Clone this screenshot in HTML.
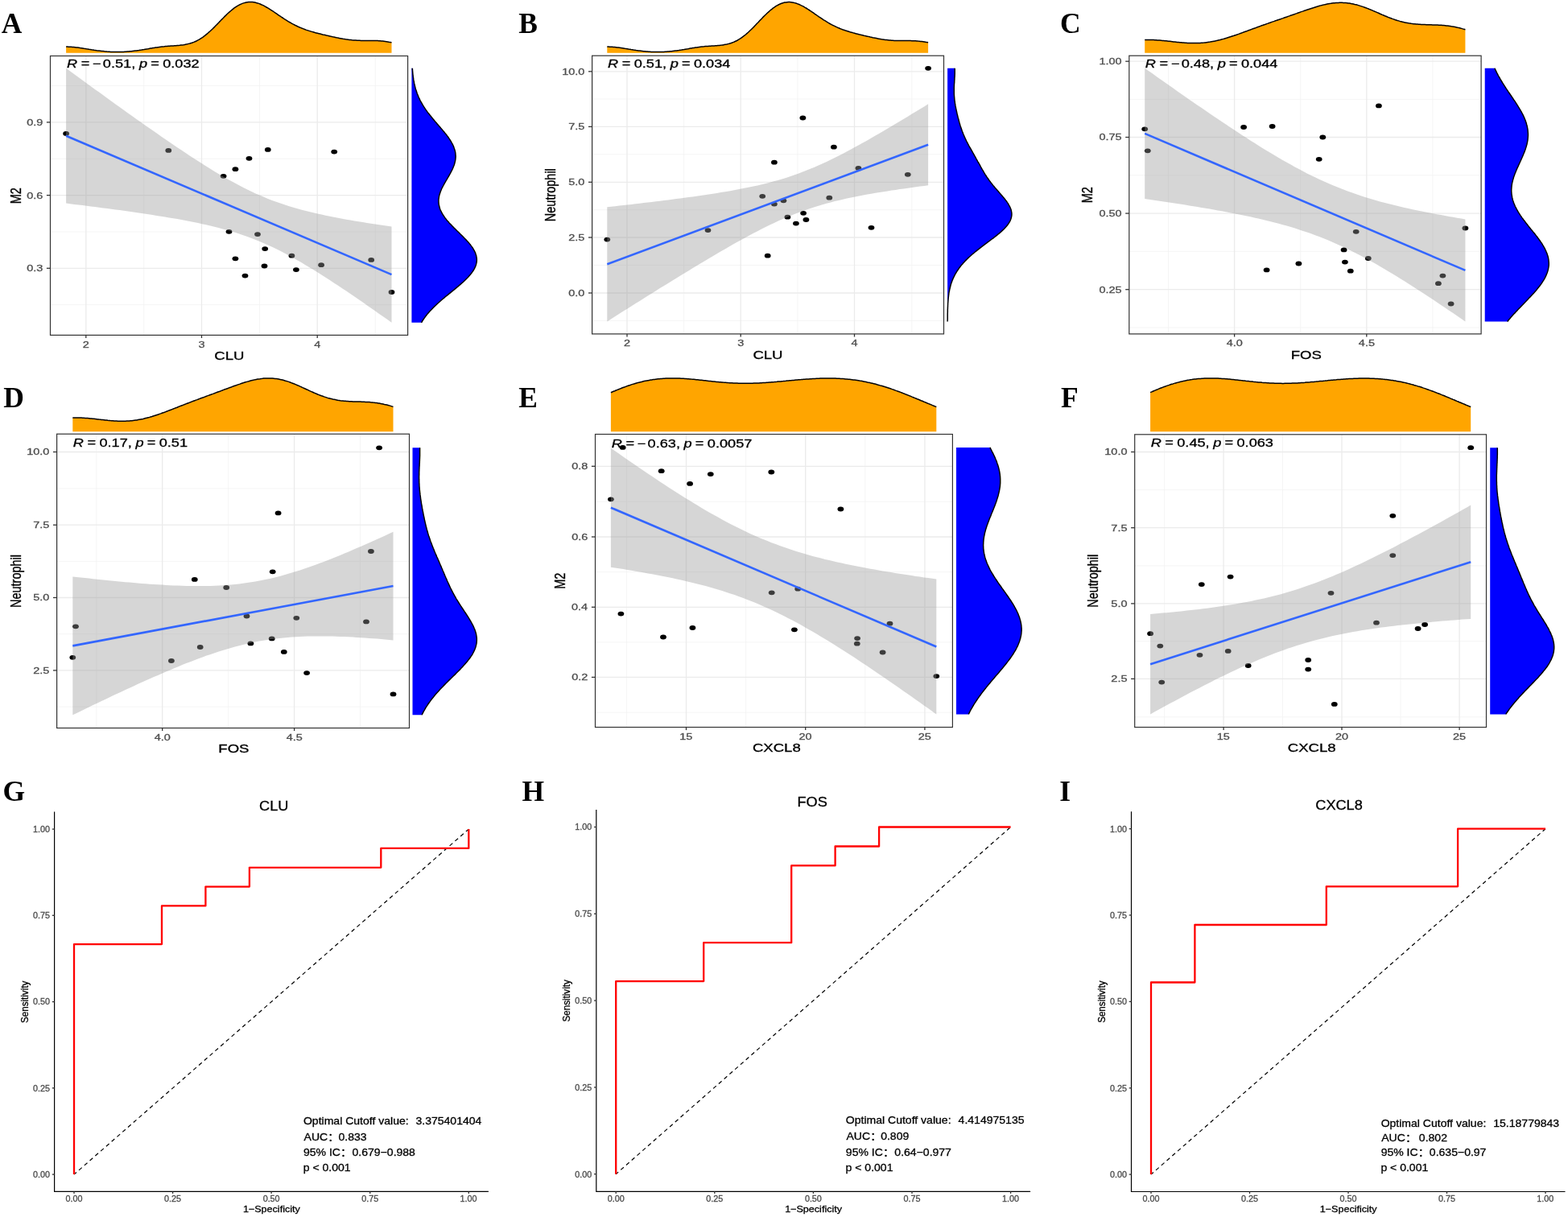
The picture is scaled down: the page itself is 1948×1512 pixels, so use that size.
<!DOCTYPE html>
<html><head><meta charset="utf-8"><title>Figure</title>
<style>
html,body{margin:0;padding:0;background:#fff;width:1948px;height:1512px;overflow:hidden}
svg{display:block}
.gM{stroke:#EBEBEB;stroke-width:1.3}
.gm{stroke:#F2F2F2;stroke-width:0.8}
</style></head><body>
<svg width="1948" height="1512" viewBox="0 0 1948 1512" font-family="'Liberation Sans', Arial, Helvetica, 'Noto Sans CJK SC', sans-serif"><g><line x1="178.7" y1="69.5" x2="178.7" y2="416.4" class="gm"/><line x1="322.5" y1="69.5" x2="322.5" y2="416.4" class="gm"/><line x1="466.3" y1="69.5" x2="466.3" y2="416.4" class="gm"/><line x1="62.5" y1="106.5" x2="506.6" y2="106.5" class="gm"/><line x1="62.5" y1="197.3" x2="506.6" y2="197.3" class="gm"/><line x1="62.5" y1="288.0" x2="506.6" y2="288.0" class="gm"/><line x1="62.5" y1="378.6" x2="506.6" y2="378.6" class="gm"/><line x1="106.8" y1="69.5" x2="106.8" y2="416.4" class="gM"/><line x1="250.5" y1="69.5" x2="250.5" y2="416.4" class="gM"/><line x1="394.2" y1="69.5" x2="394.2" y2="416.4" class="gM"/><line x1="62.5" y1="151.9" x2="506.6" y2="151.9" class="gM"/><line x1="62.5" y1="242.6" x2="506.6" y2="242.6" class="gM"/><line x1="62.5" y1="333.3" x2="506.6" y2="333.3" class="gM"/></g>
<g fill="#000"><ellipse cx="82.1" cy="165.9" rx="3.9" ry="2.9"/><ellipse cx="209.3" cy="186.9" rx="3.9" ry="2.9"/><ellipse cx="332.8" cy="185.9" rx="3.9" ry="2.9"/><ellipse cx="415.2" cy="188.6" rx="3.9" ry="2.9"/><ellipse cx="309.5" cy="196.8" rx="3.9" ry="2.9"/><ellipse cx="292.4" cy="210.2" rx="3.9" ry="2.9"/><ellipse cx="277.6" cy="218.8" rx="3.9" ry="2.9"/><ellipse cx="284.5" cy="287.8" rx="3.9" ry="2.9"/><ellipse cx="320.0" cy="291.1" rx="3.9" ry="2.9"/><ellipse cx="329.2" cy="309.1" rx="3.9" ry="2.9"/><ellipse cx="362.4" cy="317.7" rx="3.9" ry="2.9"/><ellipse cx="461.2" cy="322.9" rx="3.9" ry="2.9"/><ellipse cx="292.4" cy="321.3" rx="3.9" ry="2.9"/><ellipse cx="328.5" cy="330.5" rx="3.9" ry="2.9"/><ellipse cx="399.1" cy="329.2" rx="3.9" ry="2.9"/><ellipse cx="367.9" cy="335.1" rx="3.9" ry="2.9"/><ellipse cx="304.5" cy="342.6" rx="3.9" ry="2.9"/><ellipse cx="486.5" cy="363.0" rx="3.9" ry="2.9"/></g>
<polygon points="82.1,84.8 87.2,88.6 92.3,92.3 97.5,96.0 102.6,99.8 107.7,103.5 112.8,107.2 117.9,110.9 123.1,114.6 128.2,118.3 133.3,122.0 138.4,125.7 143.5,129.4 148.6,133.1 153.8,136.7 158.9,140.4 164.0,144.0 169.1,147.7 174.2,151.3 179.4,154.9 184.5,158.5 189.6,162.1 194.7,165.6 199.8,169.2 205.0,172.7 210.1,176.2 215.2,179.7 220.3,183.2 225.4,186.6 230.6,190.0 235.7,193.4 240.8,196.7 245.9,200.1 251.0,203.3 256.1,206.5 261.3,209.7 266.4,212.9 271.5,215.9 276.6,218.9 281.7,221.9 286.9,224.8 292.0,227.6 297.1,230.3 302.2,233.0 307.3,235.5 312.5,238.0 317.6,240.4 322.7,242.6 327.8,244.8 332.9,246.9 338.0,248.9 343.2,250.8 348.3,252.6 353.4,254.3 358.5,256.0 363.6,257.5 368.8,259.0 373.9,260.4 379.0,261.8 384.1,263.1 389.2,264.3 394.4,265.5 399.5,266.6 404.6,267.7 409.7,268.8 414.8,269.8 420.0,270.8 425.1,271.7 430.2,272.7 435.3,273.6 440.4,274.4 445.5,275.3 450.7,276.1 455.8,277.0 460.9,277.8 466.0,278.5 471.1,279.3 476.3,280.1 481.4,280.8 486.5,281.5 486.5,400.8 481.4,397.1 476.3,393.5 471.1,389.9 466.0,386.3 460.9,382.7 455.8,379.2 450.7,375.6 445.5,372.1 440.4,368.6 435.3,365.1 430.2,361.6 425.1,358.2 420.0,354.8 414.8,351.4 409.7,348.0 404.6,344.7 399.5,341.5 394.4,338.2 389.2,335.1 384.1,331.9 379.0,328.9 373.9,325.8 368.8,322.9 363.6,320.0 358.5,317.2 353.4,314.5 348.3,311.8 343.2,309.3 338.0,306.8 332.9,304.4 327.8,302.2 322.7,300.0 317.6,297.9 312.5,295.9 307.3,294.0 302.2,292.2 297.1,290.5 292.0,288.8 286.9,287.3 281.7,285.8 276.6,284.4 271.5,283.0 266.4,281.7 261.3,280.5 256.1,279.3 251.0,278.2 245.9,277.1 240.8,276.0 235.7,275.0 230.6,274.0 225.4,273.1 220.3,272.1 215.2,271.2 210.1,270.4 205.0,269.5 199.8,268.7 194.7,267.9 189.6,267.1 184.5,266.3 179.4,265.5 174.2,264.7 169.1,264.0 164.0,263.3 158.9,262.6 153.8,261.8 148.6,261.1 143.5,260.4 138.4,259.8 133.3,259.1 128.2,258.4 123.1,257.7 117.9,257.1 112.8,256.4 107.7,255.8 102.6,255.1 97.5,254.5 92.3,253.9 87.2,253.2 82.1,252.6" fill="#999" fill-opacity="0.4"/>
<line x1="82.1" y1="168.7" x2="486.5" y2="341.1" stroke="#3366FF" stroke-width="2.6"/>
<rect x="62.5" y="69.5" width="444.1" height="346.9" fill="none" stroke="#333" stroke-width="1.2"/>
<g stroke="#333" stroke-width="1.3"><line x1="106.8" y1="416.4" x2="106.8" y2="420.0"/><line x1="250.5" y1="416.4" x2="250.5" y2="420.0"/><line x1="394.2" y1="416.4" x2="394.2" y2="420.0"/><line x1="57.9" y1="151.9" x2="62.5" y2="151.9"/><line x1="57.9" y1="242.6" x2="62.5" y2="242.6"/><line x1="57.9" y1="333.3" x2="62.5" y2="333.3"/></g>
<text transform="translate(102.79,431.80) scale(1.280,1)" font-size="11.3" fill="#4D4D4D" stroke="#4D4D4D" stroke-width="0.3">2</text>
<text transform="translate(246.52,431.80) scale(1.280,1)" font-size="11.3" fill="#4D4D4D" stroke="#4D4D4D" stroke-width="0.3">3</text>
<text transform="translate(390.22,431.80) scale(1.280,1)" font-size="11.3" fill="#4D4D4D" stroke="#4D4D4D" stroke-width="0.3">4</text>
<text transform="translate(33.25,155.80) scale(1.280,1)" font-size="11.3" fill="#4D4D4D" stroke="#4D4D4D" stroke-width="0.3">0.9</text>
<text transform="translate(33.21,246.50) scale(1.280,1)" font-size="11.3" fill="#4D4D4D" stroke="#4D4D4D" stroke-width="0.3">0.6</text>
<text transform="translate(33.21,337.20) scale(1.280,1)" font-size="11.3" fill="#4D4D4D" stroke="#4D4D4D" stroke-width="0.3">0.3</text>
<text transform="translate(266.30,447.10) scale(1.280,1)" font-size="14.5" stroke="#000" stroke-width="0.3">CLU</text>
<text transform="translate(25.60,253.24) scale(1.280,1) rotate(-90)" font-size="14.5" stroke="#000" stroke-width="0.3">M2</text>
<text transform="translate(83.05,84.10) scale(1.280,1)" font-size="14.2" font-style="italic" stroke="#000" stroke-width="0.3">R</text>
<text transform="translate(100.73,84.10) scale(1.280,1)" font-size="14.2" stroke="#000" stroke-width="0.3">=</text>
<text transform="translate(114.85,84.10) scale(1.280,1)" font-size="14.2" stroke="#000" stroke-width="0.3">−</text>
<text transform="translate(127.85,84.10) scale(1.280,1)" font-size="14.2" stroke="#000" stroke-width="0.3">0.51,</text>
<text transform="translate(172.91,84.10) scale(1.280,1)" font-size="14.2" font-style="italic" stroke="#000" stroke-width="0.3">p</text>
<text transform="translate(187.14,84.10) scale(1.280,1)" font-size="14.2" stroke="#000" stroke-width="0.3">=</text>
<text transform="translate(202.14,84.10) scale(1.280,1)" font-size="14.2" stroke="#000" stroke-width="0.3">0.032</text>
<path d="M82.1,58.1 L83.7,58.1 L85.3,58.2 L86.9,58.2 L88.4,58.3 L90.0,58.4 L91.6,58.5 L93.2,58.7 L94.8,58.9 L96.4,59.0 L98.0,59.2 L99.5,59.5 L101.1,59.7 L102.7,59.9 L104.3,60.2 L105.9,60.4 L107.5,60.7 L109.1,60.9 L110.6,61.2 L112.2,61.4 L113.8,61.7 L115.4,61.9 L117.0,62.2 L118.6,62.4 L120.2,62.7 L121.7,62.9 L123.3,63.1 L124.9,63.3 L126.5,63.5 L128.1,63.6 L129.7,63.8 L131.3,63.9 L132.8,64.1 L134.4,64.2 L136.0,64.3 L137.6,64.4 L139.2,64.4 L140.8,64.5 L142.4,64.5 L143.9,64.6 L145.5,64.6 L147.1,64.6 L148.7,64.5 L150.3,64.5 L151.9,64.4 L153.5,64.4 L155.1,64.3 L156.6,64.2 L158.2,64.1 L159.8,64.0 L161.4,63.8 L163.0,63.7 L164.6,63.5 L166.2,63.3 L167.7,63.1 L169.3,62.9 L170.9,62.7 L172.5,62.5 L174.1,62.2 L175.7,62.0 L177.3,61.7 L178.8,61.5 L180.4,61.2 L182.0,60.9 L183.6,60.7 L185.2,60.4 L186.8,60.1 L188.4,59.9 L189.9,59.6 L191.5,59.4 L193.1,59.1 L194.7,58.9 L196.3,58.7 L197.9,58.5 L199.5,58.3 L201.0,58.1 L202.6,57.9 L204.2,57.8 L205.8,57.6 L207.4,57.5 L209.0,57.3 L210.6,57.2 L212.1,57.1 L213.7,57.0 L215.3,56.9 L216.9,56.8 L218.5,56.7 L220.1,56.5 L221.7,56.4 L223.2,56.3 L224.8,56.1 L226.4,55.9 L228.0,55.7 L229.6,55.4 L231.2,55.1 L232.8,54.8 L234.3,54.4 L235.9,54.0 L237.5,53.5 L239.1,53.0 L240.7,52.4 L242.3,51.7 L243.9,51.0 L245.4,50.2 L247.0,49.3 L248.6,48.4 L250.2,47.3 L251.8,46.3 L253.4,45.1 L255.0,43.9 L256.5,42.6 L258.1,41.3 L259.7,39.9 L261.3,38.5 L262.9,37.0 L264.5,35.5 L266.1,33.9 L267.6,32.3 L269.2,30.7 L270.8,29.1 L272.4,27.4 L274.0,25.8 L275.6,24.1 L277.2,22.5 L278.7,20.9 L280.3,19.4 L281.9,17.8 L283.5,16.3 L285.1,14.9 L286.7,13.5 L288.3,12.2 L289.9,10.9 L291.4,9.7 L293.0,8.6 L294.6,7.6 L296.2,6.7 L297.8,5.8 L299.4,5.1 L301.0,4.4 L302.5,3.9 L304.1,3.4 L305.7,3.0 L307.3,2.8 L308.9,2.6 L310.5,2.5 L312.1,2.5 L313.6,2.6 L315.2,2.8 L316.8,3.1 L318.4,3.5 L320.0,3.9 L321.6,4.4 L323.2,5.0 L324.7,5.7 L326.3,6.4 L327.9,7.2 L329.5,8.1 L331.1,9.0 L332.7,9.9 L334.3,10.9 L335.8,11.9 L337.4,12.9 L339.0,13.9 L340.6,15.0 L342.2,16.1 L343.8,17.2 L345.4,18.3 L346.9,19.3 L348.5,20.4 L350.1,21.5 L351.7,22.5 L353.3,23.6 L354.9,24.6 L356.5,25.6 L358.0,26.6 L359.6,27.5 L361.2,28.4 L362.8,29.3 L364.4,30.2 L366.0,31.0 L367.6,31.8 L369.1,32.5 L370.7,33.3 L372.3,34.0 L373.9,34.6 L375.5,35.3 L377.1,35.9 L378.7,36.5 L380.2,37.1 L381.8,37.6 L383.4,38.1 L385.0,38.6 L386.6,39.1 L388.2,39.6 L389.8,40.0 L391.3,40.5 L392.9,40.9 L394.5,41.3 L396.1,41.7 L397.7,42.1 L399.3,42.5 L400.9,42.9 L402.4,43.2 L404.0,43.6 L405.6,44.0 L407.2,44.3 L408.8,44.7 L410.4,45.1 L412.0,45.4 L413.5,45.8 L415.1,46.1 L416.7,46.4 L418.3,46.8 L419.9,47.1 L421.5,47.4 L423.1,47.7 L424.7,48.0 L426.2,48.3 L427.8,48.5 L429.4,48.8 L431.0,49.0 L432.6,49.2 L434.2,49.4 L435.8,49.6 L437.3,49.8 L438.9,49.9 L440.5,50.0 L442.1,50.1 L443.7,50.2 L445.3,50.3 L446.9,50.3 L448.4,50.4 L450.0,50.4 L451.6,50.4 L453.2,50.4 L454.8,50.4 L456.4,50.4 L458.0,50.4 L459.5,50.4 L461.1,50.5 L462.7,50.5 L464.3,50.5 L465.9,50.5 L467.5,50.6 L469.1,50.6 L470.6,50.7 L472.2,50.8 L473.8,51.0 L475.4,51.1 L477.0,51.3 L478.6,51.5 L480.2,51.7 L481.7,51.9 L483.3,52.2 L484.9,52.4 L486.5,52.7 L486.5,65.7 L82.1,65.7 Z" fill="#FFA500"/>
<path d="M82.1,58.1 L83.7,58.1 L85.3,58.2 L86.9,58.2 L88.4,58.3 L90.0,58.4 L91.6,58.5 L93.2,58.7 L94.8,58.9 L96.4,59.0 L98.0,59.2 L99.5,59.5 L101.1,59.7 L102.7,59.9 L104.3,60.2 L105.9,60.4 L107.5,60.7 L109.1,60.9 L110.6,61.2 L112.2,61.4 L113.8,61.7 L115.4,61.9 L117.0,62.2 L118.6,62.4 L120.2,62.7 L121.7,62.9 L123.3,63.1 L124.9,63.3 L126.5,63.5 L128.1,63.6 L129.7,63.8 L131.3,63.9 L132.8,64.1 L134.4,64.2 L136.0,64.3 L137.6,64.4 L139.2,64.4 L140.8,64.5 L142.4,64.5 L143.9,64.6 L145.5,64.6 L147.1,64.6 L148.7,64.5 L150.3,64.5 L151.9,64.4 L153.5,64.4 L155.1,64.3 L156.6,64.2 L158.2,64.1 L159.8,64.0 L161.4,63.8 L163.0,63.7 L164.6,63.5 L166.2,63.3 L167.7,63.1 L169.3,62.9 L170.9,62.7 L172.5,62.5 L174.1,62.2 L175.7,62.0 L177.3,61.7 L178.8,61.5 L180.4,61.2 L182.0,60.9 L183.6,60.7 L185.2,60.4 L186.8,60.1 L188.4,59.9 L189.9,59.6 L191.5,59.4 L193.1,59.1 L194.7,58.9 L196.3,58.7 L197.9,58.5 L199.5,58.3 L201.0,58.1 L202.6,57.9 L204.2,57.8 L205.8,57.6 L207.4,57.5 L209.0,57.3 L210.6,57.2 L212.1,57.1 L213.7,57.0 L215.3,56.9 L216.9,56.8 L218.5,56.7 L220.1,56.5 L221.7,56.4 L223.2,56.3 L224.8,56.1 L226.4,55.9 L228.0,55.7 L229.6,55.4 L231.2,55.1 L232.8,54.8 L234.3,54.4 L235.9,54.0 L237.5,53.5 L239.1,53.0 L240.7,52.4 L242.3,51.7 L243.9,51.0 L245.4,50.2 L247.0,49.3 L248.6,48.4 L250.2,47.3 L251.8,46.3 L253.4,45.1 L255.0,43.9 L256.5,42.6 L258.1,41.3 L259.7,39.9 L261.3,38.5 L262.9,37.0 L264.5,35.5 L266.1,33.9 L267.6,32.3 L269.2,30.7 L270.8,29.1 L272.4,27.4 L274.0,25.8 L275.6,24.1 L277.2,22.5 L278.7,20.9 L280.3,19.4 L281.9,17.8 L283.5,16.3 L285.1,14.9 L286.7,13.5 L288.3,12.2 L289.9,10.9 L291.4,9.7 L293.0,8.6 L294.6,7.6 L296.2,6.7 L297.8,5.8 L299.4,5.1 L301.0,4.4 L302.5,3.9 L304.1,3.4 L305.7,3.0 L307.3,2.8 L308.9,2.6 L310.5,2.5 L312.1,2.5 L313.6,2.6 L315.2,2.8 L316.8,3.1 L318.4,3.5 L320.0,3.9 L321.6,4.4 L323.2,5.0 L324.7,5.7 L326.3,6.4 L327.9,7.2 L329.5,8.1 L331.1,9.0 L332.7,9.9 L334.3,10.9 L335.8,11.9 L337.4,12.9 L339.0,13.9 L340.6,15.0 L342.2,16.1 L343.8,17.2 L345.4,18.3 L346.9,19.3 L348.5,20.4 L350.1,21.5 L351.7,22.5 L353.3,23.6 L354.9,24.6 L356.5,25.6 L358.0,26.6 L359.6,27.5 L361.2,28.4 L362.8,29.3 L364.4,30.2 L366.0,31.0 L367.6,31.8 L369.1,32.5 L370.7,33.3 L372.3,34.0 L373.9,34.6 L375.5,35.3 L377.1,35.9 L378.7,36.5 L380.2,37.1 L381.8,37.6 L383.4,38.1 L385.0,38.6 L386.6,39.1 L388.2,39.6 L389.8,40.0 L391.3,40.5 L392.9,40.9 L394.5,41.3 L396.1,41.7 L397.7,42.1 L399.3,42.5 L400.9,42.9 L402.4,43.2 L404.0,43.6 L405.6,44.0 L407.2,44.3 L408.8,44.7 L410.4,45.1 L412.0,45.4 L413.5,45.8 L415.1,46.1 L416.7,46.4 L418.3,46.8 L419.9,47.1 L421.5,47.4 L423.1,47.7 L424.7,48.0 L426.2,48.3 L427.8,48.5 L429.4,48.8 L431.0,49.0 L432.6,49.2 L434.2,49.4 L435.8,49.6 L437.3,49.8 L438.9,49.9 L440.5,50.0 L442.1,50.1 L443.7,50.2 L445.3,50.3 L446.9,50.3 L448.4,50.4 L450.0,50.4 L451.6,50.4 L453.2,50.4 L454.8,50.4 L456.4,50.4 L458.0,50.4 L459.5,50.4 L461.1,50.5 L462.7,50.5 L464.3,50.5 L465.9,50.5 L467.5,50.6 L469.1,50.6 L470.6,50.7 L472.2,50.8 L473.8,51.0 L475.4,51.1 L477.0,51.3 L478.6,51.5 L480.2,51.7 L481.7,51.9 L483.3,52.2 L484.9,52.4 L486.5,52.7" fill="none" stroke="#000" stroke-width="1.5" stroke-linejoin="round"/>
<path d="M512.3,84.8 L512.4,86.1 L512.5,87.3 L512.6,88.6 L512.7,89.8 L512.8,91.0 L512.9,92.3 L513.1,93.5 L513.2,94.8 L513.4,96.0 L513.6,97.2 L513.7,98.5 L513.9,99.7 L514.2,100.9 L514.4,102.2 L514.6,103.4 L514.9,104.7 L515.2,105.9 L515.5,107.1 L515.8,108.4 L516.1,109.6 L516.5,110.9 L516.9,112.1 L517.3,113.3 L517.7,114.6 L518.1,115.8 L518.6,117.1 L519.1,118.3 L519.6,119.5 L520.1,120.8 L520.7,122.0 L521.3,123.2 L521.9,124.5 L522.5,125.7 L523.2,127.0 L523.9,128.2 L524.6,129.4 L525.3,130.7 L526.1,131.9 L526.9,133.2 L527.7,134.4 L528.5,135.6 L529.4,136.9 L530.3,138.1 L531.2,139.4 L532.1,140.6 L533.1,141.8 L534.1,143.1 L535.1,144.3 L536.1,145.5 L537.1,146.8 L538.1,148.0 L539.2,149.3 L540.2,150.5 L541.3,151.7 L542.4,153.0 L543.4,154.2 L544.5,155.5 L545.6,156.7 L546.7,157.9 L547.7,159.2 L548.8,160.4 L549.8,161.7 L550.9,162.9 L551.9,164.1 L552.9,165.4 L553.9,166.6 L554.8,167.8 L555.8,169.1 L556.7,170.3 L557.6,171.6 L558.4,172.8 L559.2,174.0 L560.0,175.3 L560.7,176.5 L561.4,177.8 L562.1,179.0 L562.7,180.2 L563.3,181.5 L563.8,182.7 L564.2,184.0 L564.6,185.2 L565.0,186.4 L565.3,187.7 L565.6,188.9 L565.8,190.1 L565.9,191.4 L566.0,192.6 L566.1,193.9 L566.1,195.1 L566.0,196.3 L565.9,197.6 L565.7,198.8 L565.5,200.1 L565.2,201.3 L564.9,202.5 L564.6,203.8 L564.2,205.0 L563.7,206.3 L563.2,207.5 L562.7,208.7 L562.2,210.0 L561.6,211.2 L561.0,212.4 L560.3,213.7 L559.7,214.9 L559.0,216.2 L558.3,217.4 L557.6,218.6 L556.9,219.9 L556.1,221.1 L555.4,222.4 L554.7,223.6 L553.9,224.8 L553.2,226.1 L552.5,227.3 L551.8,228.6 L551.1,229.8 L550.5,231.0 L549.8,232.3 L549.2,233.5 L548.6,234.7 L548.1,236.0 L547.6,237.2 L547.1,238.5 L546.7,239.7 L546.3,240.9 L545.9,242.2 L545.6,243.4 L545.4,244.7 L545.2,245.9 L545.0,247.1 L544.9,248.4 L544.9,249.6 L544.9,250.9 L545.0,252.1 L545.1,253.3 L545.3,254.6 L545.6,255.8 L545.9,257.0 L546.2,258.3 L546.6,259.5 L547.1,260.8 L547.7,262.0 L548.3,263.2 L548.9,264.5 L549.6,265.7 L550.4,267.0 L551.2,268.2 L552.0,269.4 L552.9,270.7 L553.9,271.9 L554.9,273.2 L555.9,274.4 L557.0,275.6 L558.1,276.9 L559.2,278.1 L560.4,279.3 L561.6,280.6 L562.8,281.8 L564.0,283.1 L565.3,284.3 L566.5,285.5 L567.8,286.8 L569.1,288.0 L570.4,289.3 L571.6,290.5 L572.9,291.7 L574.2,293.0 L575.4,294.2 L576.6,295.5 L577.8,296.7 L579.0,297.9 L580.2,299.2 L581.3,300.4 L582.4,301.6 L583.4,302.9 L584.4,304.1 L585.3,305.4 L586.2,306.6 L587.1,307.8 L587.9,309.1 L588.6,310.3 L589.3,311.6 L589.9,312.8 L590.5,314.0 L590.9,315.3 L591.3,316.5 L591.7,317.8 L591.9,319.0 L592.1,320.2 L592.3,321.5 L592.3,322.7 L592.3,323.9 L592.2,325.2 L592.0,326.4 L591.7,327.7 L591.4,328.9 L591.0,330.1 L590.5,331.4 L589.9,332.6 L589.3,333.9 L588.6,335.1 L587.9,336.3 L587.0,337.6 L586.1,338.8 L585.2,340.1 L584.2,341.3 L583.1,342.5 L582.0,343.8 L580.9,345.0 L579.6,346.2 L578.4,347.5 L577.1,348.7 L575.8,350.0 L574.4,351.2 L573.0,352.4 L571.6,353.7 L570.1,354.9 L568.7,356.2 L567.2,357.4 L565.7,358.6 L564.2,359.9 L562.6,361.1 L561.1,362.4 L559.6,363.6 L558.1,364.8 L556.6,366.1 L555.0,367.3 L553.5,368.5 L552.1,369.8 L550.6,371.0 L549.1,372.3 L547.7,373.5 L546.3,374.7 L544.9,376.0 L543.5,377.2 L542.2,378.5 L540.9,379.7 L539.6,380.9 L538.3,382.2 L537.1,383.4 L535.9,384.7 L534.7,385.9 L533.6,387.1 L532.5,388.4 L531.5,389.6 L530.4,390.8 L529.5,392.1 L528.5,393.3 L527.6,394.6 L526.7,395.8 L525.9,397.0 L525.0,398.3 L524.3,399.5 L523.5,400.8 L511.4,400.8 L511.4,84.8 Z" fill="#0000FF"/>
<path d="M512.3,84.8 L512.4,86.1 L512.5,87.3 L512.6,88.6 L512.7,89.8 L512.8,91.0 L512.9,92.3 L513.1,93.5 L513.2,94.8 L513.4,96.0 L513.6,97.2 L513.7,98.5 L513.9,99.7 L514.2,100.9 L514.4,102.2 L514.6,103.4 L514.9,104.7 L515.2,105.9 L515.5,107.1 L515.8,108.4 L516.1,109.6 L516.5,110.9 L516.9,112.1 L517.3,113.3 L517.7,114.6 L518.1,115.8 L518.6,117.1 L519.1,118.3 L519.6,119.5 L520.1,120.8 L520.7,122.0 L521.3,123.2 L521.9,124.5 L522.5,125.7 L523.2,127.0 L523.9,128.2 L524.6,129.4 L525.3,130.7 L526.1,131.9 L526.9,133.2 L527.7,134.4 L528.5,135.6 L529.4,136.9 L530.3,138.1 L531.2,139.4 L532.1,140.6 L533.1,141.8 L534.1,143.1 L535.1,144.3 L536.1,145.5 L537.1,146.8 L538.1,148.0 L539.2,149.3 L540.2,150.5 L541.3,151.7 L542.4,153.0 L543.4,154.2 L544.5,155.5 L545.6,156.7 L546.7,157.9 L547.7,159.2 L548.8,160.4 L549.8,161.7 L550.9,162.9 L551.9,164.1 L552.9,165.4 L553.9,166.6 L554.8,167.8 L555.8,169.1 L556.7,170.3 L557.6,171.6 L558.4,172.8 L559.2,174.0 L560.0,175.3 L560.7,176.5 L561.4,177.8 L562.1,179.0 L562.7,180.2 L563.3,181.5 L563.8,182.7 L564.2,184.0 L564.6,185.2 L565.0,186.4 L565.3,187.7 L565.6,188.9 L565.8,190.1 L565.9,191.4 L566.0,192.6 L566.1,193.9 L566.1,195.1 L566.0,196.3 L565.9,197.6 L565.7,198.8 L565.5,200.1 L565.2,201.3 L564.9,202.5 L564.6,203.8 L564.2,205.0 L563.7,206.3 L563.2,207.5 L562.7,208.7 L562.2,210.0 L561.6,211.2 L561.0,212.4 L560.3,213.7 L559.7,214.9 L559.0,216.2 L558.3,217.4 L557.6,218.6 L556.9,219.9 L556.1,221.1 L555.4,222.4 L554.7,223.6 L553.9,224.8 L553.2,226.1 L552.5,227.3 L551.8,228.6 L551.1,229.8 L550.5,231.0 L549.8,232.3 L549.2,233.5 L548.6,234.7 L548.1,236.0 L547.6,237.2 L547.1,238.5 L546.7,239.7 L546.3,240.9 L545.9,242.2 L545.6,243.4 L545.4,244.7 L545.2,245.9 L545.0,247.1 L544.9,248.4 L544.9,249.6 L544.9,250.9 L545.0,252.1 L545.1,253.3 L545.3,254.6 L545.6,255.8 L545.9,257.0 L546.2,258.3 L546.6,259.5 L547.1,260.8 L547.7,262.0 L548.3,263.2 L548.9,264.5 L549.6,265.7 L550.4,267.0 L551.2,268.2 L552.0,269.4 L552.9,270.7 L553.9,271.9 L554.9,273.2 L555.9,274.4 L557.0,275.6 L558.1,276.9 L559.2,278.1 L560.4,279.3 L561.6,280.6 L562.8,281.8 L564.0,283.1 L565.3,284.3 L566.5,285.5 L567.8,286.8 L569.1,288.0 L570.4,289.3 L571.6,290.5 L572.9,291.7 L574.2,293.0 L575.4,294.2 L576.6,295.5 L577.8,296.7 L579.0,297.9 L580.2,299.2 L581.3,300.4 L582.4,301.6 L583.4,302.9 L584.4,304.1 L585.3,305.4 L586.2,306.6 L587.1,307.8 L587.9,309.1 L588.6,310.3 L589.3,311.6 L589.9,312.8 L590.5,314.0 L590.9,315.3 L591.3,316.5 L591.7,317.8 L591.9,319.0 L592.1,320.2 L592.3,321.5 L592.3,322.7 L592.3,323.9 L592.2,325.2 L592.0,326.4 L591.7,327.7 L591.4,328.9 L591.0,330.1 L590.5,331.4 L589.9,332.6 L589.3,333.9 L588.6,335.1 L587.9,336.3 L587.0,337.6 L586.1,338.8 L585.2,340.1 L584.2,341.3 L583.1,342.5 L582.0,343.8 L580.9,345.0 L579.6,346.2 L578.4,347.5 L577.1,348.7 L575.8,350.0 L574.4,351.2 L573.0,352.4 L571.6,353.7 L570.1,354.9 L568.7,356.2 L567.2,357.4 L565.7,358.6 L564.2,359.9 L562.6,361.1 L561.1,362.4 L559.6,363.6 L558.1,364.8 L556.6,366.1 L555.0,367.3 L553.5,368.5 L552.1,369.8 L550.6,371.0 L549.1,372.3 L547.7,373.5 L546.3,374.7 L544.9,376.0 L543.5,377.2 L542.2,378.5 L540.9,379.7 L539.6,380.9 L538.3,382.2 L537.1,383.4 L535.9,384.7 L534.7,385.9 L533.6,387.1 L532.5,388.4 L531.5,389.6 L530.4,390.8 L529.5,392.1 L528.5,393.3 L527.6,394.6 L526.7,395.8 L525.9,397.0 L525.0,398.3 L524.3,399.5 L523.5,400.8" fill="none" stroke="#000" stroke-width="1.5" stroke-linejoin="round"/>
<text transform="translate(1.65,40.80)" font-size="35.5" font-weight="bold" font-family="'Liberation Serif', 'Times New Roman', serif">A</text>
<g><line x1="849.6" y1="69.2" x2="849.6" y2="414.9" class="gm"/><line x1="990.9" y1="69.2" x2="990.9" y2="414.9" class="gm"/><line x1="1132.8" y1="69.2" x2="1132.8" y2="414.9" class="gm"/><line x1="735.6" y1="123.0" x2="1172.5" y2="123.0" class="gm"/><line x1="735.6" y1="191.8" x2="1172.5" y2="191.8" class="gm"/><line x1="735.6" y1="260.7" x2="1172.5" y2="260.7" class="gm"/><line x1="735.6" y1="329.5" x2="1172.5" y2="329.5" class="gm"/><line x1="735.6" y1="398.4" x2="1172.5" y2="398.4" class="gm"/><line x1="779.0" y1="69.2" x2="779.0" y2="414.9" class="gM"/><line x1="920.2" y1="69.2" x2="920.2" y2="414.9" class="gM"/><line x1="1061.5" y1="69.2" x2="1061.5" y2="414.9" class="gM"/><line x1="735.6" y1="88.8" x2="1172.5" y2="88.8" class="gM"/><line x1="735.6" y1="157.4" x2="1172.5" y2="157.4" class="gM"/><line x1="735.6" y1="226.3" x2="1172.5" y2="226.3" class="gM"/><line x1="735.6" y1="295.0" x2="1172.5" y2="295.0" class="gM"/><line x1="735.6" y1="364.0" x2="1172.5" y2="364.0" class="gM"/></g>
<g fill="#000"><ellipse cx="754.3" cy="297.6" rx="3.9" ry="2.9"/><ellipse cx="879.5" cy="286.1" rx="3.9" ry="2.9"/><ellipse cx="953.7" cy="317.7" rx="3.9" ry="2.9"/><ellipse cx="947.2" cy="243.8" rx="3.9" ry="2.9"/><ellipse cx="961.9" cy="201.7" rx="3.9" ry="2.9"/><ellipse cx="961.9" cy="253.6" rx="3.9" ry="2.9"/><ellipse cx="973.4" cy="249.3" rx="3.9" ry="2.9"/><ellipse cx="978.4" cy="269.7" rx="3.9" ry="2.9"/><ellipse cx="988.9" cy="277.6" rx="3.9" ry="2.9"/><ellipse cx="997.4" cy="146.5" rx="3.9" ry="2.9"/><ellipse cx="998.1" cy="264.8" rx="3.9" ry="2.9"/><ellipse cx="1001.4" cy="273.0" rx="3.9" ry="2.9"/><ellipse cx="1030.3" cy="245.7" rx="3.9" ry="2.9"/><ellipse cx="1035.9" cy="182.7" rx="3.9" ry="2.9"/><ellipse cx="1066.4" cy="208.9" rx="3.9" ry="2.9"/><ellipse cx="1082.5" cy="282.8" rx="3.9" ry="2.9"/><ellipse cx="1127.8" cy="216.8" rx="3.9" ry="2.9"/><ellipse cx="1153.1" cy="84.8" rx="3.9" ry="2.9"/></g>
<polygon points="754.3,257.3 759.3,256.7 764.4,256.2 769.4,255.6 774.5,255.0 779.5,254.5 784.6,253.9 789.6,253.3 794.7,252.7 799.7,252.1 804.8,251.5 809.8,250.9 814.9,250.3 819.9,249.7 825.0,249.0 830.0,248.4 835.1,247.8 840.1,247.1 845.2,246.5 850.2,245.8 855.3,245.1 860.3,244.4 865.4,243.7 870.4,243.0 875.5,242.2 880.5,241.5 885.6,240.7 890.6,239.9 895.6,239.1 900.7,238.3 905.7,237.4 910.8,236.5 915.8,235.6 920.9,234.6 925.9,233.6 931.0,232.6 936.0,231.5 941.1,230.4 946.1,229.2 951.2,228.0 956.2,226.7 961.3,225.3 966.3,223.9 971.4,222.4 976.4,220.9 981.5,219.2 986.5,217.5 991.6,215.7 996.6,213.8 1001.7,211.8 1006.7,209.8 1011.8,207.7 1016.8,205.5 1021.8,203.2 1026.9,200.9 1031.9,198.5 1037.0,196.0 1042.0,193.5 1047.1,190.9 1052.1,188.2 1057.2,185.5 1062.2,182.8 1067.3,180.1 1072.3,177.2 1077.4,174.4 1082.4,171.5 1087.5,168.6 1092.5,165.7 1097.6,162.8 1102.6,159.8 1107.7,156.8 1112.7,153.8 1117.8,150.8 1122.8,147.8 1127.9,144.7 1132.9,141.6 1138.0,138.6 1143.0,135.5 1148.1,132.4 1153.1,129.3 1153.1,230.3 1148.1,231.0 1143.0,231.6 1138.0,232.3 1132.9,233.0 1127.9,233.7 1122.8,234.4 1117.8,235.1 1112.7,235.9 1107.7,236.6 1102.6,237.4 1097.6,238.2 1092.5,239.0 1087.5,239.8 1082.4,240.7 1077.4,241.6 1072.3,242.5 1067.3,243.5 1062.2,244.5 1057.2,245.5 1052.1,246.6 1047.1,247.7 1042.0,248.9 1037.0,250.1 1031.9,251.4 1026.9,252.8 1021.8,254.2 1016.8,255.7 1011.8,257.2 1006.7,258.9 1001.7,260.6 996.6,262.4 991.6,264.3 986.5,266.2 981.5,268.3 976.4,270.4 971.4,272.6 966.3,274.8 961.3,277.2 956.2,279.6 951.2,282.1 946.1,284.6 941.1,287.2 936.0,289.8 931.0,292.5 925.9,295.2 920.9,298.0 915.8,300.8 910.8,303.6 905.7,306.5 900.7,309.4 895.6,312.3 890.6,315.3 885.6,318.2 880.5,321.2 875.5,324.2 870.4,327.2 865.4,330.3 860.3,333.3 855.3,336.4 850.2,339.5 845.2,342.6 840.1,345.7 835.1,348.8 830.0,351.9 825.0,355.0 819.9,358.1 814.9,361.3 809.8,364.4 804.8,367.6 799.7,370.7 794.7,373.9 789.6,377.1 784.6,380.3 779.5,383.4 774.5,386.6 769.4,389.8 764.4,393.0 759.3,396.2 754.3,399.4" fill="#999" fill-opacity="0.4"/>
<line x1="754.3" y1="328.3" x2="1153.1" y2="179.8" stroke="#3366FF" stroke-width="2.6"/>
<rect x="735.6" y="69.2" width="436.9" height="345.7" fill="none" stroke="#333" stroke-width="1.2"/>
<g stroke="#333" stroke-width="1.3"><line x1="779.0" y1="414.9" x2="779.0" y2="418.5"/><line x1="920.2" y1="414.9" x2="920.2" y2="418.5"/><line x1="1061.5" y1="414.9" x2="1061.5" y2="418.5"/><line x1="731.0" y1="88.8" x2="735.6" y2="88.8"/><line x1="731.0" y1="157.4" x2="735.6" y2="157.4"/><line x1="731.0" y1="226.3" x2="735.6" y2="226.3"/><line x1="731.0" y1="295.0" x2="735.6" y2="295.0"/><line x1="731.0" y1="364.0" x2="735.6" y2="364.0"/></g>
<text transform="translate(774.99,430.30) scale(1.280,1)" font-size="11.3" fill="#4D4D4D" stroke="#4D4D4D" stroke-width="0.3">2</text>
<text transform="translate(916.22,430.30) scale(1.280,1)" font-size="11.3" fill="#4D4D4D" stroke="#4D4D4D" stroke-width="0.3">3</text>
<text transform="translate(1057.52,430.30) scale(1.280,1)" font-size="11.3" fill="#4D4D4D" stroke="#4D4D4D" stroke-width="0.3">4</text>
<text transform="translate(698.21,92.70) scale(1.280,1)" font-size="11.3" fill="#4D4D4D" stroke="#4D4D4D" stroke-width="0.3">10.0</text>
<text transform="translate(706.27,161.30) scale(1.280,1)" font-size="11.3" fill="#4D4D4D" stroke="#4D4D4D" stroke-width="0.3">7.5</text>
<text transform="translate(706.24,230.20) scale(1.280,1)" font-size="11.3" fill="#4D4D4D" stroke="#4D4D4D" stroke-width="0.3">5.0</text>
<text transform="translate(706.27,298.90) scale(1.280,1)" font-size="11.3" fill="#4D4D4D" stroke="#4D4D4D" stroke-width="0.3">2.5</text>
<text transform="translate(706.24,367.90) scale(1.280,1)" font-size="11.3" fill="#4D4D4D" stroke="#4D4D4D" stroke-width="0.3">0.0</text>
<text transform="translate(935.40,445.60) scale(1.280,1)" font-size="14.5" stroke="#000" stroke-width="0.3">CLU</text>
<text transform="translate(689.70,275.20) scale(1.280,1) rotate(-90)" font-size="14.5" stroke="#000" stroke-width="0.3">Neutrophil</text>
<text transform="translate(755.05,83.80) scale(1.280,1)" font-size="14.2" font-style="italic" stroke="#000" stroke-width="0.3">R</text>
<text transform="translate(772.73,83.80) scale(1.280,1)" font-size="14.2" stroke="#000" stroke-width="0.3">=</text>
<text transform="translate(787.63,83.80) scale(1.280,1)" font-size="14.2" stroke="#000" stroke-width="0.3">0.51,</text>
<text transform="translate(832.69,83.80) scale(1.280,1)" font-size="14.2" font-style="italic" stroke="#000" stroke-width="0.3">p</text>
<text transform="translate(846.92,83.80) scale(1.280,1)" font-size="14.2" stroke="#000" stroke-width="0.3">=</text>
<text transform="translate(861.92,83.80) scale(1.280,1)" font-size="14.2" stroke="#000" stroke-width="0.3">0.034</text>
<path d="M754.3,58.1 L755.9,58.1 L757.4,58.2 L759.0,58.2 L760.6,58.3 L762.1,58.4 L763.7,58.5 L765.2,58.7 L766.8,58.9 L768.4,59.1 L769.9,59.3 L771.5,59.5 L773.1,59.7 L774.6,59.9 L776.2,60.2 L777.8,60.4 L779.3,60.7 L780.9,61.0 L782.5,61.2 L784.0,61.5 L785.6,61.7 L787.1,62.0 L788.7,62.2 L790.3,62.5 L791.8,62.7 L793.4,62.9 L795.0,63.1 L796.5,63.3 L798.1,63.5 L799.7,63.7 L801.2,63.8 L802.8,64.0 L804.3,64.1 L805.9,64.2 L807.5,64.3 L809.0,64.4 L810.6,64.5 L812.2,64.5 L813.7,64.6 L815.3,64.6 L816.9,64.6 L818.4,64.6 L820.0,64.6 L821.5,64.5 L823.1,64.5 L824.7,64.4 L826.2,64.3 L827.8,64.2 L829.4,64.1 L830.9,64.0 L832.5,63.8 L834.1,63.7 L835.6,63.5 L837.2,63.3 L838.8,63.1 L840.3,62.9 L841.9,62.7 L843.4,62.5 L845.0,62.2 L846.6,62.0 L848.1,61.7 L849.7,61.5 L851.3,61.2 L852.8,60.9 L854.4,60.7 L856.0,60.4 L857.5,60.1 L859.1,59.9 L860.6,59.6 L862.2,59.4 L863.8,59.1 L865.3,58.9 L866.9,58.7 L868.5,58.5 L870.0,58.3 L871.6,58.1 L873.2,57.9 L874.7,57.8 L876.3,57.6 L877.8,57.5 L879.4,57.4 L881.0,57.3 L882.5,57.2 L884.1,57.1 L885.7,57.0 L887.2,56.9 L888.8,56.8 L890.4,56.7 L891.9,56.5 L893.5,56.4 L895.1,56.2 L896.6,56.1 L898.2,55.9 L899.7,55.6 L901.3,55.3 L902.9,55.0 L904.4,54.6 L906.0,54.2 L907.6,53.8 L909.1,53.2 L910.7,52.6 L912.3,52.0 L913.8,51.2 L915.4,50.5 L916.9,49.6 L918.5,48.7 L920.1,47.7 L921.6,46.6 L923.2,45.4 L924.8,44.2 L926.3,43.0 L927.9,41.6 L929.5,40.2 L931.0,38.8 L932.6,37.3 L934.2,35.7 L935.7,34.2 L937.3,32.6 L938.8,31.0 L940.4,29.3 L942.0,27.7 L943.5,26.0 L945.1,24.4 L946.7,22.7 L948.2,21.1 L949.8,19.5 L951.4,18.0 L952.9,16.5 L954.5,15.1 L956.0,13.7 L957.6,12.3 L959.2,11.1 L960.7,9.9 L962.3,8.8 L963.9,7.7 L965.4,6.8 L967.0,6.0 L968.6,5.2 L970.1,4.5 L971.7,4.0 L973.2,3.5 L974.8,3.1 L976.4,2.9 L977.9,2.7 L979.5,2.6 L981.1,2.6 L982.6,2.7 L984.2,2.9 L985.8,3.2 L987.3,3.6 L988.9,4.0 L990.5,4.6 L992.0,5.2 L993.6,5.8 L995.1,6.6 L996.7,7.4 L998.3,8.2 L999.8,9.1 L1001.4,10.0 L1003.0,11.0 L1004.5,12.0 L1006.1,13.0 L1007.7,14.1 L1009.2,15.1 L1010.8,16.2 L1012.3,17.3 L1013.9,18.4 L1015.5,19.5 L1017.0,20.6 L1018.6,21.6 L1020.2,22.7 L1021.7,23.7 L1023.3,24.8 L1024.9,25.7 L1026.4,26.7 L1028.0,27.7 L1029.6,28.6 L1031.1,29.5 L1032.7,30.3 L1034.2,31.2 L1035.8,31.9 L1037.4,32.7 L1038.9,33.4 L1040.5,34.2 L1042.1,34.8 L1043.6,35.5 L1045.2,36.1 L1046.8,36.7 L1048.3,37.2 L1049.9,37.8 L1051.4,38.3 L1053.0,38.8 L1054.6,39.3 L1056.1,39.8 L1057.7,40.2 L1059.3,40.6 L1060.8,41.1 L1062.4,41.5 L1064.0,41.9 L1065.5,42.3 L1067.1,42.7 L1068.6,43.1 L1070.2,43.4 L1071.8,43.8 L1073.3,44.2 L1074.9,44.5 L1076.5,44.9 L1078.0,45.3 L1079.6,45.6 L1081.2,46.0 L1082.7,46.3 L1084.3,46.7 L1085.9,47.0 L1087.4,47.3 L1089.0,47.6 L1090.5,47.9 L1092.1,48.2 L1093.7,48.5 L1095.2,48.8 L1096.8,49.0 L1098.4,49.2 L1099.9,49.4 L1101.5,49.6 L1103.1,49.8 L1104.6,50.0 L1106.2,50.1 L1107.7,50.2 L1109.3,50.3 L1110.9,50.4 L1112.4,50.5 L1114.0,50.5 L1115.6,50.5 L1117.1,50.6 L1118.7,50.6 L1120.3,50.6 L1121.8,50.6 L1123.4,50.6 L1124.9,50.6 L1126.5,50.6 L1128.1,50.6 L1129.6,50.6 L1131.2,50.6 L1132.8,50.7 L1134.3,50.7 L1135.9,50.8 L1137.5,50.8 L1139.0,50.9 L1140.6,51.1 L1142.2,51.2 L1143.7,51.4 L1145.3,51.6 L1146.8,51.8 L1148.4,52.0 L1150.0,52.3 L1151.5,52.5 L1153.1,52.8 L1153.1,65.7 L754.3,65.7 Z" fill="#FFA500"/>
<path d="M754.3,58.1 L755.9,58.1 L757.4,58.2 L759.0,58.2 L760.6,58.3 L762.1,58.4 L763.7,58.5 L765.2,58.7 L766.8,58.9 L768.4,59.1 L769.9,59.3 L771.5,59.5 L773.1,59.7 L774.6,59.9 L776.2,60.2 L777.8,60.4 L779.3,60.7 L780.9,61.0 L782.5,61.2 L784.0,61.5 L785.6,61.7 L787.1,62.0 L788.7,62.2 L790.3,62.5 L791.8,62.7 L793.4,62.9 L795.0,63.1 L796.5,63.3 L798.1,63.5 L799.7,63.7 L801.2,63.8 L802.8,64.0 L804.3,64.1 L805.9,64.2 L807.5,64.3 L809.0,64.4 L810.6,64.5 L812.2,64.5 L813.7,64.6 L815.3,64.6 L816.9,64.6 L818.4,64.6 L820.0,64.6 L821.5,64.5 L823.1,64.5 L824.7,64.4 L826.2,64.3 L827.8,64.2 L829.4,64.1 L830.9,64.0 L832.5,63.8 L834.1,63.7 L835.6,63.5 L837.2,63.3 L838.8,63.1 L840.3,62.9 L841.9,62.7 L843.4,62.5 L845.0,62.2 L846.6,62.0 L848.1,61.7 L849.7,61.5 L851.3,61.2 L852.8,60.9 L854.4,60.7 L856.0,60.4 L857.5,60.1 L859.1,59.9 L860.6,59.6 L862.2,59.4 L863.8,59.1 L865.3,58.9 L866.9,58.7 L868.5,58.5 L870.0,58.3 L871.6,58.1 L873.2,57.9 L874.7,57.8 L876.3,57.6 L877.8,57.5 L879.4,57.4 L881.0,57.3 L882.5,57.2 L884.1,57.1 L885.7,57.0 L887.2,56.9 L888.8,56.8 L890.4,56.7 L891.9,56.5 L893.5,56.4 L895.1,56.2 L896.6,56.1 L898.2,55.9 L899.7,55.6 L901.3,55.3 L902.9,55.0 L904.4,54.6 L906.0,54.2 L907.6,53.8 L909.1,53.2 L910.7,52.6 L912.3,52.0 L913.8,51.2 L915.4,50.5 L916.9,49.6 L918.5,48.7 L920.1,47.7 L921.6,46.6 L923.2,45.4 L924.8,44.2 L926.3,43.0 L927.9,41.6 L929.5,40.2 L931.0,38.8 L932.6,37.3 L934.2,35.7 L935.7,34.2 L937.3,32.6 L938.8,31.0 L940.4,29.3 L942.0,27.7 L943.5,26.0 L945.1,24.4 L946.7,22.7 L948.2,21.1 L949.8,19.5 L951.4,18.0 L952.9,16.5 L954.5,15.1 L956.0,13.7 L957.6,12.3 L959.2,11.1 L960.7,9.9 L962.3,8.8 L963.9,7.7 L965.4,6.8 L967.0,6.0 L968.6,5.2 L970.1,4.5 L971.7,4.0 L973.2,3.5 L974.8,3.1 L976.4,2.9 L977.9,2.7 L979.5,2.6 L981.1,2.6 L982.6,2.7 L984.2,2.9 L985.8,3.2 L987.3,3.6 L988.9,4.0 L990.5,4.6 L992.0,5.2 L993.6,5.8 L995.1,6.6 L996.7,7.4 L998.3,8.2 L999.8,9.1 L1001.4,10.0 L1003.0,11.0 L1004.5,12.0 L1006.1,13.0 L1007.7,14.1 L1009.2,15.1 L1010.8,16.2 L1012.3,17.3 L1013.9,18.4 L1015.5,19.5 L1017.0,20.6 L1018.6,21.6 L1020.2,22.7 L1021.7,23.7 L1023.3,24.8 L1024.9,25.7 L1026.4,26.7 L1028.0,27.7 L1029.6,28.6 L1031.1,29.5 L1032.7,30.3 L1034.2,31.2 L1035.8,31.9 L1037.4,32.7 L1038.9,33.4 L1040.5,34.2 L1042.1,34.8 L1043.6,35.5 L1045.2,36.1 L1046.8,36.7 L1048.3,37.2 L1049.9,37.8 L1051.4,38.3 L1053.0,38.8 L1054.6,39.3 L1056.1,39.8 L1057.7,40.2 L1059.3,40.6 L1060.8,41.1 L1062.4,41.5 L1064.0,41.9 L1065.5,42.3 L1067.1,42.7 L1068.6,43.1 L1070.2,43.4 L1071.8,43.8 L1073.3,44.2 L1074.9,44.5 L1076.5,44.9 L1078.0,45.3 L1079.6,45.6 L1081.2,46.0 L1082.7,46.3 L1084.3,46.7 L1085.9,47.0 L1087.4,47.3 L1089.0,47.6 L1090.5,47.9 L1092.1,48.2 L1093.7,48.5 L1095.2,48.8 L1096.8,49.0 L1098.4,49.2 L1099.9,49.4 L1101.5,49.6 L1103.1,49.8 L1104.6,50.0 L1106.2,50.1 L1107.7,50.2 L1109.3,50.3 L1110.9,50.4 L1112.4,50.5 L1114.0,50.5 L1115.6,50.5 L1117.1,50.6 L1118.7,50.6 L1120.3,50.6 L1121.8,50.6 L1123.4,50.6 L1124.9,50.6 L1126.5,50.6 L1128.1,50.6 L1129.6,50.6 L1131.2,50.6 L1132.8,50.7 L1134.3,50.7 L1135.9,50.8 L1137.5,50.8 L1139.0,50.9 L1140.6,51.1 L1142.2,51.2 L1143.7,51.4 L1145.3,51.6 L1146.8,51.8 L1148.4,52.0 L1150.0,52.3 L1151.5,52.5 L1153.1,52.8" fill="none" stroke="#000" stroke-width="1.5" stroke-linejoin="round"/>
<path d="M1186.1,84.8 L1186.2,86.0 L1186.2,87.3 L1186.2,88.5 L1186.2,89.7 L1186.2,91.0 L1186.2,92.2 L1186.1,93.4 L1186.1,94.7 L1186.0,95.9 L1185.9,97.1 L1185.9,98.4 L1185.8,99.6 L1185.7,100.8 L1185.7,102.1 L1185.6,103.3 L1185.5,104.5 L1185.4,105.8 L1185.4,107.0 L1185.3,108.2 L1185.3,109.5 L1185.3,110.7 L1185.3,111.9 L1185.3,113.2 L1185.3,114.4 L1185.3,115.6 L1185.3,116.9 L1185.4,118.1 L1185.5,119.3 L1185.6,120.6 L1185.7,121.8 L1185.8,123.0 L1185.9,124.3 L1186.1,125.5 L1186.2,126.7 L1186.4,128.0 L1186.6,129.2 L1186.8,130.4 L1187.0,131.7 L1187.3,132.9 L1187.5,134.2 L1187.8,135.4 L1188.0,136.6 L1188.3,137.9 L1188.6,139.1 L1188.8,140.3 L1189.1,141.6 L1189.4,142.8 L1189.7,144.0 L1190.0,145.3 L1190.3,146.5 L1190.7,147.7 L1191.0,149.0 L1191.3,150.2 L1191.7,151.4 L1192.0,152.7 L1192.4,153.9 L1192.7,155.1 L1193.1,156.4 L1193.5,157.6 L1193.9,158.8 L1194.3,160.1 L1194.8,161.3 L1195.2,162.5 L1195.7,163.8 L1196.2,165.0 L1196.6,166.2 L1197.2,167.5 L1197.7,168.7 L1198.2,169.9 L1198.8,171.2 L1199.3,172.4 L1199.9,173.6 L1200.5,174.9 L1201.1,176.1 L1201.8,177.3 L1202.4,178.6 L1203.1,179.8 L1203.7,181.0 L1204.4,182.3 L1205.1,183.5 L1205.8,184.7 L1206.5,186.0 L1207.2,187.2 L1207.9,188.4 L1208.6,189.7 L1209.3,190.9 L1210.0,192.1 L1210.7,193.4 L1211.4,194.6 L1212.1,195.8 L1212.7,197.1 L1213.4,198.3 L1214.1,199.5 L1214.8,200.8 L1215.5,202.0 L1216.2,203.2 L1216.9,204.5 L1217.6,205.7 L1218.2,206.9 L1218.9,208.2 L1219.6,209.4 L1220.3,210.6 L1221.1,211.9 L1221.8,213.1 L1222.5,214.3 L1223.3,215.6 L1224.0,216.8 L1224.8,218.0 L1225.6,219.3 L1226.4,220.5 L1227.3,221.7 L1228.2,223.0 L1229.0,224.2 L1230.0,225.4 L1230.9,226.7 L1231.9,227.9 L1232.8,229.1 L1233.8,230.4 L1234.8,231.6 L1235.9,232.9 L1236.9,234.1 L1238.0,235.3 L1239.1,236.6 L1240.2,237.8 L1241.2,239.0 L1242.3,240.3 L1243.4,241.5 L1244.5,242.7 L1245.5,244.0 L1246.6,245.2 L1247.6,246.4 L1248.6,247.7 L1249.5,248.9 L1250.5,250.1 L1251.3,251.4 L1252.2,252.6 L1252.9,253.8 L1253.6,255.1 L1254.3,256.3 L1254.9,257.5 L1255.4,258.8 L1255.9,260.0 L1256.2,261.2 L1256.5,262.5 L1256.7,263.7 L1256.9,264.9 L1256.9,266.2 L1256.9,267.4 L1256.7,268.6 L1256.5,269.9 L1256.2,271.1 L1255.8,272.3 L1255.3,273.6 L1254.7,274.8 L1254.0,276.0 L1253.2,277.3 L1252.4,278.5 L1251.5,279.7 L1250.5,281.0 L1249.4,282.2 L1248.3,283.4 L1247.1,284.7 L1245.8,285.9 L1244.5,287.1 L1243.1,288.4 L1241.7,289.6 L1240.2,290.8 L1238.7,292.1 L1237.1,293.3 L1235.6,294.5 L1234.0,295.8 L1232.3,297.0 L1230.7,298.2 L1229.1,299.5 L1227.4,300.7 L1225.8,301.9 L1224.1,303.2 L1222.5,304.4 L1220.8,305.6 L1219.2,306.9 L1217.6,308.1 L1216.0,309.3 L1214.4,310.6 L1212.9,311.8 L1211.4,313.0 L1209.9,314.3 L1208.4,315.5 L1207.0,316.7 L1205.6,318.0 L1204.2,319.2 L1202.9,320.4 L1201.6,321.7 L1200.4,322.9 L1199.2,324.1 L1198.0,325.4 L1196.9,326.6 L1195.8,327.9 L1194.7,329.1 L1193.7,330.3 L1192.8,331.6 L1191.8,332.8 L1190.9,334.0 L1190.1,335.3 L1189.2,336.5 L1188.5,337.7 L1187.7,339.0 L1187.0,340.2 L1186.3,341.4 L1185.7,342.7 L1185.1,343.9 L1184.5,345.1 L1183.9,346.4 L1183.4,347.6 L1182.9,348.8 L1182.5,350.1 L1182.0,351.3 L1181.6,352.5 L1181.2,353.8 L1180.9,355.0 L1180.6,356.2 L1180.3,357.5 L1180.0,358.7 L1179.7,359.9 L1179.5,361.2 L1179.2,362.4 L1179.0,363.6 L1178.8,364.9 L1178.7,366.1 L1178.5,367.3 L1178.4,368.6 L1178.2,369.8 L1178.1,371.0 L1178.0,372.3 L1177.9,373.5 L1177.8,374.7 L1177.7,376.0 L1177.6,377.2 L1177.6,378.4 L1177.5,379.7 L1177.5,380.9 L1177.4,382.1 L1177.4,383.4 L1177.3,384.6 L1177.3,385.8 L1177.3,387.1 L1177.3,388.3 L1177.2,389.5 L1177.2,390.8 L1177.2,392.0 L1177.2,393.2 L1177.2,394.5 L1177.2,395.7 L1177.2,396.9 L1177.1,398.2 L1177.1,399.4 L1177.1,399.4 L1177.1,84.8 Z" fill="#0000FF"/>
<path d="M1186.1,84.8 L1186.2,86.0 L1186.2,87.3 L1186.2,88.5 L1186.2,89.7 L1186.2,91.0 L1186.2,92.2 L1186.1,93.4 L1186.1,94.7 L1186.0,95.9 L1185.9,97.1 L1185.9,98.4 L1185.8,99.6 L1185.7,100.8 L1185.7,102.1 L1185.6,103.3 L1185.5,104.5 L1185.4,105.8 L1185.4,107.0 L1185.3,108.2 L1185.3,109.5 L1185.3,110.7 L1185.3,111.9 L1185.3,113.2 L1185.3,114.4 L1185.3,115.6 L1185.3,116.9 L1185.4,118.1 L1185.5,119.3 L1185.6,120.6 L1185.7,121.8 L1185.8,123.0 L1185.9,124.3 L1186.1,125.5 L1186.2,126.7 L1186.4,128.0 L1186.6,129.2 L1186.8,130.4 L1187.0,131.7 L1187.3,132.9 L1187.5,134.2 L1187.8,135.4 L1188.0,136.6 L1188.3,137.9 L1188.6,139.1 L1188.8,140.3 L1189.1,141.6 L1189.4,142.8 L1189.7,144.0 L1190.0,145.3 L1190.3,146.5 L1190.7,147.7 L1191.0,149.0 L1191.3,150.2 L1191.7,151.4 L1192.0,152.7 L1192.4,153.9 L1192.7,155.1 L1193.1,156.4 L1193.5,157.6 L1193.9,158.8 L1194.3,160.1 L1194.8,161.3 L1195.2,162.5 L1195.7,163.8 L1196.2,165.0 L1196.6,166.2 L1197.2,167.5 L1197.7,168.7 L1198.2,169.9 L1198.8,171.2 L1199.3,172.4 L1199.9,173.6 L1200.5,174.9 L1201.1,176.1 L1201.8,177.3 L1202.4,178.6 L1203.1,179.8 L1203.7,181.0 L1204.4,182.3 L1205.1,183.5 L1205.8,184.7 L1206.5,186.0 L1207.2,187.2 L1207.9,188.4 L1208.6,189.7 L1209.3,190.9 L1210.0,192.1 L1210.7,193.4 L1211.4,194.6 L1212.1,195.8 L1212.7,197.1 L1213.4,198.3 L1214.1,199.5 L1214.8,200.8 L1215.5,202.0 L1216.2,203.2 L1216.9,204.5 L1217.6,205.7 L1218.2,206.9 L1218.9,208.2 L1219.6,209.4 L1220.3,210.6 L1221.1,211.9 L1221.8,213.1 L1222.5,214.3 L1223.3,215.6 L1224.0,216.8 L1224.8,218.0 L1225.6,219.3 L1226.4,220.5 L1227.3,221.7 L1228.2,223.0 L1229.0,224.2 L1230.0,225.4 L1230.9,226.7 L1231.9,227.9 L1232.8,229.1 L1233.8,230.4 L1234.8,231.6 L1235.9,232.9 L1236.9,234.1 L1238.0,235.3 L1239.1,236.6 L1240.2,237.8 L1241.2,239.0 L1242.3,240.3 L1243.4,241.5 L1244.5,242.7 L1245.5,244.0 L1246.6,245.2 L1247.6,246.4 L1248.6,247.7 L1249.5,248.9 L1250.5,250.1 L1251.3,251.4 L1252.2,252.6 L1252.9,253.8 L1253.6,255.1 L1254.3,256.3 L1254.9,257.5 L1255.4,258.8 L1255.9,260.0 L1256.2,261.2 L1256.5,262.5 L1256.7,263.7 L1256.9,264.9 L1256.9,266.2 L1256.9,267.4 L1256.7,268.6 L1256.5,269.9 L1256.2,271.1 L1255.8,272.3 L1255.3,273.6 L1254.7,274.8 L1254.0,276.0 L1253.2,277.3 L1252.4,278.5 L1251.5,279.7 L1250.5,281.0 L1249.4,282.2 L1248.3,283.4 L1247.1,284.7 L1245.8,285.9 L1244.5,287.1 L1243.1,288.4 L1241.7,289.6 L1240.2,290.8 L1238.7,292.1 L1237.1,293.3 L1235.6,294.5 L1234.0,295.8 L1232.3,297.0 L1230.7,298.2 L1229.1,299.5 L1227.4,300.7 L1225.8,301.9 L1224.1,303.2 L1222.5,304.4 L1220.8,305.6 L1219.2,306.9 L1217.6,308.1 L1216.0,309.3 L1214.4,310.6 L1212.9,311.8 L1211.4,313.0 L1209.9,314.3 L1208.4,315.5 L1207.0,316.7 L1205.6,318.0 L1204.2,319.2 L1202.9,320.4 L1201.6,321.7 L1200.4,322.9 L1199.2,324.1 L1198.0,325.4 L1196.9,326.6 L1195.8,327.9 L1194.7,329.1 L1193.7,330.3 L1192.8,331.6 L1191.8,332.8 L1190.9,334.0 L1190.1,335.3 L1189.2,336.5 L1188.5,337.7 L1187.7,339.0 L1187.0,340.2 L1186.3,341.4 L1185.7,342.7 L1185.1,343.9 L1184.5,345.1 L1183.9,346.4 L1183.4,347.6 L1182.9,348.8 L1182.5,350.1 L1182.0,351.3 L1181.6,352.5 L1181.2,353.8 L1180.9,355.0 L1180.6,356.2 L1180.3,357.5 L1180.0,358.7 L1179.7,359.9 L1179.5,361.2 L1179.2,362.4 L1179.0,363.6 L1178.8,364.9 L1178.7,366.1 L1178.5,367.3 L1178.4,368.6 L1178.2,369.8 L1178.1,371.0 L1178.0,372.3 L1177.9,373.5 L1177.8,374.7 L1177.7,376.0 L1177.6,377.2 L1177.6,378.4 L1177.5,379.7 L1177.5,380.9 L1177.4,382.1 L1177.4,383.4 L1177.3,384.6 L1177.3,385.8 L1177.3,387.1 L1177.3,388.3 L1177.2,389.5 L1177.2,390.8 L1177.2,392.0 L1177.2,393.2 L1177.2,394.5 L1177.2,395.7 L1177.2,396.9 L1177.1,398.2 L1177.1,399.4" fill="none" stroke="#000" stroke-width="1.5" stroke-linejoin="round"/>
<text transform="translate(644.28,41.00)" font-size="35.5" font-weight="bold" font-family="'Liberation Serif', 'Times New Roman', serif">B</text>
<g><line x1="1451.5" y1="69.2" x2="1451.5" y2="414.9" class="gm"/><line x1="1615.7" y1="69.2" x2="1615.7" y2="414.9" class="gm"/><line x1="1779.9" y1="69.2" x2="1779.9" y2="414.9" class="gm"/><line x1="1402.8" y1="123.4" x2="1840.1" y2="123.4" class="gm"/><line x1="1402.8" y1="217.8" x2="1840.1" y2="217.8" class="gm"/><line x1="1402.8" y1="312.4" x2="1840.1" y2="312.4" class="gm"/><line x1="1402.8" y1="407.0" x2="1840.1" y2="407.0" class="gm"/><line x1="1533.6" y1="69.2" x2="1533.6" y2="414.9" class="gM"/><line x1="1697.8" y1="69.2" x2="1697.8" y2="414.9" class="gM"/><line x1="1402.8" y1="76.2" x2="1840.1" y2="76.2" class="gM"/><line x1="1402.8" y1="170.5" x2="1840.1" y2="170.5" class="gM"/><line x1="1402.8" y1="265.1" x2="1840.1" y2="265.1" class="gM"/><line x1="1402.8" y1="359.7" x2="1840.1" y2="359.7" class="gM"/></g>
<g fill="#000"><ellipse cx="1422.2" cy="160.3" rx="3.9" ry="2.9"/><ellipse cx="1425.8" cy="187.3" rx="3.9" ry="2.9"/><ellipse cx="1545.1" cy="158.0" rx="3.9" ry="2.9"/><ellipse cx="1580.6" cy="157.0" rx="3.9" ry="2.9"/><ellipse cx="1643.3" cy="170.5" rx="3.9" ry="2.9"/><ellipse cx="1638.7" cy="197.8" rx="3.9" ry="2.9"/><ellipse cx="1712.9" cy="131.4" rx="3.9" ry="2.9"/><ellipse cx="1684.7" cy="287.8" rx="3.9" ry="2.9"/><ellipse cx="1669.6" cy="310.4" rx="3.9" ry="2.9"/><ellipse cx="1670.9" cy="325.6" rx="3.9" ry="2.9"/><ellipse cx="1677.8" cy="336.7" rx="3.9" ry="2.9"/><ellipse cx="1699.8" cy="321.0" rx="3.9" ry="2.9"/><ellipse cx="1613.4" cy="327.5" rx="3.9" ry="2.9"/><ellipse cx="1573.6" cy="335.4" rx="3.9" ry="2.9"/><ellipse cx="1792.4" cy="342.6" rx="3.9" ry="2.9"/><ellipse cx="1786.9" cy="352.2" rx="3.9" ry="2.9"/><ellipse cx="1802.6" cy="377.5" rx="3.9" ry="2.9"/><ellipse cx="1820.4" cy="283.5" rx="3.9" ry="2.9"/></g>
<polygon points="1422.2,84.7 1427.2,88.3 1432.3,91.8 1437.3,95.4 1442.4,99.0 1447.4,102.5 1452.4,106.1 1457.5,109.6 1462.5,113.2 1467.6,116.7 1472.6,120.2 1477.6,123.7 1482.7,127.2 1487.7,130.7 1492.8,134.1 1497.8,137.6 1502.8,141.0 1507.9,144.4 1512.9,147.8 1518.0,151.2 1523.0,154.6 1528.1,158.0 1533.1,161.3 1538.1,164.6 1543.2,167.9 1548.2,171.1 1553.3,174.4 1558.3,177.6 1563.3,180.7 1568.4,183.9 1573.4,187.0 1578.5,190.0 1583.5,193.0 1588.5,196.0 1593.6,198.9 1598.6,201.8 1603.7,204.6 1608.7,207.4 1613.7,210.1 1618.8,212.8 1623.8,215.4 1628.9,217.9 1633.9,220.3 1638.9,222.7 1644.0,225.1 1649.0,227.3 1654.1,229.5 1659.1,231.6 1664.1,233.6 1669.2,235.6 1674.2,237.5 1679.3,239.3 1684.3,241.1 1689.3,242.8 1694.4,244.4 1699.4,246.0 1704.5,247.5 1709.5,249.0 1714.5,250.4 1719.6,251.7 1724.6,253.1 1729.7,254.3 1734.7,255.6 1739.8,256.8 1744.8,257.9 1749.8,259.1 1754.9,260.2 1759.9,261.2 1765.0,262.3 1770.0,263.3 1775.0,264.3 1780.1,265.2 1785.1,266.2 1790.2,267.1 1795.2,268.0 1800.2,268.9 1805.3,269.8 1810.3,270.7 1815.4,271.5 1820.4,272.4 1820.4,399.5 1815.4,396.0 1810.3,392.5 1805.3,389.1 1800.2,385.7 1795.2,382.3 1790.2,378.9 1785.1,375.5 1780.1,372.1 1775.0,368.8 1770.0,365.5 1765.0,362.2 1759.9,358.9 1754.9,355.7 1749.8,352.5 1744.8,349.3 1739.8,346.2 1734.7,343.1 1729.7,340.0 1724.6,337.0 1719.6,334.0 1714.5,331.0 1709.5,328.1 1704.5,325.3 1699.4,322.5 1694.4,319.8 1689.3,317.1 1684.3,314.5 1679.3,312.0 1674.2,309.5 1669.2,307.1 1664.1,304.7 1659.1,302.5 1654.1,300.3 1649.0,298.1 1644.0,296.1 1638.9,294.1 1633.9,292.2 1628.9,290.3 1623.8,288.6 1618.8,286.9 1613.7,285.2 1608.7,283.6 1603.7,282.1 1598.6,280.6 1593.6,279.2 1588.5,277.8 1583.5,276.5 1578.5,275.2 1573.4,273.9 1568.4,272.7 1563.3,271.5 1558.3,270.4 1553.3,269.3 1548.2,268.2 1543.2,267.2 1538.1,266.2 1533.1,265.2 1528.1,264.2 1523.0,263.2 1518.0,262.3 1512.9,261.4 1507.9,260.5 1502.8,259.6 1497.8,258.7 1492.8,257.9 1487.7,257.0 1482.7,256.2 1477.6,255.4 1472.6,254.6 1467.6,253.8 1462.5,253.0 1457.5,252.2 1452.4,251.5 1447.4,250.7 1442.4,250.0 1437.3,249.2 1432.3,248.5 1427.2,247.8 1422.2,247.1" fill="#999" fill-opacity="0.4"/>
<line x1="1422.2" y1="165.9" x2="1820.4" y2="335.9" stroke="#3366FF" stroke-width="2.6"/>
<rect x="1402.8" y="69.2" width="437.3" height="345.7" fill="none" stroke="#333" stroke-width="1.2"/>
<g stroke="#333" stroke-width="1.3"><line x1="1533.6" y1="414.9" x2="1533.6" y2="418.5"/><line x1="1697.8" y1="414.9" x2="1697.8" y2="418.5"/><line x1="1398.2" y1="76.2" x2="1402.8" y2="76.2"/><line x1="1398.2" y1="170.5" x2="1402.8" y2="170.5"/><line x1="1398.2" y1="265.1" x2="1402.8" y2="265.1"/><line x1="1398.2" y1="359.7" x2="1402.8" y2="359.7"/></g>
<text transform="translate(1523.66,430.30) scale(1.280,1)" font-size="11.3" fill="#4D4D4D" stroke="#4D4D4D" stroke-width="0.3">4.0</text>
<text transform="translate(1687.87,430.30) scale(1.280,1)" font-size="11.3" fill="#4D4D4D" stroke="#4D4D4D" stroke-width="0.3">4.5</text>
<text transform="translate(1365.41,80.10) scale(1.280,1)" font-size="11.3" fill="#4D4D4D" stroke="#4D4D4D" stroke-width="0.3">1.00</text>
<text transform="translate(1365.45,174.40) scale(1.280,1)" font-size="11.3" fill="#4D4D4D" stroke="#4D4D4D" stroke-width="0.3">0.75</text>
<text transform="translate(1365.41,269.00) scale(1.280,1)" font-size="11.3" fill="#4D4D4D" stroke="#4D4D4D" stroke-width="0.3">0.50</text>
<text transform="translate(1365.45,363.60) scale(1.280,1)" font-size="11.3" fill="#4D4D4D" stroke="#4D4D4D" stroke-width="0.3">0.25</text>
<text transform="translate(1603.70,445.60) scale(1.280,1)" font-size="14.5" stroke="#000" stroke-width="0.3">FOS</text>
<text transform="translate(1357.40,252.34) scale(1.280,1) rotate(-90)" font-size="14.5" stroke="#000" stroke-width="0.3">M2</text>
<text transform="translate(1422.85,84.30) scale(1.280,1)" font-size="14.2" font-style="italic" stroke="#000" stroke-width="0.3">R</text>
<text transform="translate(1440.53,84.30) scale(1.280,1)" font-size="14.2" stroke="#000" stroke-width="0.3">=</text>
<text transform="translate(1454.65,84.30) scale(1.280,1)" font-size="14.2" stroke="#000" stroke-width="0.3">−</text>
<text transform="translate(1467.65,84.30) scale(1.280,1)" font-size="14.2" stroke="#000" stroke-width="0.3">0.48,</text>
<text transform="translate(1512.71,84.30) scale(1.280,1)" font-size="14.2" font-style="italic" stroke="#000" stroke-width="0.3">p</text>
<text transform="translate(1526.94,84.30) scale(1.280,1)" font-size="14.2" stroke="#000" stroke-width="0.3">=</text>
<text transform="translate(1541.94,84.30) scale(1.280,1)" font-size="14.2" stroke="#000" stroke-width="0.3">0.044</text>
<path d="M1422.2,49.6 L1423.8,49.5 L1425.3,49.5 L1426.9,49.5 L1428.4,49.5 L1430.0,49.5 L1431.6,49.6 L1433.1,49.6 L1434.7,49.7 L1436.3,49.8 L1437.8,49.9 L1439.4,50.0 L1440.9,50.1 L1442.5,50.2 L1444.1,50.4 L1445.6,50.5 L1447.2,50.7 L1448.7,50.8 L1450.3,51.0 L1451.9,51.2 L1453.4,51.3 L1455.0,51.5 L1456.6,51.7 L1458.1,51.9 L1459.7,52.0 L1461.2,52.2 L1462.8,52.4 L1464.4,52.5 L1465.9,52.7 L1467.5,52.8 L1469.0,53.0 L1470.6,53.1 L1472.2,53.2 L1473.7,53.3 L1475.3,53.4 L1476.9,53.5 L1478.4,53.5 L1480.0,53.6 L1481.5,53.6 L1483.1,53.6 L1484.7,53.6 L1486.2,53.6 L1487.8,53.6 L1489.3,53.5 L1490.9,53.4 L1492.5,53.3 L1494.0,53.2 L1495.6,53.1 L1497.2,52.9 L1498.7,52.7 L1500.3,52.5 L1501.8,52.3 L1503.4,52.1 L1505.0,51.8 L1506.5,51.5 L1508.1,51.2 L1509.6,50.9 L1511.2,50.6 L1512.8,50.2 L1514.3,49.8 L1515.9,49.5 L1517.5,49.0 L1519.0,48.6 L1520.6,48.2 L1522.1,47.7 L1523.7,47.3 L1525.3,46.8 L1526.8,46.3 L1528.4,45.8 L1529.9,45.3 L1531.5,44.8 L1533.1,44.3 L1534.6,43.7 L1536.2,43.2 L1537.8,42.6 L1539.3,42.1 L1540.9,41.5 L1542.4,41.0 L1544.0,40.4 L1545.6,39.8 L1547.1,39.2 L1548.7,38.7 L1550.2,38.1 L1551.8,37.5 L1553.4,37.0 L1554.9,36.4 L1556.5,35.8 L1558.1,35.2 L1559.6,34.7 L1561.2,34.1 L1562.7,33.5 L1564.3,33.0 L1565.9,32.4 L1567.4,31.8 L1569.0,31.3 L1570.5,30.7 L1572.1,30.2 L1573.7,29.6 L1575.2,29.1 L1576.8,28.5 L1578.4,28.0 L1579.9,27.4 L1581.5,26.9 L1583.0,26.4 L1584.6,25.8 L1586.2,25.3 L1587.7,24.7 L1589.3,24.2 L1590.8,23.7 L1592.4,23.1 L1594.0,22.6 L1595.5,22.0 L1597.1,21.5 L1598.7,21.0 L1600.2,20.4 L1601.8,19.9 L1603.3,19.3 L1604.9,18.8 L1606.5,18.2 L1608.0,17.7 L1609.6,17.1 L1611.1,16.6 L1612.7,16.0 L1614.3,15.5 L1615.8,14.9 L1617.4,14.4 L1619.0,13.9 L1620.5,13.3 L1622.1,12.8 L1623.6,12.2 L1625.2,11.7 L1626.8,11.2 L1628.3,10.7 L1629.9,10.2 L1631.5,9.7 L1633.0,9.2 L1634.6,8.7 L1636.1,8.2 L1637.7,7.8 L1639.3,7.3 L1640.8,6.9 L1642.4,6.5 L1643.9,6.1 L1645.5,5.8 L1647.1,5.4 L1648.6,5.1 L1650.2,4.8 L1651.8,4.5 L1653.3,4.3 L1654.9,4.0 L1656.4,3.8 L1658.0,3.7 L1659.6,3.5 L1661.1,3.4 L1662.7,3.4 L1664.2,3.3 L1665.8,3.3 L1667.4,3.3 L1668.9,3.4 L1670.5,3.5 L1672.1,3.6 L1673.6,3.7 L1675.2,3.9 L1676.7,4.1 L1678.3,4.4 L1679.9,4.7 L1681.4,5.0 L1683.0,5.4 L1684.5,5.7 L1686.1,6.1 L1687.7,6.6 L1689.2,7.1 L1690.8,7.6 L1692.4,8.1 L1693.9,8.6 L1695.5,9.2 L1697.0,9.8 L1698.6,10.4 L1700.2,11.0 L1701.7,11.6 L1703.3,12.3 L1704.8,12.9 L1706.4,13.6 L1708.0,14.3 L1709.5,14.9 L1711.1,15.6 L1712.7,16.3 L1714.2,17.0 L1715.8,17.7 L1717.3,18.4 L1718.9,19.0 L1720.5,19.7 L1722.0,20.3 L1723.6,21.0 L1725.1,21.6 L1726.7,22.2 L1728.3,22.8 L1729.8,23.4 L1731.4,23.9 L1733.0,24.5 L1734.5,25.0 L1736.1,25.5 L1737.6,25.9 L1739.2,26.4 L1740.8,26.8 L1742.3,27.2 L1743.9,27.6 L1745.4,27.9 L1747.0,28.2 L1748.6,28.5 L1750.1,28.8 L1751.7,29.0 L1753.3,29.3 L1754.8,29.5 L1756.4,29.7 L1757.9,29.8 L1759.5,30.0 L1761.1,30.1 L1762.6,30.2 L1764.2,30.3 L1765.7,30.4 L1767.3,30.5 L1768.9,30.5 L1770.4,30.6 L1772.0,30.7 L1773.6,30.7 L1775.1,30.7 L1776.7,30.8 L1778.2,30.8 L1779.8,30.9 L1781.4,30.9 L1782.9,31.0 L1784.5,31.0 L1786.0,31.1 L1787.6,31.2 L1789.2,31.2 L1790.7,31.3 L1792.3,31.5 L1793.9,31.6 L1795.4,31.7 L1797.0,31.9 L1798.5,32.1 L1800.1,32.3 L1801.7,32.5 L1803.2,32.8 L1804.8,33.0 L1806.3,33.3 L1807.9,33.6 L1809.5,33.9 L1811.0,34.3 L1812.6,34.6 L1814.2,35.0 L1815.7,35.4 L1817.3,35.9 L1818.8,36.3 L1820.4,36.8 L1820.4,65.7 L1422.2,65.7 Z" fill="#FFA500"/>
<path d="M1422.2,49.6 L1423.8,49.5 L1425.3,49.5 L1426.9,49.5 L1428.4,49.5 L1430.0,49.5 L1431.6,49.6 L1433.1,49.6 L1434.7,49.7 L1436.3,49.8 L1437.8,49.9 L1439.4,50.0 L1440.9,50.1 L1442.5,50.2 L1444.1,50.4 L1445.6,50.5 L1447.2,50.7 L1448.7,50.8 L1450.3,51.0 L1451.9,51.2 L1453.4,51.3 L1455.0,51.5 L1456.6,51.7 L1458.1,51.9 L1459.7,52.0 L1461.2,52.2 L1462.8,52.4 L1464.4,52.5 L1465.9,52.7 L1467.5,52.8 L1469.0,53.0 L1470.6,53.1 L1472.2,53.2 L1473.7,53.3 L1475.3,53.4 L1476.9,53.5 L1478.4,53.5 L1480.0,53.6 L1481.5,53.6 L1483.1,53.6 L1484.7,53.6 L1486.2,53.6 L1487.8,53.6 L1489.3,53.5 L1490.9,53.4 L1492.5,53.3 L1494.0,53.2 L1495.6,53.1 L1497.2,52.9 L1498.7,52.7 L1500.3,52.5 L1501.8,52.3 L1503.4,52.1 L1505.0,51.8 L1506.5,51.5 L1508.1,51.2 L1509.6,50.9 L1511.2,50.6 L1512.8,50.2 L1514.3,49.8 L1515.9,49.5 L1517.5,49.0 L1519.0,48.6 L1520.6,48.2 L1522.1,47.7 L1523.7,47.3 L1525.3,46.8 L1526.8,46.3 L1528.4,45.8 L1529.9,45.3 L1531.5,44.8 L1533.1,44.3 L1534.6,43.7 L1536.2,43.2 L1537.8,42.6 L1539.3,42.1 L1540.9,41.5 L1542.4,41.0 L1544.0,40.4 L1545.6,39.8 L1547.1,39.2 L1548.7,38.7 L1550.2,38.1 L1551.8,37.5 L1553.4,37.0 L1554.9,36.4 L1556.5,35.8 L1558.1,35.2 L1559.6,34.7 L1561.2,34.1 L1562.7,33.5 L1564.3,33.0 L1565.9,32.4 L1567.4,31.8 L1569.0,31.3 L1570.5,30.7 L1572.1,30.2 L1573.7,29.6 L1575.2,29.1 L1576.8,28.5 L1578.4,28.0 L1579.9,27.4 L1581.5,26.9 L1583.0,26.4 L1584.6,25.8 L1586.2,25.3 L1587.7,24.7 L1589.3,24.2 L1590.8,23.7 L1592.4,23.1 L1594.0,22.6 L1595.5,22.0 L1597.1,21.5 L1598.7,21.0 L1600.2,20.4 L1601.8,19.9 L1603.3,19.3 L1604.9,18.8 L1606.5,18.2 L1608.0,17.7 L1609.6,17.1 L1611.1,16.6 L1612.7,16.0 L1614.3,15.5 L1615.8,14.9 L1617.4,14.4 L1619.0,13.9 L1620.5,13.3 L1622.1,12.8 L1623.6,12.2 L1625.2,11.7 L1626.8,11.2 L1628.3,10.7 L1629.9,10.2 L1631.5,9.7 L1633.0,9.2 L1634.6,8.7 L1636.1,8.2 L1637.7,7.8 L1639.3,7.3 L1640.8,6.9 L1642.4,6.5 L1643.9,6.1 L1645.5,5.8 L1647.1,5.4 L1648.6,5.1 L1650.2,4.8 L1651.8,4.5 L1653.3,4.3 L1654.9,4.0 L1656.4,3.8 L1658.0,3.7 L1659.6,3.5 L1661.1,3.4 L1662.7,3.4 L1664.2,3.3 L1665.8,3.3 L1667.4,3.3 L1668.9,3.4 L1670.5,3.5 L1672.1,3.6 L1673.6,3.7 L1675.2,3.9 L1676.7,4.1 L1678.3,4.4 L1679.9,4.7 L1681.4,5.0 L1683.0,5.4 L1684.5,5.7 L1686.1,6.1 L1687.7,6.6 L1689.2,7.1 L1690.8,7.6 L1692.4,8.1 L1693.9,8.6 L1695.5,9.2 L1697.0,9.8 L1698.6,10.4 L1700.2,11.0 L1701.7,11.6 L1703.3,12.3 L1704.8,12.9 L1706.4,13.6 L1708.0,14.3 L1709.5,14.9 L1711.1,15.6 L1712.7,16.3 L1714.2,17.0 L1715.8,17.7 L1717.3,18.4 L1718.9,19.0 L1720.5,19.7 L1722.0,20.3 L1723.6,21.0 L1725.1,21.6 L1726.7,22.2 L1728.3,22.8 L1729.8,23.4 L1731.4,23.9 L1733.0,24.5 L1734.5,25.0 L1736.1,25.5 L1737.6,25.9 L1739.2,26.4 L1740.8,26.8 L1742.3,27.2 L1743.9,27.6 L1745.4,27.9 L1747.0,28.2 L1748.6,28.5 L1750.1,28.8 L1751.7,29.0 L1753.3,29.3 L1754.8,29.5 L1756.4,29.7 L1757.9,29.8 L1759.5,30.0 L1761.1,30.1 L1762.6,30.2 L1764.2,30.3 L1765.7,30.4 L1767.3,30.5 L1768.9,30.5 L1770.4,30.6 L1772.0,30.7 L1773.6,30.7 L1775.1,30.7 L1776.7,30.8 L1778.2,30.8 L1779.8,30.9 L1781.4,30.9 L1782.9,31.0 L1784.5,31.0 L1786.0,31.1 L1787.6,31.2 L1789.2,31.2 L1790.7,31.3 L1792.3,31.5 L1793.9,31.6 L1795.4,31.7 L1797.0,31.9 L1798.5,32.1 L1800.1,32.3 L1801.7,32.5 L1803.2,32.8 L1804.8,33.0 L1806.3,33.3 L1807.9,33.6 L1809.5,33.9 L1811.0,34.3 L1812.6,34.6 L1814.2,35.0 L1815.7,35.4 L1817.3,35.9 L1818.8,36.3 L1820.4,36.8" fill="none" stroke="#000" stroke-width="1.5" stroke-linejoin="round"/>
<path d="M1856.9,84.7 L1857.4,85.9 L1858.0,87.2 L1858.6,88.4 L1859.2,89.6 L1859.8,90.9 L1860.5,92.1 L1861.1,93.3 L1861.8,94.6 L1862.5,95.8 L1863.2,97.0 L1863.9,98.3 L1864.6,99.5 L1865.3,100.7 L1866.1,102.0 L1866.8,103.2 L1867.6,104.4 L1868.4,105.7 L1869.2,106.9 L1870.0,108.1 L1870.8,109.4 L1871.6,110.6 L1872.4,111.8 L1873.3,113.1 L1874.1,114.3 L1874.9,115.5 L1875.8,116.8 L1876.6,118.0 L1877.5,119.3 L1878.3,120.5 L1879.2,121.7 L1880.0,123.0 L1880.8,124.2 L1881.7,125.4 L1882.5,126.7 L1883.3,127.9 L1884.1,129.1 L1884.9,130.4 L1885.7,131.6 L1886.4,132.8 L1887.2,134.1 L1887.9,135.3 L1888.7,136.5 L1889.4,137.8 L1890.1,139.0 L1890.7,140.2 L1891.4,141.5 L1892.0,142.7 L1892.6,143.9 L1893.2,145.2 L1893.7,146.4 L1894.2,147.6 L1894.7,148.9 L1895.2,150.1 L1895.6,151.3 L1896.0,152.6 L1896.4,153.8 L1896.7,155.0 L1897.1,156.3 L1897.3,157.5 L1897.6,158.8 L1897.8,160.0 L1898.0,161.2 L1898.1,162.5 L1898.2,163.7 L1898.3,164.9 L1898.4,166.2 L1898.4,167.4 L1898.4,168.6 L1898.3,169.9 L1898.2,171.1 L1898.1,172.3 L1898.0,173.6 L1897.8,174.8 L1897.6,176.0 L1897.3,177.3 L1897.1,178.5 L1896.8,179.7 L1896.4,181.0 L1896.1,182.2 L1895.7,183.4 L1895.3,184.7 L1894.9,185.9 L1894.5,187.1 L1894.0,188.4 L1893.5,189.6 L1893.0,190.8 L1892.5,192.1 L1892.0,193.3 L1891.5,194.5 L1890.9,195.8 L1890.4,197.0 L1889.8,198.3 L1889.3,199.5 L1888.7,200.7 L1888.1,202.0 L1887.6,203.2 L1887.0,204.4 L1886.4,205.7 L1885.9,206.9 L1885.3,208.1 L1884.7,209.4 L1884.2,210.6 L1883.7,211.8 L1883.2,213.1 L1882.7,214.3 L1882.2,215.5 L1881.7,216.8 L1881.3,218.0 L1880.8,219.2 L1880.4,220.5 L1880.1,221.7 L1879.7,222.9 L1879.4,224.2 L1879.1,225.4 L1878.8,226.6 L1878.5,227.9 L1878.3,229.1 L1878.1,230.3 L1878.0,231.6 L1877.9,232.8 L1877.8,234.1 L1877.7,235.3 L1877.7,236.5 L1877.7,237.8 L1877.8,239.0 L1877.9,240.2 L1878.0,241.5 L1878.2,242.7 L1878.4,243.9 L1878.6,245.2 L1878.9,246.4 L1879.2,247.6 L1879.5,248.9 L1879.9,250.1 L1880.3,251.3 L1880.8,252.6 L1881.3,253.8 L1881.8,255.0 L1882.3,256.3 L1882.9,257.5 L1883.6,258.7 L1884.2,260.0 L1884.9,261.2 L1885.6,262.4 L1886.3,263.7 L1887.1,264.9 L1887.9,266.1 L1888.7,267.4 L1889.6,268.6 L1890.4,269.8 L1891.3,271.1 L1892.2,272.3 L1893.1,273.6 L1894.1,274.8 L1895.0,276.0 L1896.0,277.3 L1897.0,278.5 L1897.9,279.7 L1898.9,281.0 L1899.9,282.2 L1900.9,283.4 L1901.9,284.7 L1902.9,285.9 L1903.9,287.1 L1904.9,288.4 L1905.9,289.6 L1906.9,290.8 L1907.9,292.1 L1908.8,293.3 L1909.8,294.5 L1910.7,295.8 L1911.6,297.0 L1912.5,298.2 L1913.4,299.5 L1914.2,300.7 L1915.1,301.9 L1915.9,303.2 L1916.6,304.4 L1917.4,305.6 L1918.1,306.9 L1918.8,308.1 L1919.4,309.3 L1920.0,310.6 L1920.6,311.8 L1921.1,313.1 L1921.6,314.3 L1922.1,315.5 L1922.5,316.8 L1922.9,318.0 L1923.2,319.2 L1923.5,320.5 L1923.7,321.7 L1923.9,322.9 L1924.0,324.2 L1924.1,325.4 L1924.2,326.6 L1924.2,327.9 L1924.2,329.1 L1924.1,330.3 L1923.9,331.6 L1923.7,332.8 L1923.5,334.0 L1923.2,335.3 L1922.9,336.5 L1922.5,337.7 L1922.1,339.0 L1921.6,340.2 L1921.1,341.4 L1920.6,342.7 L1920.0,343.9 L1919.4,345.1 L1918.7,346.4 L1918.0,347.6 L1917.2,348.9 L1916.4,350.1 L1915.6,351.3 L1914.8,352.6 L1913.9,353.8 L1913.0,355.0 L1912.0,356.3 L1911.0,357.5 L1910.0,358.7 L1909.0,360.0 L1908.0,361.2 L1906.9,362.4 L1905.8,363.7 L1904.7,364.9 L1903.6,366.1 L1902.4,367.4 L1901.3,368.6 L1900.1,369.8 L1898.9,371.1 L1897.8,372.3 L1896.6,373.5 L1895.4,374.8 L1894.2,376.0 L1893.0,377.2 L1891.8,378.5 L1890.6,379.7 L1889.4,380.9 L1888.2,382.2 L1887.0,383.4 L1885.9,384.6 L1884.7,385.9 L1883.5,387.1 L1882.4,388.4 L1881.2,389.6 L1880.1,390.8 L1879.0,392.1 L1877.9,393.3 L1876.8,394.5 L1875.8,395.8 L1874.7,397.0 L1873.7,398.2 L1872.7,399.5 L1844.7,399.5 L1844.7,84.7 Z" fill="#0000FF"/>
<path d="M1856.9,84.7 L1857.4,85.9 L1858.0,87.2 L1858.6,88.4 L1859.2,89.6 L1859.8,90.9 L1860.5,92.1 L1861.1,93.3 L1861.8,94.6 L1862.5,95.8 L1863.2,97.0 L1863.9,98.3 L1864.6,99.5 L1865.3,100.7 L1866.1,102.0 L1866.8,103.2 L1867.6,104.4 L1868.4,105.7 L1869.2,106.9 L1870.0,108.1 L1870.8,109.4 L1871.6,110.6 L1872.4,111.8 L1873.3,113.1 L1874.1,114.3 L1874.9,115.5 L1875.8,116.8 L1876.6,118.0 L1877.5,119.3 L1878.3,120.5 L1879.2,121.7 L1880.0,123.0 L1880.8,124.2 L1881.7,125.4 L1882.5,126.7 L1883.3,127.9 L1884.1,129.1 L1884.9,130.4 L1885.7,131.6 L1886.4,132.8 L1887.2,134.1 L1887.9,135.3 L1888.7,136.5 L1889.4,137.8 L1890.1,139.0 L1890.7,140.2 L1891.4,141.5 L1892.0,142.7 L1892.6,143.9 L1893.2,145.2 L1893.7,146.4 L1894.2,147.6 L1894.7,148.9 L1895.2,150.1 L1895.6,151.3 L1896.0,152.6 L1896.4,153.8 L1896.7,155.0 L1897.1,156.3 L1897.3,157.5 L1897.6,158.8 L1897.8,160.0 L1898.0,161.2 L1898.1,162.5 L1898.2,163.7 L1898.3,164.9 L1898.4,166.2 L1898.4,167.4 L1898.4,168.6 L1898.3,169.9 L1898.2,171.1 L1898.1,172.3 L1898.0,173.6 L1897.8,174.8 L1897.6,176.0 L1897.3,177.3 L1897.1,178.5 L1896.8,179.7 L1896.4,181.0 L1896.1,182.2 L1895.7,183.4 L1895.3,184.7 L1894.9,185.9 L1894.5,187.1 L1894.0,188.4 L1893.5,189.6 L1893.0,190.8 L1892.5,192.1 L1892.0,193.3 L1891.5,194.5 L1890.9,195.8 L1890.4,197.0 L1889.8,198.3 L1889.3,199.5 L1888.7,200.7 L1888.1,202.0 L1887.6,203.2 L1887.0,204.4 L1886.4,205.7 L1885.9,206.9 L1885.3,208.1 L1884.7,209.4 L1884.2,210.6 L1883.7,211.8 L1883.2,213.1 L1882.7,214.3 L1882.2,215.5 L1881.7,216.8 L1881.3,218.0 L1880.8,219.2 L1880.4,220.5 L1880.1,221.7 L1879.7,222.9 L1879.4,224.2 L1879.1,225.4 L1878.8,226.6 L1878.5,227.9 L1878.3,229.1 L1878.1,230.3 L1878.0,231.6 L1877.9,232.8 L1877.8,234.1 L1877.7,235.3 L1877.7,236.5 L1877.7,237.8 L1877.8,239.0 L1877.9,240.2 L1878.0,241.5 L1878.2,242.7 L1878.4,243.9 L1878.6,245.2 L1878.9,246.4 L1879.2,247.6 L1879.5,248.9 L1879.9,250.1 L1880.3,251.3 L1880.8,252.6 L1881.3,253.8 L1881.8,255.0 L1882.3,256.3 L1882.9,257.5 L1883.6,258.7 L1884.2,260.0 L1884.9,261.2 L1885.6,262.4 L1886.3,263.7 L1887.1,264.9 L1887.9,266.1 L1888.7,267.4 L1889.6,268.6 L1890.4,269.8 L1891.3,271.1 L1892.2,272.3 L1893.1,273.6 L1894.1,274.8 L1895.0,276.0 L1896.0,277.3 L1897.0,278.5 L1897.9,279.7 L1898.9,281.0 L1899.9,282.2 L1900.9,283.4 L1901.9,284.7 L1902.9,285.9 L1903.9,287.1 L1904.9,288.4 L1905.9,289.6 L1906.9,290.8 L1907.9,292.1 L1908.8,293.3 L1909.8,294.5 L1910.7,295.8 L1911.6,297.0 L1912.5,298.2 L1913.4,299.5 L1914.2,300.7 L1915.1,301.9 L1915.9,303.2 L1916.6,304.4 L1917.4,305.6 L1918.1,306.9 L1918.8,308.1 L1919.4,309.3 L1920.0,310.6 L1920.6,311.8 L1921.1,313.1 L1921.6,314.3 L1922.1,315.5 L1922.5,316.8 L1922.9,318.0 L1923.2,319.2 L1923.5,320.5 L1923.7,321.7 L1923.9,322.9 L1924.0,324.2 L1924.1,325.4 L1924.2,326.6 L1924.2,327.9 L1924.2,329.1 L1924.1,330.3 L1923.9,331.6 L1923.7,332.8 L1923.5,334.0 L1923.2,335.3 L1922.9,336.5 L1922.5,337.7 L1922.1,339.0 L1921.6,340.2 L1921.1,341.4 L1920.6,342.7 L1920.0,343.9 L1919.4,345.1 L1918.7,346.4 L1918.0,347.6 L1917.2,348.9 L1916.4,350.1 L1915.6,351.3 L1914.8,352.6 L1913.9,353.8 L1913.0,355.0 L1912.0,356.3 L1911.0,357.5 L1910.0,358.7 L1909.0,360.0 L1908.0,361.2 L1906.9,362.4 L1905.8,363.7 L1904.7,364.9 L1903.6,366.1 L1902.4,367.4 L1901.3,368.6 L1900.1,369.8 L1898.9,371.1 L1897.8,372.3 L1896.6,373.5 L1895.4,374.8 L1894.2,376.0 L1893.0,377.2 L1891.8,378.5 L1890.6,379.7 L1889.4,380.9 L1888.2,382.2 L1887.0,383.4 L1885.9,384.6 L1884.7,385.9 L1883.5,387.1 L1882.4,388.4 L1881.2,389.6 L1880.1,390.8 L1879.0,392.1 L1877.9,393.3 L1876.8,394.5 L1875.8,395.8 L1874.7,397.0 L1873.7,398.2 L1872.7,399.5" fill="none" stroke="#000" stroke-width="1.5" stroke-linejoin="round"/>
<text transform="translate(1316.92,41.00)" font-size="35.5" font-weight="bold" font-family="'Liberation Serif', 'Times New Roman', serif">C</text>
<g><line x1="119.8" y1="539.2" x2="119.8" y2="904.5" class="gm"/><line x1="283.7" y1="539.2" x2="283.7" y2="904.5" class="gm"/><line x1="447.5" y1="539.2" x2="447.5" y2="904.5" class="gm"/><line x1="70.6" y1="606.9" x2="508.5" y2="606.9" class="gm"/><line x1="70.6" y1="697.4" x2="508.5" y2="697.4" class="gm"/><line x1="70.6" y1="787.7" x2="508.5" y2="787.7" class="gm"/><line x1="70.6" y1="878.1" x2="508.5" y2="878.1" class="gm"/><line x1="201.7" y1="539.2" x2="201.7" y2="904.5" class="gM"/><line x1="365.6" y1="539.2" x2="365.6" y2="904.5" class="gM"/><line x1="70.6" y1="561.5" x2="508.5" y2="561.5" class="gM"/><line x1="70.6" y1="652.2" x2="508.5" y2="652.2" class="gM"/><line x1="70.6" y1="742.5" x2="508.5" y2="742.5" class="gM"/><line x1="70.6" y1="832.9" x2="508.5" y2="832.9" class="gM"/></g>
<g fill="#000"><ellipse cx="90.3" cy="816.8" rx="3.9" ry="2.9"/><ellipse cx="94.0" cy="778.3" rx="3.9" ry="2.9"/><ellipse cx="212.9" cy="821.0" rx="3.9" ry="2.9"/><ellipse cx="241.8" cy="719.9" rx="3.9" ry="2.9"/><ellipse cx="248.7" cy="804.0" rx="3.9" ry="2.9"/><ellipse cx="281.2" cy="730.0" rx="3.9" ry="2.9"/><ellipse cx="306.5" cy="765.5" rx="3.9" ry="2.9"/><ellipse cx="311.4" cy="799.4" rx="3.9" ry="2.9"/><ellipse cx="338.7" cy="710.3" rx="3.9" ry="2.9"/><ellipse cx="345.6" cy="637.4" rx="3.9" ry="2.9"/><ellipse cx="337.7" cy="793.4" rx="3.9" ry="2.9"/><ellipse cx="352.8" cy="809.9" rx="3.9" ry="2.9"/><ellipse cx="368.3" cy="767.8" rx="3.9" ry="2.9"/><ellipse cx="381.1" cy="836.1" rx="3.9" ry="2.9"/><ellipse cx="455.0" cy="772.4" rx="3.9" ry="2.9"/><ellipse cx="460.9" cy="685.0" rx="3.9" ry="2.9"/><ellipse cx="471.1" cy="556.3" rx="3.9" ry="2.9"/><ellipse cx="488.5" cy="862.4" rx="3.9" ry="2.9"/></g>
<polygon points="90.3,716.4 95.3,716.9 100.4,717.5 105.4,718.1 110.5,718.6 115.5,719.2 120.5,719.7 125.6,720.2 130.6,720.8 135.7,721.3 140.7,721.8 145.7,722.3 150.8,722.7 155.8,723.2 160.9,723.6 165.9,724.1 170.9,724.5 176.0,724.9 181.0,725.3 186.1,725.7 191.1,726.0 196.2,726.3 201.2,726.6 206.2,726.9 211.3,727.2 216.3,727.4 221.4,727.6 226.4,727.8 231.4,727.9 236.5,728.0 241.5,728.1 246.6,728.1 251.6,728.1 256.6,728.0 261.7,727.9 266.7,727.7 271.8,727.5 276.8,727.2 281.8,726.8 286.9,726.4 291.9,725.9 297.0,725.4 302.0,724.8 307.0,724.1 312.1,723.3 317.1,722.5 322.2,721.6 327.2,720.6 332.2,719.5 337.3,718.4 342.3,717.2 347.4,715.9 352.4,714.5 357.4,713.1 362.5,711.6 367.5,710.1 372.6,708.5 377.6,706.8 382.6,705.1 387.7,703.3 392.7,701.5 397.8,699.6 402.8,697.7 407.9,695.7 412.9,693.8 417.9,691.7 423.0,689.7 428.0,687.6 433.1,685.5 438.1,683.3 443.1,681.1 448.2,679.0 453.2,676.7 458.3,674.5 463.3,672.2 468.3,670.0 473.4,667.7 478.4,665.4 483.5,663.1 488.5,660.7 488.5,795.4 483.5,794.9 478.4,794.5 473.4,794.0 468.3,793.6 463.3,793.2 458.3,792.9 453.2,792.5 448.2,792.2 443.1,791.9 438.1,791.6 433.1,791.3 428.0,791.1 423.0,790.9 417.9,790.7 412.9,790.6 407.9,790.5 402.8,790.4 397.8,790.4 392.7,790.4 387.7,790.4 382.6,790.5 377.6,790.7 372.6,790.9 367.5,791.2 362.5,791.5 357.4,791.9 352.4,792.4 347.4,792.9 342.3,793.5 337.3,794.1 332.2,794.9 327.2,795.7 322.2,796.6 317.1,797.6 312.1,798.6 307.0,799.7 302.0,800.9 297.0,802.2 291.9,803.5 286.9,804.9 281.8,806.4 276.8,807.9 271.8,809.5 266.7,811.2 261.7,812.9 256.6,814.6 251.6,816.5 246.6,818.3 241.5,820.2 236.5,822.2 231.4,824.1 226.4,826.1 221.4,828.2 216.3,830.3 211.3,832.4 206.2,834.5 201.2,836.7 196.2,838.9 191.1,841.1 186.1,843.3 181.0,845.6 176.0,847.8 170.9,850.1 165.9,852.4 160.9,854.7 155.8,857.1 150.8,859.4 145.7,861.8 140.7,864.1 135.7,866.5 130.6,868.9 125.6,871.3 120.5,873.7 115.5,876.1 110.5,878.6 105.4,881.0 100.4,883.4 95.3,885.9 90.3,888.3" fill="#999" fill-opacity="0.4"/>
<line x1="90.3" y1="802.4" x2="488.5" y2="728.0" stroke="#3366FF" stroke-width="2.6"/>
<rect x="70.6" y="539.2" width="437.9" height="365.3" fill="none" stroke="#333" stroke-width="1.2"/>
<g stroke="#333" stroke-width="1.3"><line x1="201.7" y1="904.5" x2="201.7" y2="908.1"/><line x1="365.6" y1="904.5" x2="365.6" y2="908.1"/><line x1="66.0" y1="561.5" x2="70.6" y2="561.5"/><line x1="66.0" y1="652.2" x2="70.6" y2="652.2"/><line x1="66.0" y1="742.5" x2="70.6" y2="742.5"/><line x1="66.0" y1="832.9" x2="70.6" y2="832.9"/></g>
<text transform="translate(191.76,919.90) scale(1.280,1)" font-size="11.3" fill="#4D4D4D" stroke="#4D4D4D" stroke-width="0.3">4.0</text>
<text transform="translate(355.67,919.90) scale(1.280,1)" font-size="11.3" fill="#4D4D4D" stroke="#4D4D4D" stroke-width="0.3">4.5</text>
<text transform="translate(33.21,565.40) scale(1.280,1)" font-size="11.3" fill="#4D4D4D" stroke="#4D4D4D" stroke-width="0.3">10.0</text>
<text transform="translate(41.27,656.10) scale(1.280,1)" font-size="11.3" fill="#4D4D4D" stroke="#4D4D4D" stroke-width="0.3">7.5</text>
<text transform="translate(41.24,746.40) scale(1.280,1)" font-size="11.3" fill="#4D4D4D" stroke="#4D4D4D" stroke-width="0.3">5.0</text>
<text transform="translate(41.27,836.80) scale(1.280,1)" font-size="11.3" fill="#4D4D4D" stroke="#4D4D4D" stroke-width="0.3">2.5</text>
<text transform="translate(271.30,935.20) scale(1.280,1)" font-size="14.5" stroke="#000" stroke-width="0.3">FOS</text>
<text transform="translate(25.60,755.00) scale(1.280,1) rotate(-90)" font-size="14.5" stroke="#000" stroke-width="0.3">Neutrophil</text>
<text transform="translate(90.85,554.70) scale(1.280,1)" font-size="14.2" font-style="italic" stroke="#000" stroke-width="0.3">R</text>
<text transform="translate(108.53,554.70) scale(1.280,1)" font-size="14.2" stroke="#000" stroke-width="0.3">=</text>
<text transform="translate(123.43,554.70) scale(1.280,1)" font-size="14.2" stroke="#000" stroke-width="0.3">0.17,</text>
<text transform="translate(168.49,554.70) scale(1.280,1)" font-size="14.2" font-style="italic" stroke="#000" stroke-width="0.3">p</text>
<text transform="translate(182.72,554.70) scale(1.280,1)" font-size="14.2" stroke="#000" stroke-width="0.3">=</text>
<text transform="translate(197.72,554.70) scale(1.280,1)" font-size="14.2" stroke="#000" stroke-width="0.3">0.51</text>
<path d="M90.3,519.0 L91.9,519.0 L93.4,519.0 L95.0,519.0 L96.5,519.0 L98.1,519.0 L99.7,519.0 L101.2,519.1 L102.8,519.2 L104.4,519.3 L105.9,519.4 L107.5,519.5 L109.0,519.6 L110.6,519.7 L112.2,519.9 L113.7,520.0 L115.3,520.2 L116.8,520.3 L118.4,520.5 L120.0,520.7 L121.5,520.9 L123.1,521.1 L124.7,521.2 L126.2,521.4 L127.8,521.6 L129.3,521.8 L130.9,522.0 L132.5,522.1 L134.0,522.3 L135.6,522.4 L137.1,522.6 L138.7,522.7 L140.3,522.8 L141.8,522.9 L143.4,523.0 L145.0,523.1 L146.5,523.2 L148.1,523.2 L149.6,523.3 L151.2,523.3 L152.8,523.3 L154.3,523.2 L155.9,523.2 L157.4,523.1 L159.0,523.0 L160.6,522.9 L162.1,522.8 L163.7,522.7 L165.3,522.5 L166.8,522.3 L168.4,522.1 L169.9,521.9 L171.5,521.6 L173.1,521.3 L174.6,521.0 L176.2,520.7 L177.7,520.4 L179.3,520.0 L180.9,519.6 L182.4,519.2 L184.0,518.8 L185.6,518.4 L187.1,517.9 L188.7,517.5 L190.2,517.0 L191.8,516.5 L193.4,516.0 L194.9,515.5 L196.5,515.0 L198.0,514.4 L199.6,513.9 L201.2,513.3 L202.7,512.7 L204.3,512.2 L205.9,511.6 L207.4,511.0 L209.0,510.4 L210.5,509.8 L212.1,509.2 L213.7,508.6 L215.2,508.0 L216.8,507.4 L218.3,506.8 L219.9,506.2 L221.5,505.5 L223.0,504.9 L224.6,504.3 L226.2,503.7 L227.7,503.1 L229.3,502.5 L230.8,501.9 L232.4,501.3 L234.0,500.7 L235.5,500.1 L237.1,499.5 L238.6,498.9 L240.2,498.3 L241.8,497.7 L243.3,497.1 L244.9,496.6 L246.5,496.0 L248.0,495.4 L249.6,494.8 L251.1,494.2 L252.7,493.7 L254.3,493.1 L255.8,492.5 L257.4,491.9 L258.9,491.4 L260.5,490.8 L262.1,490.2 L263.6,489.6 L265.2,489.1 L266.8,488.5 L268.3,487.9 L269.9,487.3 L271.4,486.7 L273.0,486.2 L274.6,485.6 L276.1,485.0 L277.7,484.4 L279.2,483.8 L280.8,483.3 L282.4,482.7 L283.9,482.1 L285.5,481.5 L287.1,481.0 L288.6,480.4 L290.2,479.8 L291.7,479.2 L293.3,478.7 L294.9,478.1 L296.4,477.6 L298.0,477.1 L299.6,476.5 L301.1,476.0 L302.7,475.5 L304.2,475.0 L305.8,474.6 L307.4,474.1 L308.9,473.7 L310.5,473.2 L312.0,472.8 L313.6,472.4 L315.2,472.1 L316.7,471.7 L318.3,471.4 L319.9,471.1 L321.4,470.9 L323.0,470.7 L324.5,470.4 L326.1,470.3 L327.7,470.1 L329.2,470.0 L330.8,470.0 L332.3,469.9 L333.9,469.9 L335.5,469.9 L337.0,470.0 L338.6,470.1 L340.2,470.2 L341.7,470.4 L343.3,470.6 L344.8,470.8 L346.4,471.1 L348.0,471.4 L349.5,471.7 L351.1,472.1 L352.6,472.5 L354.2,473.0 L355.8,473.4 L357.3,473.9 L358.9,474.4 L360.5,475.0 L362.0,475.6 L363.6,476.2 L365.1,476.8 L366.7,477.4 L368.3,478.1 L369.8,478.8 L371.4,479.4 L372.9,480.1 L374.5,480.8 L376.1,481.6 L377.6,482.3 L379.2,483.0 L380.8,483.7 L382.3,484.4 L383.9,485.2 L385.4,485.9 L387.0,486.6 L388.6,487.3 L390.1,488.0 L391.7,488.6 L393.2,489.3 L394.8,490.0 L396.4,490.6 L397.9,491.2 L399.5,491.8 L401.1,492.3 L402.6,492.9 L404.2,493.4 L405.7,493.9 L407.3,494.4 L408.9,494.8 L410.4,495.2 L412.0,495.6 L413.5,496.0 L415.1,496.3 L416.7,496.6 L418.2,496.9 L419.8,497.2 L421.4,497.4 L422.9,497.7 L424.5,497.9 L426.0,498.0 L427.6,498.2 L429.2,498.3 L430.7,498.5 L432.3,498.6 L433.8,498.7 L435.4,498.7 L437.0,498.8 L438.5,498.9 L440.1,498.9 L441.7,499.0 L443.2,499.0 L444.8,499.0 L446.3,499.1 L447.9,499.1 L449.5,499.2 L451.0,499.2 L452.6,499.3 L454.1,499.4 L455.7,499.4 L457.3,499.5 L458.8,499.6 L460.4,499.8 L462.0,499.9 L463.5,500.1 L465.1,500.2 L466.6,500.4 L468.2,500.6 L469.8,500.9 L471.3,501.1 L472.9,501.4 L474.4,501.7 L476.0,502.0 L477.6,502.4 L479.1,502.7 L480.7,503.1 L482.3,503.5 L483.8,503.9 L485.4,504.4 L486.9,504.9 L488.5,505.4 L488.5,536.2 L90.3,536.2 Z" fill="#FFA500"/>
<path d="M90.3,519.0 L91.9,519.0 L93.4,519.0 L95.0,519.0 L96.5,519.0 L98.1,519.0 L99.7,519.0 L101.2,519.1 L102.8,519.2 L104.4,519.3 L105.9,519.4 L107.5,519.5 L109.0,519.6 L110.6,519.7 L112.2,519.9 L113.7,520.0 L115.3,520.2 L116.8,520.3 L118.4,520.5 L120.0,520.7 L121.5,520.9 L123.1,521.1 L124.7,521.2 L126.2,521.4 L127.8,521.6 L129.3,521.8 L130.9,522.0 L132.5,522.1 L134.0,522.3 L135.6,522.4 L137.1,522.6 L138.7,522.7 L140.3,522.8 L141.8,522.9 L143.4,523.0 L145.0,523.1 L146.5,523.2 L148.1,523.2 L149.6,523.3 L151.2,523.3 L152.8,523.3 L154.3,523.2 L155.9,523.2 L157.4,523.1 L159.0,523.0 L160.6,522.9 L162.1,522.8 L163.7,522.7 L165.3,522.5 L166.8,522.3 L168.4,522.1 L169.9,521.9 L171.5,521.6 L173.1,521.3 L174.6,521.0 L176.2,520.7 L177.7,520.4 L179.3,520.0 L180.9,519.6 L182.4,519.2 L184.0,518.8 L185.6,518.4 L187.1,517.9 L188.7,517.5 L190.2,517.0 L191.8,516.5 L193.4,516.0 L194.9,515.5 L196.5,515.0 L198.0,514.4 L199.6,513.9 L201.2,513.3 L202.7,512.7 L204.3,512.2 L205.9,511.6 L207.4,511.0 L209.0,510.4 L210.5,509.8 L212.1,509.2 L213.7,508.6 L215.2,508.0 L216.8,507.4 L218.3,506.8 L219.9,506.2 L221.5,505.5 L223.0,504.9 L224.6,504.3 L226.2,503.7 L227.7,503.1 L229.3,502.5 L230.8,501.9 L232.4,501.3 L234.0,500.7 L235.5,500.1 L237.1,499.5 L238.6,498.9 L240.2,498.3 L241.8,497.7 L243.3,497.1 L244.9,496.6 L246.5,496.0 L248.0,495.4 L249.6,494.8 L251.1,494.2 L252.7,493.7 L254.3,493.1 L255.8,492.5 L257.4,491.9 L258.9,491.4 L260.5,490.8 L262.1,490.2 L263.6,489.6 L265.2,489.1 L266.8,488.5 L268.3,487.9 L269.9,487.3 L271.4,486.7 L273.0,486.2 L274.6,485.6 L276.1,485.0 L277.7,484.4 L279.2,483.8 L280.8,483.3 L282.4,482.7 L283.9,482.1 L285.5,481.5 L287.1,481.0 L288.6,480.4 L290.2,479.8 L291.7,479.2 L293.3,478.7 L294.9,478.1 L296.4,477.6 L298.0,477.1 L299.6,476.5 L301.1,476.0 L302.7,475.5 L304.2,475.0 L305.8,474.6 L307.4,474.1 L308.9,473.7 L310.5,473.2 L312.0,472.8 L313.6,472.4 L315.2,472.1 L316.7,471.7 L318.3,471.4 L319.9,471.1 L321.4,470.9 L323.0,470.7 L324.5,470.4 L326.1,470.3 L327.7,470.1 L329.2,470.0 L330.8,470.0 L332.3,469.9 L333.9,469.9 L335.5,469.9 L337.0,470.0 L338.6,470.1 L340.2,470.2 L341.7,470.4 L343.3,470.6 L344.8,470.8 L346.4,471.1 L348.0,471.4 L349.5,471.7 L351.1,472.1 L352.6,472.5 L354.2,473.0 L355.8,473.4 L357.3,473.9 L358.9,474.4 L360.5,475.0 L362.0,475.6 L363.6,476.2 L365.1,476.8 L366.7,477.4 L368.3,478.1 L369.8,478.8 L371.4,479.4 L372.9,480.1 L374.5,480.8 L376.1,481.6 L377.6,482.3 L379.2,483.0 L380.8,483.7 L382.3,484.4 L383.9,485.2 L385.4,485.9 L387.0,486.6 L388.6,487.3 L390.1,488.0 L391.7,488.6 L393.2,489.3 L394.8,490.0 L396.4,490.6 L397.9,491.2 L399.5,491.8 L401.1,492.3 L402.6,492.9 L404.2,493.4 L405.7,493.9 L407.3,494.4 L408.9,494.8 L410.4,495.2 L412.0,495.6 L413.5,496.0 L415.1,496.3 L416.7,496.6 L418.2,496.9 L419.8,497.2 L421.4,497.4 L422.9,497.7 L424.5,497.9 L426.0,498.0 L427.6,498.2 L429.2,498.3 L430.7,498.5 L432.3,498.6 L433.8,498.7 L435.4,498.7 L437.0,498.8 L438.5,498.9 L440.1,498.9 L441.7,499.0 L443.2,499.0 L444.8,499.0 L446.3,499.1 L447.9,499.1 L449.5,499.2 L451.0,499.2 L452.6,499.3 L454.1,499.4 L455.7,499.4 L457.3,499.5 L458.8,499.6 L460.4,499.8 L462.0,499.9 L463.5,500.1 L465.1,500.2 L466.6,500.4 L468.2,500.6 L469.8,500.9 L471.3,501.1 L472.9,501.4 L474.4,501.7 L476.0,502.0 L477.6,502.4 L479.1,502.7 L480.7,503.1 L482.3,503.5 L483.8,503.9 L485.4,504.4 L486.9,504.9 L488.5,505.4" fill="none" stroke="#000" stroke-width="1.5" stroke-linejoin="round"/>
<path d="M521.6,556.3 L521.6,557.6 L521.6,558.9 L521.6,560.2 L521.6,561.5 L521.6,562.8 L521.6,564.1 L521.6,565.4 L521.6,566.7 L521.5,568.0 L521.5,569.3 L521.4,570.6 L521.4,571.9 L521.3,573.2 L521.3,574.5 L521.2,575.8 L521.1,577.1 L521.1,578.4 L521.0,579.7 L520.9,581.0 L520.9,582.3 L520.8,583.6 L520.8,584.9 L520.7,586.2 L520.7,587.6 L520.7,588.9 L520.7,590.2 L520.6,591.5 L520.6,592.8 L520.6,594.1 L520.6,595.4 L520.7,596.7 L520.7,598.0 L520.7,599.3 L520.8,600.6 L520.9,601.9 L520.9,603.2 L521.0,604.5 L521.1,605.8 L521.2,607.1 L521.3,608.4 L521.4,609.7 L521.6,611.0 L521.7,612.3 L521.9,613.6 L522.0,614.9 L522.2,616.2 L522.4,617.5 L522.5,618.8 L522.7,620.1 L522.9,621.4 L523.1,622.7 L523.3,624.0 L523.5,625.3 L523.7,626.6 L524.0,627.9 L524.2,629.2 L524.4,630.5 L524.6,631.8 L524.9,633.1 L525.1,634.4 L525.4,635.7 L525.6,637.0 L525.9,638.3 L526.1,639.6 L526.4,640.9 L526.7,642.2 L526.9,643.5 L527.2,644.8 L527.5,646.1 L527.8,647.5 L528.1,648.8 L528.4,650.1 L528.7,651.4 L529.0,652.7 L529.3,654.0 L529.6,655.3 L530.0,656.6 L530.3,657.9 L530.7,659.2 L531.1,660.5 L531.4,661.8 L531.8,663.1 L532.2,664.4 L532.6,665.7 L533.1,667.0 L533.5,668.3 L533.9,669.6 L534.4,670.9 L534.8,672.2 L535.3,673.5 L535.8,674.8 L536.3,676.1 L536.8,677.4 L537.3,678.7 L537.8,680.0 L538.3,681.3 L538.9,682.6 L539.4,683.9 L539.9,685.2 L540.5,686.5 L541.0,687.8 L541.6,689.1 L542.2,690.4 L542.7,691.7 L543.3,693.0 L543.9,694.3 L544.4,695.6 L545.0,696.9 L545.6,698.2 L546.1,699.5 L546.7,700.8 L547.2,702.1 L547.8,703.4 L548.4,704.7 L548.9,706.0 L549.5,707.3 L550.0,708.7 L550.6,710.0 L551.2,711.3 L551.7,712.6 L552.3,713.9 L552.8,715.2 L553.4,716.5 L553.9,717.8 L554.5,719.1 L555.1,720.4 L555.6,721.7 L556.2,723.0 L556.8,724.3 L557.4,725.6 L558.0,726.9 L558.6,728.2 L559.2,729.5 L559.8,730.8 L560.5,732.1 L561.1,733.4 L561.8,734.7 L562.5,736.0 L563.2,737.3 L563.9,738.6 L564.6,739.9 L565.3,741.2 L566.1,742.5 L566.8,743.8 L567.6,745.1 L568.4,746.4 L569.2,747.7 L570.0,749.0 L570.8,750.3 L571.7,751.6 L572.5,752.9 L573.4,754.2 L574.2,755.5 L575.1,756.8 L576.0,758.1 L576.8,759.4 L577.7,760.7 L578.6,762.0 L579.4,763.3 L580.3,764.6 L581.1,765.9 L581.9,767.2 L582.8,768.6 L583.6,769.9 L584.3,771.2 L585.1,772.5 L585.8,773.8 L586.5,775.1 L587.2,776.4 L587.9,777.7 L588.5,779.0 L589.0,780.3 L589.6,781.6 L590.1,782.9 L590.5,784.2 L590.9,785.5 L591.3,786.8 L591.6,788.1 L591.8,789.4 L592.0,790.7 L592.2,792.0 L592.3,793.3 L592.3,794.6 L592.3,795.9 L592.2,797.2 L592.1,798.5 L591.9,799.8 L591.6,801.1 L591.3,802.4 L591.0,803.7 L590.5,805.0 L590.1,806.3 L589.5,807.6 L588.9,808.9 L588.3,810.2 L587.6,811.5 L586.9,812.8 L586.1,814.1 L585.2,815.4 L584.3,816.7 L583.4,818.0 L582.4,819.3 L581.4,820.6 L580.3,821.9 L579.2,823.2 L578.1,824.5 L577.0,825.8 L575.8,827.1 L574.6,828.4 L573.3,829.8 L572.1,831.1 L570.8,832.4 L569.5,833.7 L568.2,835.0 L566.9,836.3 L565.6,837.6 L564.3,838.9 L562.9,840.2 L561.6,841.5 L560.3,842.8 L558.9,844.1 L557.6,845.4 L556.3,846.7 L555.0,848.0 L553.7,849.3 L552.4,850.6 L551.1,851.9 L549.9,853.2 L548.6,854.5 L547.4,855.8 L546.2,857.1 L545.0,858.4 L543.8,859.7 L542.6,861.0 L541.5,862.3 L540.4,863.6 L539.3,864.9 L538.3,866.2 L537.2,867.5 L536.2,868.8 L535.2,870.1 L534.3,871.4 L533.3,872.7 L532.4,874.0 L531.5,875.3 L530.7,876.6 L529.8,877.9 L529.0,879.2 L528.2,880.5 L527.5,881.8 L526.7,883.1 L526.0,884.4 L525.4,885.7 L524.7,887.0 L524.1,888.3 L512.5,888.3 L512.5,556.3 Z" fill="#0000FF"/>
<path d="M521.6,556.3 L521.6,557.6 L521.6,558.9 L521.6,560.2 L521.6,561.5 L521.6,562.8 L521.6,564.1 L521.6,565.4 L521.6,566.7 L521.5,568.0 L521.5,569.3 L521.4,570.6 L521.4,571.9 L521.3,573.2 L521.3,574.5 L521.2,575.8 L521.1,577.1 L521.1,578.4 L521.0,579.7 L520.9,581.0 L520.9,582.3 L520.8,583.6 L520.8,584.9 L520.7,586.2 L520.7,587.6 L520.7,588.9 L520.7,590.2 L520.6,591.5 L520.6,592.8 L520.6,594.1 L520.6,595.4 L520.7,596.7 L520.7,598.0 L520.7,599.3 L520.8,600.6 L520.9,601.9 L520.9,603.2 L521.0,604.5 L521.1,605.8 L521.2,607.1 L521.3,608.4 L521.4,609.7 L521.6,611.0 L521.7,612.3 L521.9,613.6 L522.0,614.9 L522.2,616.2 L522.4,617.5 L522.5,618.8 L522.7,620.1 L522.9,621.4 L523.1,622.7 L523.3,624.0 L523.5,625.3 L523.7,626.6 L524.0,627.9 L524.2,629.2 L524.4,630.5 L524.6,631.8 L524.9,633.1 L525.1,634.4 L525.4,635.7 L525.6,637.0 L525.9,638.3 L526.1,639.6 L526.4,640.9 L526.7,642.2 L526.9,643.5 L527.2,644.8 L527.5,646.1 L527.8,647.5 L528.1,648.8 L528.4,650.1 L528.7,651.4 L529.0,652.7 L529.3,654.0 L529.6,655.3 L530.0,656.6 L530.3,657.9 L530.7,659.2 L531.1,660.5 L531.4,661.8 L531.8,663.1 L532.2,664.4 L532.6,665.7 L533.1,667.0 L533.5,668.3 L533.9,669.6 L534.4,670.9 L534.8,672.2 L535.3,673.5 L535.8,674.8 L536.3,676.1 L536.8,677.4 L537.3,678.7 L537.8,680.0 L538.3,681.3 L538.9,682.6 L539.4,683.9 L539.9,685.2 L540.5,686.5 L541.0,687.8 L541.6,689.1 L542.2,690.4 L542.7,691.7 L543.3,693.0 L543.9,694.3 L544.4,695.6 L545.0,696.9 L545.6,698.2 L546.1,699.5 L546.7,700.8 L547.2,702.1 L547.8,703.4 L548.4,704.7 L548.9,706.0 L549.5,707.3 L550.0,708.7 L550.6,710.0 L551.2,711.3 L551.7,712.6 L552.3,713.9 L552.8,715.2 L553.4,716.5 L553.9,717.8 L554.5,719.1 L555.1,720.4 L555.6,721.7 L556.2,723.0 L556.8,724.3 L557.4,725.6 L558.0,726.9 L558.6,728.2 L559.2,729.5 L559.8,730.8 L560.5,732.1 L561.1,733.4 L561.8,734.7 L562.5,736.0 L563.2,737.3 L563.9,738.6 L564.6,739.9 L565.3,741.2 L566.1,742.5 L566.8,743.8 L567.6,745.1 L568.4,746.4 L569.2,747.7 L570.0,749.0 L570.8,750.3 L571.7,751.6 L572.5,752.9 L573.4,754.2 L574.2,755.5 L575.1,756.8 L576.0,758.1 L576.8,759.4 L577.7,760.7 L578.6,762.0 L579.4,763.3 L580.3,764.6 L581.1,765.9 L581.9,767.2 L582.8,768.6 L583.6,769.9 L584.3,771.2 L585.1,772.5 L585.8,773.8 L586.5,775.1 L587.2,776.4 L587.9,777.7 L588.5,779.0 L589.0,780.3 L589.6,781.6 L590.1,782.9 L590.5,784.2 L590.9,785.5 L591.3,786.8 L591.6,788.1 L591.8,789.4 L592.0,790.7 L592.2,792.0 L592.3,793.3 L592.3,794.6 L592.3,795.9 L592.2,797.2 L592.1,798.5 L591.9,799.8 L591.6,801.1 L591.3,802.4 L591.0,803.7 L590.5,805.0 L590.1,806.3 L589.5,807.6 L588.9,808.9 L588.3,810.2 L587.6,811.5 L586.9,812.8 L586.1,814.1 L585.2,815.4 L584.3,816.7 L583.4,818.0 L582.4,819.3 L581.4,820.6 L580.3,821.9 L579.2,823.2 L578.1,824.5 L577.0,825.8 L575.8,827.1 L574.6,828.4 L573.3,829.8 L572.1,831.1 L570.8,832.4 L569.5,833.7 L568.2,835.0 L566.9,836.3 L565.6,837.6 L564.3,838.9 L562.9,840.2 L561.6,841.5 L560.3,842.8 L558.9,844.1 L557.6,845.4 L556.3,846.7 L555.0,848.0 L553.7,849.3 L552.4,850.6 L551.1,851.9 L549.9,853.2 L548.6,854.5 L547.4,855.8 L546.2,857.1 L545.0,858.4 L543.8,859.7 L542.6,861.0 L541.5,862.3 L540.4,863.6 L539.3,864.9 L538.3,866.2 L537.2,867.5 L536.2,868.8 L535.2,870.1 L534.3,871.4 L533.3,872.7 L532.4,874.0 L531.5,875.3 L530.7,876.6 L529.8,877.9 L529.0,879.2 L528.2,880.5 L527.5,881.8 L526.7,883.1 L526.0,884.4 L525.4,885.7 L524.7,887.0 L524.1,888.3" fill="none" stroke="#000" stroke-width="1.5" stroke-linejoin="round"/>
<text transform="translate(4.28,506.00)" font-size="35.5" font-weight="bold" font-family="'Liberation Serif', 'Times New Roman', serif">D</text>
<g><line x1="778.4" y1="539.5" x2="778.4" y2="903.5" class="gm"/><line x1="926.6" y1="539.5" x2="926.6" y2="903.5" class="gm"/><line x1="1074.8" y1="539.5" x2="1074.8" y2="903.5" class="gm"/><line x1="739.5" y1="623.2" x2="1183.4" y2="623.2" class="gm"/><line x1="739.5" y1="710.6" x2="1183.4" y2="710.6" class="gm"/><line x1="739.5" y1="797.9" x2="1183.4" y2="797.9" class="gm"/><line x1="739.5" y1="885.2" x2="1183.4" y2="885.2" class="gm"/><line x1="852.5" y1="539.5" x2="852.5" y2="903.5" class="gM"/><line x1="1000.7" y1="539.5" x2="1000.7" y2="903.5" class="gM"/><line x1="1148.9" y1="539.5" x2="1148.9" y2="903.5" class="gM"/><line x1="739.5" y1="579.3" x2="1183.4" y2="579.3" class="gM"/><line x1="739.5" y1="667.0" x2="1183.4" y2="667.0" class="gM"/><line x1="739.5" y1="754.3" x2="1183.4" y2="754.3" class="gM"/><line x1="739.5" y1="841.4" x2="1183.4" y2="841.4" class="gM"/></g>
<g fill="#000"><ellipse cx="758.9" cy="620.3" rx="3.9" ry="2.9"/><ellipse cx="773.7" cy="555.9" rx="3.9" ry="2.9"/><ellipse cx="771.4" cy="762.6" rx="3.9" ry="2.9"/><ellipse cx="821.7" cy="585.2" rx="3.9" ry="2.9"/><ellipse cx="824.0" cy="791.5" rx="3.9" ry="2.9"/><ellipse cx="857.1" cy="600.9" rx="3.9" ry="2.9"/><ellipse cx="860.4" cy="780.0" rx="3.9" ry="2.9"/><ellipse cx="882.8" cy="589.1" rx="3.9" ry="2.9"/><ellipse cx="958.3" cy="586.5" rx="3.9" ry="2.9"/><ellipse cx="958.7" cy="736.3" rx="3.9" ry="2.9"/><ellipse cx="991.2" cy="731.7" rx="3.9" ry="2.9"/><ellipse cx="986.9" cy="782.3" rx="3.9" ry="2.9"/><ellipse cx="1044.4" cy="632.5" rx="3.9" ry="2.9"/><ellipse cx="1065.1" cy="793.1" rx="3.9" ry="2.9"/><ellipse cx="1064.8" cy="799.7" rx="3.9" ry="2.9"/><ellipse cx="1096.6" cy="810.5" rx="3.9" ry="2.9"/><ellipse cx="1105.5" cy="774.7" rx="3.9" ry="2.9"/><ellipse cx="1163.3" cy="840.1" rx="3.9" ry="2.9"/></g>
<polygon points="758.9,556.7 764.0,560.3 769.1,563.8 774.3,567.4 779.4,570.9 784.5,574.5 789.6,578.0 794.7,581.5 799.9,585.0 805.0,588.4 810.1,591.8 815.2,595.3 820.3,598.7 825.4,602.0 830.6,605.4 835.7,608.7 840.8,611.9 845.9,615.2 851.0,618.4 856.2,621.6 861.3,624.7 866.4,627.8 871.5,630.9 876.6,633.9 881.8,636.9 886.9,639.8 892.0,642.6 897.1,645.4 902.2,648.2 907.4,650.9 912.5,653.5 917.6,656.1 922.7,658.6 927.8,661.0 932.9,663.4 938.1,665.7 943.2,667.9 948.3,670.1 953.4,672.1 958.5,674.2 963.7,676.1 968.8,678.0 973.9,679.8 979.0,681.6 984.1,683.3 989.3,684.9 994.4,686.5 999.5,688.0 1004.6,689.5 1009.7,690.9 1014.8,692.3 1020.0,693.6 1025.1,694.9 1030.2,696.1 1035.3,697.3 1040.4,698.5 1045.6,699.6 1050.7,700.7 1055.8,701.8 1060.9,702.8 1066.0,703.8 1071.2,704.8 1076.3,705.8 1081.4,706.7 1086.5,707.6 1091.6,708.5 1096.8,709.4 1101.9,710.3 1107.0,711.1 1112.1,711.9 1117.2,712.7 1122.3,713.6 1127.5,714.3 1132.6,715.1 1137.7,715.9 1142.8,716.6 1147.9,717.4 1153.1,718.1 1158.2,718.8 1163.3,719.6 1163.3,887.4 1158.2,883.7 1153.1,880.1 1147.9,876.4 1142.8,872.8 1137.7,869.2 1132.6,865.6 1127.5,862.0 1122.3,858.4 1117.2,854.8 1112.1,851.2 1107.0,847.7 1101.9,844.2 1096.8,840.7 1091.6,837.2 1086.5,833.7 1081.4,830.2 1076.3,826.8 1071.2,823.4 1066.0,820.0 1060.9,816.6 1055.8,813.3 1050.7,810.0 1045.6,806.7 1040.4,803.5 1035.3,800.3 1030.2,797.1 1025.1,794.0 1020.0,790.9 1014.8,787.8 1009.7,784.8 1004.6,781.9 999.5,779.0 994.4,776.1 989.3,773.3 984.1,770.6 979.0,767.9 973.9,765.3 968.8,762.7 963.7,760.2 958.5,757.8 953.4,755.5 948.3,753.2 943.2,751.0 938.1,748.8 932.9,746.7 927.8,744.7 922.7,742.8 917.6,740.9 912.5,739.1 907.4,737.4 902.2,735.7 897.1,734.1 892.0,732.5 886.9,731.0 881.8,729.5 876.6,728.1 871.5,726.7 866.4,725.4 861.3,724.2 856.2,722.9 851.0,721.7 845.9,720.6 840.8,719.4 835.7,718.3 830.6,717.3 825.4,716.2 820.3,715.2 815.2,714.3 810.1,713.3 805.0,712.4 799.9,711.4 794.7,710.6 789.6,709.7 784.5,708.8 779.4,708.0 774.3,707.1 769.1,706.3 764.0,705.5 758.9,704.7" fill="#999" fill-opacity="0.4"/>
<line x1="758.9" y1="630.7" x2="1163.3" y2="803.5" stroke="#3366FF" stroke-width="2.6"/>
<rect x="739.5" y="539.5" width="443.9" height="364.0" fill="none" stroke="#333" stroke-width="1.2"/>
<g stroke="#333" stroke-width="1.3"><line x1="852.5" y1="903.5" x2="852.5" y2="907.1"/><line x1="1000.7" y1="903.5" x2="1000.7" y2="907.1"/><line x1="1148.9" y1="903.5" x2="1148.9" y2="907.1"/><line x1="734.9" y1="579.3" x2="739.5" y2="579.3"/><line x1="734.9" y1="667.0" x2="739.5" y2="667.0"/><line x1="734.9" y1="754.3" x2="739.5" y2="754.3"/><line x1="734.9" y1="841.4" x2="739.5" y2="841.4"/></g>
<text transform="translate(844.22,918.90) scale(1.280,1)" font-size="11.3" fill="#4D4D4D" stroke="#4D4D4D" stroke-width="0.3">15</text>
<text transform="translate(992.58,918.90) scale(1.280,1)" font-size="11.3" fill="#4D4D4D" stroke="#4D4D4D" stroke-width="0.3">20</text>
<text transform="translate(1140.80,918.90) scale(1.280,1)" font-size="11.3" fill="#4D4D4D" stroke="#4D4D4D" stroke-width="0.3">25</text>
<text transform="translate(710.21,583.20) scale(1.280,1)" font-size="11.3" fill="#4D4D4D" stroke="#4D4D4D" stroke-width="0.3">0.8</text>
<text transform="translate(710.21,670.90) scale(1.280,1)" font-size="11.3" fill="#4D4D4D" stroke="#4D4D4D" stroke-width="0.3">0.6</text>
<text transform="translate(709.99,758.20) scale(1.280,1)" font-size="11.3" fill="#4D4D4D" stroke="#4D4D4D" stroke-width="0.3">0.4</text>
<text transform="translate(710.32,845.30) scale(1.280,1)" font-size="11.3" fill="#4D4D4D" stroke="#4D4D4D" stroke-width="0.3">0.2</text>
<text transform="translate(934.93,934.20) scale(1.280,1)" font-size="14.5" stroke="#000" stroke-width="0.3">CXCL8</text>
<text transform="translate(702.40,731.79) scale(1.280,1) rotate(-90)" font-size="14.5" stroke="#000" stroke-width="0.3">M2</text>
<text transform="translate(759.75,555.50) scale(1.280,1)" font-size="14.2" font-style="italic" stroke="#000" stroke-width="0.3">R</text>
<text transform="translate(777.43,555.50) scale(1.280,1)" font-size="14.2" stroke="#000" stroke-width="0.3">=</text>
<text transform="translate(791.55,555.50) scale(1.280,1)" font-size="14.2" stroke="#000" stroke-width="0.3">−</text>
<text transform="translate(804.55,555.50) scale(1.280,1)" font-size="14.2" stroke="#000" stroke-width="0.3">0.63,</text>
<text transform="translate(849.61,555.50) scale(1.280,1)" font-size="14.2" font-style="italic" stroke="#000" stroke-width="0.3">p</text>
<text transform="translate(863.84,555.50) scale(1.280,1)" font-size="14.2" stroke="#000" stroke-width="0.3">=</text>
<text transform="translate(878.84,555.50) scale(1.280,1)" font-size="14.2" stroke="#000" stroke-width="0.3">0.0057</text>
<path d="M758.9,487.7 L760.5,487.0 L762.1,486.3 L763.7,485.7 L765.2,485.0 L766.8,484.4 L768.4,483.7 L770.0,483.1 L771.6,482.5 L773.2,481.8 L774.8,481.2 L776.3,480.7 L777.9,480.1 L779.5,479.5 L781.1,479.0 L782.7,478.5 L784.3,477.9 L785.9,477.4 L787.4,477.0 L789.0,476.5 L790.6,476.0 L792.2,475.6 L793.8,475.2 L795.4,474.8 L797.0,474.4 L798.5,474.0 L800.1,473.6 L801.7,473.3 L803.3,473.0 L804.9,472.7 L806.5,472.4 L808.1,472.1 L809.6,471.9 L811.2,471.6 L812.8,471.4 L814.4,471.2 L816.0,471.0 L817.6,470.8 L819.2,470.7 L820.7,470.5 L822.3,470.4 L823.9,470.3 L825.5,470.2 L827.1,470.1 L828.7,470.0 L830.3,470.0 L831.9,469.9 L833.4,469.9 L835.0,469.9 L836.6,469.9 L838.2,469.9 L839.8,469.9 L841.4,470.0 L843.0,470.0 L844.5,470.1 L846.1,470.2 L847.7,470.2 L849.3,470.3 L850.9,470.4 L852.5,470.5 L854.1,470.7 L855.6,470.8 L857.2,470.9 L858.8,471.1 L860.4,471.2 L862.0,471.3 L863.6,471.5 L865.2,471.7 L866.7,471.8 L868.3,472.0 L869.9,472.2 L871.5,472.3 L873.1,472.5 L874.7,472.7 L876.3,472.8 L877.8,473.0 L879.4,473.2 L881.0,473.4 L882.6,473.5 L884.2,473.7 L885.8,473.9 L887.4,474.0 L888.9,474.2 L890.5,474.4 L892.1,474.5 L893.7,474.7 L895.3,474.8 L896.9,474.9 L898.5,475.1 L900.0,475.2 L901.6,475.3 L903.2,475.4 L904.8,475.6 L906.4,475.7 L908.0,475.8 L909.6,475.8 L911.1,475.9 L912.7,476.0 L914.3,476.1 L915.9,476.1 L917.5,476.2 L919.1,476.2 L920.7,476.2 L922.2,476.3 L923.8,476.3 L925.4,476.3 L927.0,476.3 L928.6,476.3 L930.2,476.3 L931.8,476.2 L933.3,476.2 L934.9,476.2 L936.5,476.1 L938.1,476.1 L939.7,476.0 L941.3,475.9 L942.9,475.9 L944.4,475.8 L946.0,475.7 L947.6,475.6 L949.2,475.5 L950.8,475.4 L952.4,475.3 L954.0,475.2 L955.5,475.1 L957.1,475.0 L958.7,474.8 L960.3,474.7 L961.9,474.6 L963.5,474.4 L965.1,474.3 L966.7,474.1 L968.2,474.0 L969.8,473.9 L971.4,473.7 L973.0,473.6 L974.6,473.4 L976.2,473.3 L977.8,473.1 L979.3,473.0 L980.9,472.8 L982.5,472.7 L984.1,472.5 L985.7,472.4 L987.3,472.2 L988.9,472.1 L990.4,472.0 L992.0,471.8 L993.6,471.7 L995.2,471.6 L996.8,471.4 L998.4,471.3 L1000.0,471.2 L1001.5,471.1 L1003.1,471.0 L1004.7,470.9 L1006.3,470.8 L1007.9,470.7 L1009.5,470.6 L1011.1,470.5 L1012.6,470.4 L1014.2,470.3 L1015.8,470.3 L1017.4,470.2 L1019.0,470.1 L1020.6,470.1 L1022.2,470.1 L1023.7,470.0 L1025.3,470.0 L1026.9,470.0 L1028.5,470.0 L1030.1,470.0 L1031.7,470.0 L1033.3,470.0 L1034.8,470.0 L1036.4,470.1 L1038.0,470.1 L1039.6,470.2 L1041.2,470.2 L1042.8,470.3 L1044.4,470.4 L1045.9,470.5 L1047.5,470.6 L1049.1,470.7 L1050.7,470.9 L1052.3,471.0 L1053.9,471.2 L1055.5,471.3 L1057.0,471.5 L1058.6,471.7 L1060.2,471.9 L1061.8,472.1 L1063.4,472.3 L1065.0,472.5 L1066.6,472.8 L1068.1,473.1 L1069.7,473.3 L1071.3,473.6 L1072.9,473.9 L1074.5,474.2 L1076.1,474.5 L1077.7,474.9 L1079.2,475.2 L1080.8,475.6 L1082.4,475.9 L1084.0,476.3 L1085.6,476.7 L1087.2,477.1 L1088.8,477.5 L1090.3,478.0 L1091.9,478.4 L1093.5,478.9 L1095.1,479.3 L1096.7,479.8 L1098.3,480.3 L1099.9,480.8 L1101.5,481.3 L1103.0,481.8 L1104.6,482.3 L1106.2,482.8 L1107.8,483.4 L1109.4,483.9 L1111.0,484.5 L1112.6,485.1 L1114.1,485.6 L1115.7,486.2 L1117.3,486.8 L1118.9,487.4 L1120.5,488.0 L1122.1,488.6 L1123.7,489.3 L1125.2,489.9 L1126.8,490.5 L1128.4,491.1 L1130.0,491.8 L1131.6,492.4 L1133.2,493.1 L1134.8,493.7 L1136.3,494.4 L1137.9,495.0 L1139.5,495.7 L1141.1,496.3 L1142.7,497.0 L1144.3,497.7 L1145.9,498.3 L1147.4,499.0 L1149.0,499.6 L1150.6,500.3 L1152.2,501.0 L1153.8,501.6 L1155.4,502.3 L1157.0,502.9 L1158.5,503.6 L1160.1,504.2 L1161.7,504.9 L1163.3,505.5 L1163.3,536.2 L758.9,536.2 Z" fill="#FFA500"/>
<path d="M758.9,487.7 L760.5,487.0 L762.1,486.3 L763.7,485.7 L765.2,485.0 L766.8,484.4 L768.4,483.7 L770.0,483.1 L771.6,482.5 L773.2,481.8 L774.8,481.2 L776.3,480.7 L777.9,480.1 L779.5,479.5 L781.1,479.0 L782.7,478.5 L784.3,477.9 L785.9,477.4 L787.4,477.0 L789.0,476.5 L790.6,476.0 L792.2,475.6 L793.8,475.2 L795.4,474.8 L797.0,474.4 L798.5,474.0 L800.1,473.6 L801.7,473.3 L803.3,473.0 L804.9,472.7 L806.5,472.4 L808.1,472.1 L809.6,471.9 L811.2,471.6 L812.8,471.4 L814.4,471.2 L816.0,471.0 L817.6,470.8 L819.2,470.7 L820.7,470.5 L822.3,470.4 L823.9,470.3 L825.5,470.2 L827.1,470.1 L828.7,470.0 L830.3,470.0 L831.9,469.9 L833.4,469.9 L835.0,469.9 L836.6,469.9 L838.2,469.9 L839.8,469.9 L841.4,470.0 L843.0,470.0 L844.5,470.1 L846.1,470.2 L847.7,470.2 L849.3,470.3 L850.9,470.4 L852.5,470.5 L854.1,470.7 L855.6,470.8 L857.2,470.9 L858.8,471.1 L860.4,471.2 L862.0,471.3 L863.6,471.5 L865.2,471.7 L866.7,471.8 L868.3,472.0 L869.9,472.2 L871.5,472.3 L873.1,472.5 L874.7,472.7 L876.3,472.8 L877.8,473.0 L879.4,473.2 L881.0,473.4 L882.6,473.5 L884.2,473.7 L885.8,473.9 L887.4,474.0 L888.9,474.2 L890.5,474.4 L892.1,474.5 L893.7,474.7 L895.3,474.8 L896.9,474.9 L898.5,475.1 L900.0,475.2 L901.6,475.3 L903.2,475.4 L904.8,475.6 L906.4,475.7 L908.0,475.8 L909.6,475.8 L911.1,475.9 L912.7,476.0 L914.3,476.1 L915.9,476.1 L917.5,476.2 L919.1,476.2 L920.7,476.2 L922.2,476.3 L923.8,476.3 L925.4,476.3 L927.0,476.3 L928.6,476.3 L930.2,476.3 L931.8,476.2 L933.3,476.2 L934.9,476.2 L936.5,476.1 L938.1,476.1 L939.7,476.0 L941.3,475.9 L942.9,475.9 L944.4,475.8 L946.0,475.7 L947.6,475.6 L949.2,475.5 L950.8,475.4 L952.4,475.3 L954.0,475.2 L955.5,475.1 L957.1,475.0 L958.7,474.8 L960.3,474.7 L961.9,474.6 L963.5,474.4 L965.1,474.3 L966.7,474.1 L968.2,474.0 L969.8,473.9 L971.4,473.7 L973.0,473.6 L974.6,473.4 L976.2,473.3 L977.8,473.1 L979.3,473.0 L980.9,472.8 L982.5,472.7 L984.1,472.5 L985.7,472.4 L987.3,472.2 L988.9,472.1 L990.4,472.0 L992.0,471.8 L993.6,471.7 L995.2,471.6 L996.8,471.4 L998.4,471.3 L1000.0,471.2 L1001.5,471.1 L1003.1,471.0 L1004.7,470.9 L1006.3,470.8 L1007.9,470.7 L1009.5,470.6 L1011.1,470.5 L1012.6,470.4 L1014.2,470.3 L1015.8,470.3 L1017.4,470.2 L1019.0,470.1 L1020.6,470.1 L1022.2,470.1 L1023.7,470.0 L1025.3,470.0 L1026.9,470.0 L1028.5,470.0 L1030.1,470.0 L1031.7,470.0 L1033.3,470.0 L1034.8,470.0 L1036.4,470.1 L1038.0,470.1 L1039.6,470.2 L1041.2,470.2 L1042.8,470.3 L1044.4,470.4 L1045.9,470.5 L1047.5,470.6 L1049.1,470.7 L1050.7,470.9 L1052.3,471.0 L1053.9,471.2 L1055.5,471.3 L1057.0,471.5 L1058.6,471.7 L1060.2,471.9 L1061.8,472.1 L1063.4,472.3 L1065.0,472.5 L1066.6,472.8 L1068.1,473.1 L1069.7,473.3 L1071.3,473.6 L1072.9,473.9 L1074.5,474.2 L1076.1,474.5 L1077.7,474.9 L1079.2,475.2 L1080.8,475.6 L1082.4,475.9 L1084.0,476.3 L1085.6,476.7 L1087.2,477.1 L1088.8,477.5 L1090.3,478.0 L1091.9,478.4 L1093.5,478.9 L1095.1,479.3 L1096.7,479.8 L1098.3,480.3 L1099.9,480.8 L1101.5,481.3 L1103.0,481.8 L1104.6,482.3 L1106.2,482.8 L1107.8,483.4 L1109.4,483.9 L1111.0,484.5 L1112.6,485.1 L1114.1,485.6 L1115.7,486.2 L1117.3,486.8 L1118.9,487.4 L1120.5,488.0 L1122.1,488.6 L1123.7,489.3 L1125.2,489.9 L1126.8,490.5 L1128.4,491.1 L1130.0,491.8 L1131.6,492.4 L1133.2,493.1 L1134.8,493.7 L1136.3,494.4 L1137.9,495.0 L1139.5,495.7 L1141.1,496.3 L1142.7,497.0 L1144.3,497.7 L1145.9,498.3 L1147.4,499.0 L1149.0,499.6 L1150.6,500.3 L1152.2,501.0 L1153.8,501.6 L1155.4,502.3 L1157.0,502.9 L1158.5,503.6 L1160.1,504.2 L1161.7,504.9 L1163.3,505.5" fill="none" stroke="#000" stroke-width="1.5" stroke-linejoin="round"/>
<path d="M1229.8,555.9 L1230.5,557.2 L1231.2,558.5 L1231.9,559.8 L1232.5,561.1 L1233.2,562.4 L1233.9,563.7 L1234.5,565.0 L1235.1,566.3 L1235.7,567.6 L1236.3,568.9 L1236.8,570.2 L1237.4,571.5 L1237.9,572.8 L1238.4,574.1 L1238.8,575.4 L1239.3,576.7 L1239.7,578.0 L1240.1,579.3 L1240.5,580.6 L1240.8,581.9 L1241.1,583.2 L1241.4,584.5 L1241.7,585.8 L1241.9,587.1 L1242.1,588.4 L1242.3,589.7 L1242.4,591.0 L1242.6,592.3 L1242.6,593.6 L1242.7,594.9 L1242.7,596.2 L1242.7,597.5 L1242.7,598.8 L1242.7,600.1 L1242.6,601.4 L1242.5,602.7 L1242.4,604.0 L1242.2,605.3 L1242.0,606.6 L1241.8,607.9 L1241.6,609.2 L1241.3,610.5 L1241.0,611.8 L1240.7,613.1 L1240.4,614.4 L1240.1,615.7 L1239.7,617.0 L1239.3,618.3 L1238.9,619.6 L1238.5,620.9 L1238.1,622.2 L1237.6,623.5 L1237.2,624.8 L1236.7,626.1 L1236.2,627.4 L1235.7,628.7 L1235.2,630.0 L1234.7,631.3 L1234.2,632.6 L1233.6,633.9 L1233.1,635.2 L1232.6,636.5 L1232.0,637.8 L1231.5,639.1 L1231.0,640.4 L1230.5,641.7 L1229.9,643.0 L1229.4,644.3 L1228.9,645.6 L1228.4,646.9 L1227.9,648.2 L1227.4,649.5 L1227.0,650.8 L1226.5,652.1 L1226.0,653.4 L1225.6,654.7 L1225.2,656.0 L1224.8,657.3 L1224.4,658.6 L1224.1,659.9 L1223.7,661.2 L1223.4,662.5 L1223.1,663.8 L1222.9,665.1 L1222.6,666.4 L1222.4,667.7 L1222.2,669.0 L1222.0,670.3 L1221.9,671.6 L1221.8,672.9 L1221.7,674.2 L1221.7,675.5 L1221.6,676.8 L1221.6,678.1 L1221.7,679.4 L1221.7,680.7 L1221.8,682.0 L1222.0,683.3 L1222.1,684.6 L1222.3,685.9 L1222.5,687.2 L1222.8,688.5 L1223.1,689.8 L1223.4,691.1 L1223.7,692.4 L1224.1,693.7 L1224.5,695.0 L1225.0,696.3 L1225.4,697.6 L1225.9,698.9 L1226.4,700.2 L1227.0,701.5 L1227.6,702.8 L1228.2,704.1 L1228.8,705.4 L1229.5,706.7 L1230.1,708.0 L1230.8,709.3 L1231.6,710.6 L1232.3,711.9 L1233.1,713.2 L1233.9,714.5 L1234.7,715.8 L1235.5,717.1 L1236.3,718.4 L1237.2,719.7 L1238.1,721.0 L1238.9,722.3 L1239.8,723.6 L1240.7,724.9 L1241.6,726.2 L1242.6,727.5 L1243.5,728.8 L1244.4,730.1 L1245.3,731.4 L1246.3,732.7 L1247.2,734.0 L1248.1,735.3 L1249.1,736.6 L1250.0,737.9 L1250.9,739.2 L1251.8,740.5 L1252.7,741.8 L1253.6,743.1 L1254.5,744.4 L1255.4,745.7 L1256.2,747.0 L1257.0,748.3 L1257.9,749.6 L1258.7,750.9 L1259.4,752.2 L1260.2,753.5 L1260.9,754.8 L1261.6,756.1 L1262.3,757.4 L1263.0,758.7 L1263.6,760.0 L1264.2,761.3 L1264.8,762.6 L1265.3,763.9 L1265.8,765.2 L1266.3,766.5 L1266.7,767.8 L1267.1,769.1 L1267.5,770.4 L1267.8,771.7 L1268.1,773.0 L1268.4,774.3 L1268.6,775.6 L1268.8,776.9 L1268.9,778.2 L1269.0,779.5 L1269.1,780.8 L1269.1,782.1 L1269.1,783.4 L1269.0,784.7 L1268.9,786.0 L1268.8,787.3 L1268.6,788.6 L1268.4,789.9 L1268.1,791.2 L1267.8,792.5 L1267.5,793.8 L1267.1,795.1 L1266.7,796.4 L1266.2,797.7 L1265.7,799.0 L1265.2,800.3 L1264.7,801.6 L1264.1,802.9 L1263.4,804.2 L1262.8,805.5 L1262.1,806.8 L1261.4,808.1 L1260.6,809.4 L1259.8,810.7 L1259.0,812.0 L1258.2,813.3 L1257.3,814.6 L1256.4,815.9 L1255.5,817.2 L1254.6,818.5 L1253.6,819.8 L1252.6,821.1 L1251.6,822.4 L1250.6,823.7 L1249.6,825.0 L1248.6,826.3 L1247.5,827.6 L1246.4,828.9 L1245.4,830.2 L1244.3,831.5 L1243.2,832.8 L1242.1,834.1 L1241.0,835.4 L1239.9,836.7 L1238.8,838.0 L1237.6,839.3 L1236.5,840.6 L1235.4,841.9 L1234.3,843.2 L1233.2,844.5 L1232.1,845.8 L1231.0,847.1 L1229.9,848.4 L1228.8,849.7 L1227.7,851.0 L1226.7,852.3 L1225.6,853.6 L1224.6,854.9 L1223.5,856.2 L1222.5,857.5 L1221.5,858.8 L1220.5,860.1 L1219.5,861.4 L1218.5,862.7 L1217.6,864.0 L1216.6,865.3 L1215.7,866.6 L1214.8,867.9 L1213.9,869.2 L1213.0,870.5 L1212.2,871.8 L1211.3,873.1 L1210.5,874.4 L1209.7,875.7 L1208.9,877.0 L1208.1,878.3 L1207.4,879.6 L1206.6,880.9 L1205.9,882.2 L1205.2,883.5 L1204.6,884.8 L1203.9,886.1 L1203.3,887.4 L1188.0,887.4 L1188.0,555.9 Z" fill="#0000FF"/>
<path d="M1229.8,555.9 L1230.5,557.2 L1231.2,558.5 L1231.9,559.8 L1232.5,561.1 L1233.2,562.4 L1233.9,563.7 L1234.5,565.0 L1235.1,566.3 L1235.7,567.6 L1236.3,568.9 L1236.8,570.2 L1237.4,571.5 L1237.9,572.8 L1238.4,574.1 L1238.8,575.4 L1239.3,576.7 L1239.7,578.0 L1240.1,579.3 L1240.5,580.6 L1240.8,581.9 L1241.1,583.2 L1241.4,584.5 L1241.7,585.8 L1241.9,587.1 L1242.1,588.4 L1242.3,589.7 L1242.4,591.0 L1242.6,592.3 L1242.6,593.6 L1242.7,594.9 L1242.7,596.2 L1242.7,597.5 L1242.7,598.8 L1242.7,600.1 L1242.6,601.4 L1242.5,602.7 L1242.4,604.0 L1242.2,605.3 L1242.0,606.6 L1241.8,607.9 L1241.6,609.2 L1241.3,610.5 L1241.0,611.8 L1240.7,613.1 L1240.4,614.4 L1240.1,615.7 L1239.7,617.0 L1239.3,618.3 L1238.9,619.6 L1238.5,620.9 L1238.1,622.2 L1237.6,623.5 L1237.2,624.8 L1236.7,626.1 L1236.2,627.4 L1235.7,628.7 L1235.2,630.0 L1234.7,631.3 L1234.2,632.6 L1233.6,633.9 L1233.1,635.2 L1232.6,636.5 L1232.0,637.8 L1231.5,639.1 L1231.0,640.4 L1230.5,641.7 L1229.9,643.0 L1229.4,644.3 L1228.9,645.6 L1228.4,646.9 L1227.9,648.2 L1227.4,649.5 L1227.0,650.8 L1226.5,652.1 L1226.0,653.4 L1225.6,654.7 L1225.2,656.0 L1224.8,657.3 L1224.4,658.6 L1224.1,659.9 L1223.7,661.2 L1223.4,662.5 L1223.1,663.8 L1222.9,665.1 L1222.6,666.4 L1222.4,667.7 L1222.2,669.0 L1222.0,670.3 L1221.9,671.6 L1221.8,672.9 L1221.7,674.2 L1221.7,675.5 L1221.6,676.8 L1221.6,678.1 L1221.7,679.4 L1221.7,680.7 L1221.8,682.0 L1222.0,683.3 L1222.1,684.6 L1222.3,685.9 L1222.5,687.2 L1222.8,688.5 L1223.1,689.8 L1223.4,691.1 L1223.7,692.4 L1224.1,693.7 L1224.5,695.0 L1225.0,696.3 L1225.4,697.6 L1225.9,698.9 L1226.4,700.2 L1227.0,701.5 L1227.6,702.8 L1228.2,704.1 L1228.8,705.4 L1229.5,706.7 L1230.1,708.0 L1230.8,709.3 L1231.6,710.6 L1232.3,711.9 L1233.1,713.2 L1233.9,714.5 L1234.7,715.8 L1235.5,717.1 L1236.3,718.4 L1237.2,719.7 L1238.1,721.0 L1238.9,722.3 L1239.8,723.6 L1240.7,724.9 L1241.6,726.2 L1242.6,727.5 L1243.5,728.8 L1244.4,730.1 L1245.3,731.4 L1246.3,732.7 L1247.2,734.0 L1248.1,735.3 L1249.1,736.6 L1250.0,737.9 L1250.9,739.2 L1251.8,740.5 L1252.7,741.8 L1253.6,743.1 L1254.5,744.4 L1255.4,745.7 L1256.2,747.0 L1257.0,748.3 L1257.9,749.6 L1258.7,750.9 L1259.4,752.2 L1260.2,753.5 L1260.9,754.8 L1261.6,756.1 L1262.3,757.4 L1263.0,758.7 L1263.6,760.0 L1264.2,761.3 L1264.8,762.6 L1265.3,763.9 L1265.8,765.2 L1266.3,766.5 L1266.7,767.8 L1267.1,769.1 L1267.5,770.4 L1267.8,771.7 L1268.1,773.0 L1268.4,774.3 L1268.6,775.6 L1268.8,776.9 L1268.9,778.2 L1269.0,779.5 L1269.1,780.8 L1269.1,782.1 L1269.1,783.4 L1269.0,784.7 L1268.9,786.0 L1268.8,787.3 L1268.6,788.6 L1268.4,789.9 L1268.1,791.2 L1267.8,792.5 L1267.5,793.8 L1267.1,795.1 L1266.7,796.4 L1266.2,797.7 L1265.7,799.0 L1265.2,800.3 L1264.7,801.6 L1264.1,802.9 L1263.4,804.2 L1262.8,805.5 L1262.1,806.8 L1261.4,808.1 L1260.6,809.4 L1259.8,810.7 L1259.0,812.0 L1258.2,813.3 L1257.3,814.6 L1256.4,815.9 L1255.5,817.2 L1254.6,818.5 L1253.6,819.8 L1252.6,821.1 L1251.6,822.4 L1250.6,823.7 L1249.6,825.0 L1248.6,826.3 L1247.5,827.6 L1246.4,828.9 L1245.4,830.2 L1244.3,831.5 L1243.2,832.8 L1242.1,834.1 L1241.0,835.4 L1239.9,836.7 L1238.8,838.0 L1237.6,839.3 L1236.5,840.6 L1235.4,841.9 L1234.3,843.2 L1233.2,844.5 L1232.1,845.8 L1231.0,847.1 L1229.9,848.4 L1228.8,849.7 L1227.7,851.0 L1226.7,852.3 L1225.6,853.6 L1224.6,854.9 L1223.5,856.2 L1222.5,857.5 L1221.5,858.8 L1220.5,860.1 L1219.5,861.4 L1218.5,862.7 L1217.6,864.0 L1216.6,865.3 L1215.7,866.6 L1214.8,867.9 L1213.9,869.2 L1213.0,870.5 L1212.2,871.8 L1211.3,873.1 L1210.5,874.4 L1209.7,875.7 L1208.9,877.0 L1208.1,878.3 L1207.4,879.6 L1206.6,880.9 L1205.9,882.2 L1205.2,883.5 L1204.6,884.8 L1203.9,886.1 L1203.3,887.4" fill="none" stroke="#000" stroke-width="1.5" stroke-linejoin="round"/>
<text transform="translate(644.28,506.00)" font-size="35.5" font-weight="bold" font-family="'Liberation Serif', 'Times New Roman', serif">E</text>
<g><line x1="1446.6" y1="539.8" x2="1446.6" y2="903.5" class="gm"/><line x1="1593.5" y1="539.8" x2="1593.5" y2="903.5" class="gm"/><line x1="1740.0" y1="539.8" x2="1740.0" y2="903.5" class="gm"/><line x1="1409.7" y1="608.6" x2="1846.5" y2="608.6" class="gm"/><line x1="1409.7" y1="702.9" x2="1846.5" y2="702.9" class="gm"/><line x1="1409.7" y1="796.7" x2="1846.5" y2="796.7" class="gm"/><line x1="1409.7" y1="890.8" x2="1846.5" y2="890.8" class="gm"/><line x1="1520.1" y1="539.8" x2="1520.1" y2="903.5" class="gM"/><line x1="1667.0" y1="539.8" x2="1667.0" y2="903.5" class="gM"/><line x1="1813.1" y1="539.8" x2="1813.1" y2="903.5" class="gM"/><line x1="1409.7" y1="561.5" x2="1846.5" y2="561.5" class="gM"/><line x1="1409.7" y1="655.7" x2="1846.5" y2="655.7" class="gM"/><line x1="1409.7" y1="749.9" x2="1846.5" y2="749.9" class="gM"/><line x1="1409.7" y1="843.4" x2="1846.5" y2="843.4" class="gM"/></g>
<g fill="#000"><ellipse cx="1429.1" cy="787.2" rx="3.9" ry="2.9"/><ellipse cx="1441.3" cy="802.6" rx="3.9" ry="2.9"/><ellipse cx="1443.2" cy="847.6" rx="3.9" ry="2.9"/><ellipse cx="1490.5" cy="813.8" rx="3.9" ry="2.9"/><ellipse cx="1492.8" cy="726.1" rx="3.9" ry="2.9"/><ellipse cx="1525.7" cy="808.9" rx="3.9" ry="2.9"/><ellipse cx="1528.6" cy="716.6" rx="3.9" ry="2.9"/><ellipse cx="1550.7" cy="827.0" rx="3.9" ry="2.9"/><ellipse cx="1625.2" cy="820.0" rx="3.9" ry="2.9"/><ellipse cx="1625.2" cy="831.6" rx="3.9" ry="2.9"/><ellipse cx="1653.5" cy="736.8" rx="3.9" ry="2.9"/><ellipse cx="1657.8" cy="874.9" rx="3.9" ry="2.9"/><ellipse cx="1710.0" cy="773.7" rx="3.9" ry="2.9"/><ellipse cx="1730.3" cy="640.8" rx="3.9" ry="2.9"/><ellipse cx="1730.3" cy="690.1" rx="3.9" ry="2.9"/><ellipse cx="1761.6" cy="781.0" rx="3.9" ry="2.9"/><ellipse cx="1770.1" cy="776.0" rx="3.9" ry="2.9"/><ellipse cx="1827.2" cy="556.2" rx="3.9" ry="2.9"/></g>
<polygon points="1429.1,763.0 1434.1,762.5 1439.2,762.1 1444.2,761.6 1449.3,761.2 1454.3,760.7 1459.3,760.2 1464.4,759.7 1469.4,759.2 1474.5,758.6 1479.5,758.1 1484.5,757.5 1489.6,756.9 1494.6,756.3 1499.6,755.7 1504.7,755.0 1509.7,754.3 1514.8,753.6 1519.8,752.8 1524.8,752.1 1529.9,751.3 1534.9,750.4 1540.0,749.5 1545.0,748.6 1550.0,747.7 1555.1,746.7 1560.1,745.6 1565.2,744.5 1570.2,743.4 1575.2,742.2 1580.3,741.0 1585.3,739.7 1590.4,738.4 1595.4,736.9 1600.4,735.5 1605.5,734.0 1610.5,732.4 1615.6,730.8 1620.6,729.1 1625.6,727.3 1630.7,725.5 1635.7,723.7 1640.7,721.7 1645.8,719.8 1650.8,717.7 1655.9,715.7 1660.9,713.5 1665.9,711.4 1671.0,709.2 1676.0,706.9 1681.1,704.6 1686.1,702.3 1691.1,699.9 1696.2,697.5 1701.2,695.1 1706.3,692.6 1711.3,690.1 1716.3,687.6 1721.4,685.0 1726.4,682.5 1731.5,679.9 1736.5,677.3 1741.5,674.6 1746.6,672.0 1751.6,669.3 1756.7,666.6 1761.7,663.9 1766.7,661.2 1771.8,658.4 1776.8,655.7 1781.8,652.9 1786.9,650.2 1791.9,647.4 1797.0,644.6 1802.0,641.8 1807.0,639.0 1812.1,636.2 1817.1,633.3 1822.2,630.5 1827.2,627.6 1827.2,768.9 1822.2,769.2 1817.1,769.6 1812.1,770.0 1807.0,770.4 1802.0,770.8 1797.0,771.2 1791.9,771.6 1786.9,772.0 1781.8,772.5 1776.8,772.9 1771.8,773.4 1766.7,773.9 1761.7,774.4 1756.7,774.9 1751.6,775.4 1746.6,775.9 1741.5,776.5 1736.5,777.1 1731.5,777.7 1726.4,778.3 1721.4,778.9 1716.3,779.6 1711.3,780.3 1706.3,781.0 1701.2,781.8 1696.2,782.5 1691.1,783.3 1686.1,784.2 1681.1,785.1 1676.0,786.0 1671.0,787.0 1665.9,788.0 1660.9,789.0 1655.9,790.1 1650.8,791.2 1645.8,792.4 1640.7,793.7 1635.7,795.0 1630.7,796.3 1625.6,797.7 1620.6,799.2 1615.6,800.7 1610.5,802.3 1605.5,803.9 1600.4,805.6 1595.4,807.4 1590.4,809.2 1585.3,811.1 1580.3,813.0 1575.2,814.9 1570.2,817.0 1565.2,819.1 1560.1,821.2 1555.1,823.4 1550.0,825.6 1545.0,827.8 1540.0,830.1 1534.9,832.5 1529.9,834.8 1524.8,837.2 1519.8,839.7 1514.8,842.1 1509.7,844.6 1504.7,847.2 1499.6,849.7 1494.6,852.3 1489.6,854.9 1484.5,857.5 1479.5,860.1 1474.5,862.8 1469.4,865.5 1464.4,868.2 1459.3,870.9 1454.3,873.6 1449.3,876.3 1444.2,879.1 1439.2,881.8 1434.1,884.6 1429.1,887.4" fill="#999" fill-opacity="0.4"/>
<line x1="1429.1" y1="825.2" x2="1827.2" y2="698.3" stroke="#3366FF" stroke-width="2.6"/>
<rect x="1409.7" y="539.8" width="436.8" height="363.7" fill="none" stroke="#333" stroke-width="1.2"/>
<g stroke="#333" stroke-width="1.3"><line x1="1520.1" y1="903.5" x2="1520.1" y2="907.1"/><line x1="1667.0" y1="903.5" x2="1667.0" y2="907.1"/><line x1="1813.1" y1="903.5" x2="1813.1" y2="907.1"/><line x1="1405.1" y1="561.5" x2="1409.7" y2="561.5"/><line x1="1405.1" y1="655.7" x2="1409.7" y2="655.7"/><line x1="1405.1" y1="749.9" x2="1409.7" y2="749.9"/><line x1="1405.1" y1="843.4" x2="1409.7" y2="843.4"/></g>
<text transform="translate(1511.82,918.90) scale(1.280,1)" font-size="11.3" fill="#4D4D4D" stroke="#4D4D4D" stroke-width="0.3">15</text>
<text transform="translate(1658.88,918.90) scale(1.280,1)" font-size="11.3" fill="#4D4D4D" stroke="#4D4D4D" stroke-width="0.3">20</text>
<text transform="translate(1805.00,918.90) scale(1.280,1)" font-size="11.3" fill="#4D4D4D" stroke="#4D4D4D" stroke-width="0.3">25</text>
<text transform="translate(1372.31,565.40) scale(1.280,1)" font-size="11.3" fill="#4D4D4D" stroke="#4D4D4D" stroke-width="0.3">10.0</text>
<text transform="translate(1380.37,659.60) scale(1.280,1)" font-size="11.3" fill="#4D4D4D" stroke="#4D4D4D" stroke-width="0.3">7.5</text>
<text transform="translate(1380.34,753.80) scale(1.280,1)" font-size="11.3" fill="#4D4D4D" stroke="#4D4D4D" stroke-width="0.3">5.0</text>
<text transform="translate(1380.37,847.30) scale(1.280,1)" font-size="11.3" fill="#4D4D4D" stroke="#4D4D4D" stroke-width="0.3">2.5</text>
<text transform="translate(1599.83,934.20) scale(1.280,1)" font-size="14.5" stroke="#000" stroke-width="0.3">CXCL8</text>
<text transform="translate(1364.00,754.80) scale(1.280,1) rotate(-90)" font-size="14.5" stroke="#000" stroke-width="0.3">Neutrophil</text>
<text transform="translate(1429.65,554.70) scale(1.280,1)" font-size="14.2" font-style="italic" stroke="#000" stroke-width="0.3">R</text>
<text transform="translate(1447.33,554.70) scale(1.280,1)" font-size="14.2" stroke="#000" stroke-width="0.3">=</text>
<text transform="translate(1462.23,554.70) scale(1.280,1)" font-size="14.2" stroke="#000" stroke-width="0.3">0.45,</text>
<text transform="translate(1507.29,554.70) scale(1.280,1)" font-size="14.2" font-style="italic" stroke="#000" stroke-width="0.3">p</text>
<text transform="translate(1521.52,554.70) scale(1.280,1)" font-size="14.2" stroke="#000" stroke-width="0.3">=</text>
<text transform="translate(1536.52,554.70) scale(1.280,1)" font-size="14.2" stroke="#000" stroke-width="0.3">0.063</text>
<path d="M1429.1,487.6 L1430.7,486.9 L1432.2,486.2 L1433.8,485.5 L1435.3,484.9 L1436.9,484.2 L1438.5,483.6 L1440.0,482.9 L1441.6,482.3 L1443.2,481.7 L1444.7,481.1 L1446.3,480.5 L1447.8,480.0 L1449.4,479.4 L1451.0,478.9 L1452.5,478.4 L1454.1,477.8 L1455.6,477.3 L1457.2,476.9 L1458.8,476.4 L1460.3,475.9 L1461.9,475.5 L1463.4,475.1 L1465.0,474.7 L1466.6,474.3 L1468.1,473.9 L1469.7,473.6 L1471.3,473.2 L1472.8,472.9 L1474.4,472.6 L1475.9,472.3 L1477.5,472.1 L1479.1,471.8 L1480.6,471.6 L1482.2,471.3 L1483.7,471.1 L1485.3,471.0 L1486.9,470.8 L1488.4,470.6 L1490.0,470.5 L1491.5,470.4 L1493.1,470.3 L1494.7,470.2 L1496.2,470.1 L1497.8,470.0 L1499.4,470.0 L1500.9,469.9 L1502.5,469.9 L1504.0,469.9 L1505.6,469.9 L1507.2,469.9 L1508.7,470.0 L1510.3,470.0 L1511.8,470.0 L1513.4,470.1 L1515.0,470.2 L1516.5,470.3 L1518.1,470.4 L1519.6,470.5 L1521.2,470.6 L1522.8,470.7 L1524.3,470.8 L1525.9,471.0 L1527.5,471.1 L1529.0,471.2 L1530.6,471.4 L1532.1,471.5 L1533.7,471.7 L1535.3,471.9 L1536.8,472.0 L1538.4,472.2 L1539.9,472.4 L1541.5,472.6 L1543.1,472.7 L1544.6,472.9 L1546.2,473.1 L1547.7,473.3 L1549.3,473.4 L1550.9,473.6 L1552.4,473.8 L1554.0,473.9 L1555.6,474.1 L1557.1,474.3 L1558.7,474.4 L1560.2,474.6 L1561.8,474.7 L1563.4,474.9 L1564.9,475.0 L1566.5,475.1 L1568.0,475.3 L1569.6,475.4 L1571.2,475.5 L1572.7,475.6 L1574.3,475.7 L1575.9,475.8 L1577.4,475.9 L1579.0,476.0 L1580.5,476.1 L1582.1,476.1 L1583.7,476.2 L1585.2,476.2 L1586.8,476.3 L1588.3,476.3 L1589.9,476.3 L1591.5,476.3 L1593.0,476.4 L1594.6,476.4 L1596.1,476.3 L1597.7,476.3 L1599.3,476.3 L1600.8,476.3 L1602.4,476.2 L1604.0,476.2 L1605.5,476.1 L1607.1,476.1 L1608.6,476.0 L1610.2,475.9 L1611.8,475.9 L1613.3,475.8 L1614.9,475.7 L1616.4,475.6 L1618.0,475.5 L1619.6,475.4 L1621.1,475.3 L1622.7,475.1 L1624.2,475.0 L1625.8,474.9 L1627.4,474.8 L1628.9,474.6 L1630.5,474.5 L1632.1,474.4 L1633.6,474.2 L1635.2,474.1 L1636.7,473.9 L1638.3,473.8 L1639.9,473.6 L1641.4,473.5 L1643.0,473.4 L1644.5,473.2 L1646.1,473.1 L1647.7,472.9 L1649.2,472.8 L1650.8,472.6 L1652.3,472.5 L1653.9,472.3 L1655.5,472.2 L1657.0,472.0 L1658.6,471.9 L1660.2,471.8 L1661.7,471.6 L1663.3,471.5 L1664.8,471.4 L1666.4,471.3 L1668.0,471.2 L1669.5,471.0 L1671.1,470.9 L1672.6,470.8 L1674.2,470.7 L1675.8,470.6 L1677.3,470.6 L1678.9,470.5 L1680.4,470.4 L1682.0,470.3 L1683.6,470.3 L1685.1,470.2 L1686.7,470.2 L1688.3,470.1 L1689.8,470.1 L1691.4,470.1 L1692.9,470.1 L1694.5,470.1 L1696.1,470.1 L1697.6,470.1 L1699.2,470.1 L1700.7,470.1 L1702.3,470.2 L1703.9,470.2 L1705.4,470.3 L1707.0,470.3 L1708.6,470.4 L1710.1,470.5 L1711.7,470.6 L1713.2,470.7 L1714.8,470.8 L1716.4,470.9 L1717.9,471.1 L1719.5,471.2 L1721.0,471.4 L1722.6,471.6 L1724.2,471.8 L1725.7,472.0 L1727.3,472.2 L1728.8,472.4 L1730.4,472.6 L1732.0,472.9 L1733.5,473.1 L1735.1,473.4 L1736.7,473.7 L1738.2,474.0 L1739.8,474.3 L1741.3,474.6 L1742.9,474.9 L1744.5,475.3 L1746.0,475.6 L1747.6,476.0 L1749.1,476.4 L1750.7,476.8 L1752.3,477.2 L1753.8,477.6 L1755.4,478.0 L1756.9,478.5 L1758.5,478.9 L1760.1,479.4 L1761.6,479.9 L1763.2,480.3 L1764.8,480.8 L1766.3,481.3 L1767.9,481.9 L1769.4,482.4 L1771.0,482.9 L1772.6,483.5 L1774.1,484.0 L1775.7,484.6 L1777.2,485.1 L1778.8,485.7 L1780.4,486.3 L1781.9,486.9 L1783.5,487.5 L1785.0,488.1 L1786.6,488.7 L1788.2,489.3 L1789.7,489.9 L1791.3,490.6 L1792.9,491.2 L1794.4,491.8 L1796.0,492.5 L1797.5,493.1 L1799.1,493.8 L1800.7,494.4 L1802.2,495.1 L1803.8,495.7 L1805.3,496.4 L1806.9,497.0 L1808.5,497.7 L1810.0,498.4 L1811.6,499.0 L1813.1,499.7 L1814.7,500.3 L1816.3,501.0 L1817.8,501.6 L1819.4,502.3 L1821.0,503.0 L1822.5,503.6 L1824.1,504.3 L1825.6,504.9 L1827.2,505.5 L1827.2,536.2 L1429.1,536.2 Z" fill="#FFA500"/>
<path d="M1429.1,487.6 L1430.7,486.9 L1432.2,486.2 L1433.8,485.5 L1435.3,484.9 L1436.9,484.2 L1438.5,483.6 L1440.0,482.9 L1441.6,482.3 L1443.2,481.7 L1444.7,481.1 L1446.3,480.5 L1447.8,480.0 L1449.4,479.4 L1451.0,478.9 L1452.5,478.4 L1454.1,477.8 L1455.6,477.3 L1457.2,476.9 L1458.8,476.4 L1460.3,475.9 L1461.9,475.5 L1463.4,475.1 L1465.0,474.7 L1466.6,474.3 L1468.1,473.9 L1469.7,473.6 L1471.3,473.2 L1472.8,472.9 L1474.4,472.6 L1475.9,472.3 L1477.5,472.1 L1479.1,471.8 L1480.6,471.6 L1482.2,471.3 L1483.7,471.1 L1485.3,471.0 L1486.9,470.8 L1488.4,470.6 L1490.0,470.5 L1491.5,470.4 L1493.1,470.3 L1494.7,470.2 L1496.2,470.1 L1497.8,470.0 L1499.4,470.0 L1500.9,469.9 L1502.5,469.9 L1504.0,469.9 L1505.6,469.9 L1507.2,469.9 L1508.7,470.0 L1510.3,470.0 L1511.8,470.0 L1513.4,470.1 L1515.0,470.2 L1516.5,470.3 L1518.1,470.4 L1519.6,470.5 L1521.2,470.6 L1522.8,470.7 L1524.3,470.8 L1525.9,471.0 L1527.5,471.1 L1529.0,471.2 L1530.6,471.4 L1532.1,471.5 L1533.7,471.7 L1535.3,471.9 L1536.8,472.0 L1538.4,472.2 L1539.9,472.4 L1541.5,472.6 L1543.1,472.7 L1544.6,472.9 L1546.2,473.1 L1547.7,473.3 L1549.3,473.4 L1550.9,473.6 L1552.4,473.8 L1554.0,473.9 L1555.6,474.1 L1557.1,474.3 L1558.7,474.4 L1560.2,474.6 L1561.8,474.7 L1563.4,474.9 L1564.9,475.0 L1566.5,475.1 L1568.0,475.3 L1569.6,475.4 L1571.2,475.5 L1572.7,475.6 L1574.3,475.7 L1575.9,475.8 L1577.4,475.9 L1579.0,476.0 L1580.5,476.1 L1582.1,476.1 L1583.7,476.2 L1585.2,476.2 L1586.8,476.3 L1588.3,476.3 L1589.9,476.3 L1591.5,476.3 L1593.0,476.4 L1594.6,476.4 L1596.1,476.3 L1597.7,476.3 L1599.3,476.3 L1600.8,476.3 L1602.4,476.2 L1604.0,476.2 L1605.5,476.1 L1607.1,476.1 L1608.6,476.0 L1610.2,475.9 L1611.8,475.9 L1613.3,475.8 L1614.9,475.7 L1616.4,475.6 L1618.0,475.5 L1619.6,475.4 L1621.1,475.3 L1622.7,475.1 L1624.2,475.0 L1625.8,474.9 L1627.4,474.8 L1628.9,474.6 L1630.5,474.5 L1632.1,474.4 L1633.6,474.2 L1635.2,474.1 L1636.7,473.9 L1638.3,473.8 L1639.9,473.6 L1641.4,473.5 L1643.0,473.4 L1644.5,473.2 L1646.1,473.1 L1647.7,472.9 L1649.2,472.8 L1650.8,472.6 L1652.3,472.5 L1653.9,472.3 L1655.5,472.2 L1657.0,472.0 L1658.6,471.9 L1660.2,471.8 L1661.7,471.6 L1663.3,471.5 L1664.8,471.4 L1666.4,471.3 L1668.0,471.2 L1669.5,471.0 L1671.1,470.9 L1672.6,470.8 L1674.2,470.7 L1675.8,470.6 L1677.3,470.6 L1678.9,470.5 L1680.4,470.4 L1682.0,470.3 L1683.6,470.3 L1685.1,470.2 L1686.7,470.2 L1688.3,470.1 L1689.8,470.1 L1691.4,470.1 L1692.9,470.1 L1694.5,470.1 L1696.1,470.1 L1697.6,470.1 L1699.2,470.1 L1700.7,470.1 L1702.3,470.2 L1703.9,470.2 L1705.4,470.3 L1707.0,470.3 L1708.6,470.4 L1710.1,470.5 L1711.7,470.6 L1713.2,470.7 L1714.8,470.8 L1716.4,470.9 L1717.9,471.1 L1719.5,471.2 L1721.0,471.4 L1722.6,471.6 L1724.2,471.8 L1725.7,472.0 L1727.3,472.2 L1728.8,472.4 L1730.4,472.6 L1732.0,472.9 L1733.5,473.1 L1735.1,473.4 L1736.7,473.7 L1738.2,474.0 L1739.8,474.3 L1741.3,474.6 L1742.9,474.9 L1744.5,475.3 L1746.0,475.6 L1747.6,476.0 L1749.1,476.4 L1750.7,476.8 L1752.3,477.2 L1753.8,477.6 L1755.4,478.0 L1756.9,478.5 L1758.5,478.9 L1760.1,479.4 L1761.6,479.9 L1763.2,480.3 L1764.8,480.8 L1766.3,481.3 L1767.9,481.9 L1769.4,482.4 L1771.0,482.9 L1772.6,483.5 L1774.1,484.0 L1775.7,484.6 L1777.2,485.1 L1778.8,485.7 L1780.4,486.3 L1781.9,486.9 L1783.5,487.5 L1785.0,488.1 L1786.6,488.7 L1788.2,489.3 L1789.7,489.9 L1791.3,490.6 L1792.9,491.2 L1794.4,491.8 L1796.0,492.5 L1797.5,493.1 L1799.1,493.8 L1800.7,494.4 L1802.2,495.1 L1803.8,495.7 L1805.3,496.4 L1806.9,497.0 L1808.5,497.7 L1810.0,498.4 L1811.6,499.0 L1813.1,499.7 L1814.7,500.3 L1816.3,501.0 L1817.8,501.6 L1819.4,502.3 L1821.0,503.0 L1822.5,503.6 L1824.1,504.3 L1825.6,504.9 L1827.2,505.5" fill="none" stroke="#000" stroke-width="1.5" stroke-linejoin="round"/>
<path d="M1860.2,556.2 L1860.3,557.5 L1860.3,558.8 L1860.3,560.1 L1860.3,561.4 L1860.3,562.7 L1860.3,564.0 L1860.3,565.3 L1860.2,566.6 L1860.2,567.9 L1860.2,569.2 L1860.1,570.5 L1860.1,571.8 L1860.0,573.1 L1860.0,574.4 L1859.9,575.7 L1859.8,577.0 L1859.8,578.3 L1859.7,579.6 L1859.7,580.9 L1859.6,582.2 L1859.6,583.5 L1859.5,584.8 L1859.5,586.1 L1859.4,587.4 L1859.4,588.7 L1859.3,590.0 L1859.3,591.3 L1859.3,592.6 L1859.3,593.9 L1859.3,595.2 L1859.3,596.5 L1859.3,597.8 L1859.4,599.1 L1859.4,600.4 L1859.4,601.7 L1859.5,603.0 L1859.6,604.3 L1859.6,605.6 L1859.7,606.9 L1859.8,608.2 L1859.9,609.5 L1860.0,610.8 L1860.1,612.0 L1860.3,613.3 L1860.4,614.6 L1860.5,615.9 L1860.7,617.2 L1860.9,618.5 L1861.0,619.8 L1861.2,621.1 L1861.4,622.4 L1861.6,623.7 L1861.7,625.0 L1861.9,626.3 L1862.1,627.6 L1862.3,628.9 L1862.6,630.2 L1862.8,631.5 L1863.0,632.8 L1863.2,634.1 L1863.4,635.4 L1863.7,636.7 L1863.9,638.0 L1864.1,639.3 L1864.4,640.6 L1864.6,641.9 L1864.9,643.2 L1865.1,644.5 L1865.4,645.8 L1865.7,647.1 L1865.9,648.4 L1866.2,649.7 L1866.5,651.0 L1866.8,652.3 L1867.0,653.6 L1867.3,654.9 L1867.6,656.2 L1868.0,657.5 L1868.3,658.8 L1868.6,660.1 L1868.9,661.4 L1869.3,662.7 L1869.6,664.0 L1870.0,665.3 L1870.4,666.6 L1870.7,667.9 L1871.1,669.2 L1871.5,670.5 L1871.9,671.8 L1872.3,673.1 L1872.8,674.4 L1873.2,675.7 L1873.7,677.0 L1874.1,678.3 L1874.6,679.6 L1875.0,680.9 L1875.5,682.2 L1876.0,683.5 L1876.5,684.8 L1877.0,686.1 L1877.5,687.4 L1878.0,688.7 L1878.5,690.0 L1879.1,691.3 L1879.6,692.6 L1880.1,693.9 L1880.7,695.2 L1881.2,696.5 L1881.7,697.8 L1882.3,699.1 L1882.8,700.4 L1883.4,701.7 L1883.9,703.0 L1884.5,704.3 L1885.0,705.6 L1885.5,706.9 L1886.1,708.2 L1886.6,709.5 L1887.2,710.8 L1887.7,712.1 L1888.2,713.4 L1888.8,714.7 L1889.3,716.0 L1889.8,717.3 L1890.4,718.6 L1890.9,719.9 L1891.4,721.1 L1892.0,722.4 L1892.5,723.7 L1893.0,725.0 L1893.6,726.3 L1894.1,727.6 L1894.7,728.9 L1895.2,730.2 L1895.8,731.5 L1896.4,732.8 L1896.9,734.1 L1897.5,735.4 L1898.1,736.7 L1898.7,738.0 L1899.3,739.3 L1900.0,740.6 L1900.6,741.9 L1901.2,743.2 L1901.9,744.5 L1902.6,745.8 L1903.3,747.1 L1904.0,748.4 L1904.7,749.7 L1905.4,751.0 L1906.1,752.3 L1906.9,753.6 L1907.7,754.9 L1908.4,756.2 L1909.2,757.5 L1910.0,758.8 L1910.8,760.1 L1911.6,761.4 L1912.4,762.7 L1913.3,764.0 L1914.1,765.3 L1914.9,766.6 L1915.7,767.9 L1916.6,769.2 L1917.4,770.5 L1918.2,771.8 L1919.0,773.1 L1919.8,774.4 L1920.6,775.7 L1921.4,777.0 L1922.1,778.3 L1922.9,779.6 L1923.6,780.9 L1924.3,782.2 L1924.9,783.5 L1925.6,784.8 L1926.2,786.1 L1926.8,787.4 L1927.3,788.7 L1927.9,790.0 L1928.3,791.3 L1928.8,792.6 L1929.2,793.9 L1929.5,795.2 L1929.8,796.5 L1930.1,797.8 L1930.3,799.1 L1930.5,800.4 L1930.6,801.7 L1930.7,803.0 L1930.7,804.3 L1930.7,805.6 L1930.6,806.9 L1930.4,808.2 L1930.3,809.5 L1930.0,810.8 L1929.7,812.1 L1929.4,813.4 L1929.0,814.7 L1928.5,816.0 L1928.0,817.3 L1927.5,818.6 L1926.9,819.9 L1926.2,821.2 L1925.5,822.5 L1924.8,823.8 L1924.0,825.1 L1923.2,826.4 L1922.3,827.7 L1921.4,829.0 L1920.4,830.2 L1919.5,831.5 L1918.4,832.8 L1917.4,834.1 L1916.3,835.4 L1915.2,836.7 L1914.1,838.0 L1912.9,839.3 L1911.8,840.6 L1910.6,841.9 L1909.4,843.2 L1908.1,844.5 L1906.9,845.8 L1905.7,847.1 L1904.4,848.4 L1903.1,849.7 L1901.9,851.0 L1900.6,852.3 L1899.3,853.6 L1898.1,854.9 L1896.8,856.2 L1895.6,857.5 L1894.3,858.8 L1893.1,860.1 L1891.8,861.4 L1890.6,862.7 L1889.4,864.0 L1888.2,865.3 L1887.0,866.6 L1885.9,867.9 L1884.7,869.2 L1883.6,870.5 L1882.5,871.8 L1881.4,873.1 L1880.3,874.4 L1879.2,875.7 L1878.2,877.0 L1877.2,878.3 L1876.2,879.6 L1875.2,880.9 L1874.3,882.2 L1873.4,883.5 L1872.5,884.8 L1871.6,886.1 L1870.7,887.4 L1851.2,887.4 L1851.2,556.2 Z" fill="#0000FF"/>
<path d="M1860.2,556.2 L1860.3,557.5 L1860.3,558.8 L1860.3,560.1 L1860.3,561.4 L1860.3,562.7 L1860.3,564.0 L1860.3,565.3 L1860.2,566.6 L1860.2,567.9 L1860.2,569.2 L1860.1,570.5 L1860.1,571.8 L1860.0,573.1 L1860.0,574.4 L1859.9,575.7 L1859.8,577.0 L1859.8,578.3 L1859.7,579.6 L1859.7,580.9 L1859.6,582.2 L1859.6,583.5 L1859.5,584.8 L1859.5,586.1 L1859.4,587.4 L1859.4,588.7 L1859.3,590.0 L1859.3,591.3 L1859.3,592.6 L1859.3,593.9 L1859.3,595.2 L1859.3,596.5 L1859.3,597.8 L1859.4,599.1 L1859.4,600.4 L1859.4,601.7 L1859.5,603.0 L1859.6,604.3 L1859.6,605.6 L1859.7,606.9 L1859.8,608.2 L1859.9,609.5 L1860.0,610.8 L1860.1,612.0 L1860.3,613.3 L1860.4,614.6 L1860.5,615.9 L1860.7,617.2 L1860.9,618.5 L1861.0,619.8 L1861.2,621.1 L1861.4,622.4 L1861.6,623.7 L1861.7,625.0 L1861.9,626.3 L1862.1,627.6 L1862.3,628.9 L1862.6,630.2 L1862.8,631.5 L1863.0,632.8 L1863.2,634.1 L1863.4,635.4 L1863.7,636.7 L1863.9,638.0 L1864.1,639.3 L1864.4,640.6 L1864.6,641.9 L1864.9,643.2 L1865.1,644.5 L1865.4,645.8 L1865.7,647.1 L1865.9,648.4 L1866.2,649.7 L1866.5,651.0 L1866.8,652.3 L1867.0,653.6 L1867.3,654.9 L1867.6,656.2 L1868.0,657.5 L1868.3,658.8 L1868.6,660.1 L1868.9,661.4 L1869.3,662.7 L1869.6,664.0 L1870.0,665.3 L1870.4,666.6 L1870.7,667.9 L1871.1,669.2 L1871.5,670.5 L1871.9,671.8 L1872.3,673.1 L1872.8,674.4 L1873.2,675.7 L1873.7,677.0 L1874.1,678.3 L1874.6,679.6 L1875.0,680.9 L1875.5,682.2 L1876.0,683.5 L1876.5,684.8 L1877.0,686.1 L1877.5,687.4 L1878.0,688.7 L1878.5,690.0 L1879.1,691.3 L1879.6,692.6 L1880.1,693.9 L1880.7,695.2 L1881.2,696.5 L1881.7,697.8 L1882.3,699.1 L1882.8,700.4 L1883.4,701.7 L1883.9,703.0 L1884.5,704.3 L1885.0,705.6 L1885.5,706.9 L1886.1,708.2 L1886.6,709.5 L1887.2,710.8 L1887.7,712.1 L1888.2,713.4 L1888.8,714.7 L1889.3,716.0 L1889.8,717.3 L1890.4,718.6 L1890.9,719.9 L1891.4,721.1 L1892.0,722.4 L1892.5,723.7 L1893.0,725.0 L1893.6,726.3 L1894.1,727.6 L1894.7,728.9 L1895.2,730.2 L1895.8,731.5 L1896.4,732.8 L1896.9,734.1 L1897.5,735.4 L1898.1,736.7 L1898.7,738.0 L1899.3,739.3 L1900.0,740.6 L1900.6,741.9 L1901.2,743.2 L1901.9,744.5 L1902.6,745.8 L1903.3,747.1 L1904.0,748.4 L1904.7,749.7 L1905.4,751.0 L1906.1,752.3 L1906.9,753.6 L1907.7,754.9 L1908.4,756.2 L1909.2,757.5 L1910.0,758.8 L1910.8,760.1 L1911.6,761.4 L1912.4,762.7 L1913.3,764.0 L1914.1,765.3 L1914.9,766.6 L1915.7,767.9 L1916.6,769.2 L1917.4,770.5 L1918.2,771.8 L1919.0,773.1 L1919.8,774.4 L1920.6,775.7 L1921.4,777.0 L1922.1,778.3 L1922.9,779.6 L1923.6,780.9 L1924.3,782.2 L1924.9,783.5 L1925.6,784.8 L1926.2,786.1 L1926.8,787.4 L1927.3,788.7 L1927.9,790.0 L1928.3,791.3 L1928.8,792.6 L1929.2,793.9 L1929.5,795.2 L1929.8,796.5 L1930.1,797.8 L1930.3,799.1 L1930.5,800.4 L1930.6,801.7 L1930.7,803.0 L1930.7,804.3 L1930.7,805.6 L1930.6,806.9 L1930.4,808.2 L1930.3,809.5 L1930.0,810.8 L1929.7,812.1 L1929.4,813.4 L1929.0,814.7 L1928.5,816.0 L1928.0,817.3 L1927.5,818.6 L1926.9,819.9 L1926.2,821.2 L1925.5,822.5 L1924.8,823.8 L1924.0,825.1 L1923.2,826.4 L1922.3,827.7 L1921.4,829.0 L1920.4,830.2 L1919.5,831.5 L1918.4,832.8 L1917.4,834.1 L1916.3,835.4 L1915.2,836.7 L1914.1,838.0 L1912.9,839.3 L1911.8,840.6 L1910.6,841.9 L1909.4,843.2 L1908.1,844.5 L1906.9,845.8 L1905.7,847.1 L1904.4,848.4 L1903.1,849.7 L1901.9,851.0 L1900.6,852.3 L1899.3,853.6 L1898.1,854.9 L1896.8,856.2 L1895.6,857.5 L1894.3,858.8 L1893.1,860.1 L1891.8,861.4 L1890.6,862.7 L1889.4,864.0 L1888.2,865.3 L1887.0,866.6 L1885.9,867.9 L1884.7,869.2 L1883.6,870.5 L1882.5,871.8 L1881.4,873.1 L1880.3,874.4 L1879.2,875.7 L1878.2,877.0 L1877.2,878.3 L1876.2,879.6 L1875.2,880.9 L1874.3,882.2 L1873.4,883.5 L1872.5,884.8 L1871.6,886.1 L1870.7,887.4" fill="none" stroke="#000" stroke-width="1.5" stroke-linejoin="round"/>
<text transform="translate(1318.08,506.30)" font-size="35.5" font-weight="bold" font-family="'Liberation Serif', 'Times New Roman', serif">F</text>
<path d="M67.6,1008.6 V1480.4 H606.9" fill="none" stroke="#000" stroke-width="1.2"/>
<g stroke="#333" stroke-width="1.3"><line x1="92.0" y1="1480.4" x2="92.0" y2="1483.0"/><line x1="64.8" y1="1459.1" x2="67.6" y2="1459.1"/><line x1="214.6" y1="1480.4" x2="214.6" y2="1483.0"/><line x1="64.8" y1="1351.8" x2="67.6" y2="1351.8"/><line x1="337.1" y1="1480.4" x2="337.1" y2="1483.0"/><line x1="64.8" y1="1244.6" x2="67.6" y2="1244.6"/><line x1="459.7" y1="1480.4" x2="459.7" y2="1483.0"/><line x1="64.8" y1="1137.3" x2="67.6" y2="1137.3"/><line x1="582.3" y1="1480.4" x2="582.3" y2="1483.0"/><line x1="64.8" y1="1030.1" x2="67.6" y2="1030.1"/></g>
<text transform="translate(81.48,1493.10) scale(1.080,1)" font-size="10.0" fill="#4D4D4D" stroke="#4D4D4D" stroke-width="0.3">0.00</text>
<text transform="translate(41.00,1462.90) scale(1.080,1)" font-size="10.0" fill="#4D4D4D" stroke="#4D4D4D" stroke-width="0.3">0.00</text>
<text transform="translate(204.07,1493.10) scale(1.080,1)" font-size="10.0" fill="#4D4D4D" stroke="#4D4D4D" stroke-width="0.3">0.25</text>
<text transform="translate(41.03,1355.65) scale(1.080,1)" font-size="10.0" fill="#4D4D4D" stroke="#4D4D4D" stroke-width="0.3">0.25</text>
<text transform="translate(326.63,1493.10) scale(1.080,1)" font-size="10.0" fill="#4D4D4D" stroke="#4D4D4D" stroke-width="0.3">0.50</text>
<text transform="translate(41.00,1248.40) scale(1.080,1)" font-size="10.0" fill="#4D4D4D" stroke="#4D4D4D" stroke-width="0.3">0.50</text>
<text transform="translate(449.22,1493.10) scale(1.080,1)" font-size="10.0" fill="#4D4D4D" stroke="#4D4D4D" stroke-width="0.3">0.75</text>
<text transform="translate(41.03,1141.15) scale(1.080,1)" font-size="10.0" fill="#4D4D4D" stroke="#4D4D4D" stroke-width="0.3">0.75</text>
<text transform="translate(571.59,1493.10) scale(1.080,1)" font-size="10.0" fill="#4D4D4D" stroke="#4D4D4D" stroke-width="0.3">1.00</text>
<text transform="translate(41.00,1033.90) scale(1.080,1)" font-size="10.0" fill="#4D4D4D" stroke="#4D4D4D" stroke-width="0.3">1.00</text>
<line x1="92.0" y1="1459.1" x2="582.3" y2="1030.1" stroke="#000" stroke-width="1.2" stroke-dasharray="4.9,4.1" stroke-dashoffset="1.0"/>
<path d="M92.0,1459.1 L92.0,1173.1 L201.0,1173.1 L201.0,1125.4 L255.4,1125.4 L255.4,1101.6 L309.9,1101.6 L309.9,1077.8 L473.3,1077.8 L473.3,1053.9 L582.3,1053.9 L582.3,1030.1" fill="none" stroke="#FF0000" stroke-width="2.3" stroke-linejoin="round"/>
<text transform="translate(322.11,1006.80) scale(1.080,1)" font-size="16.8" stroke="#000" stroke-width="0.3">CLU</text>
<text transform="translate(301.90,1505.90) scale(1.080,1)" font-size="11.65" stroke="#000" stroke-width="0.3">1−Specificity</text>
<text transform="translate(34.60,1271.07) scale(1.080,1) rotate(-90)" font-size="11.65" stroke="#000" stroke-width="0.3">Sensitivity</text>
<text transform="translate(376.93,1397.10) scale(1.080,1)" font-size="13.0" stroke="#000" stroke-width="0.3">Optimal Cutoff value:</text>
<text transform="translate(516.47,1397.10) scale(1.080,1)" font-size="13.0" stroke="#000" stroke-width="0.3">3.375401404</text>
<text transform="translate(377.56,1416.70) scale(1.080,1)" font-size="13.0" stroke="#000" stroke-width="0.3">AUC</text>
<text transform="translate(407.26,1416.70) scale(1.080,1)" font-size="13.0" font-family="'Liberation Sans', 'Noto Sans CJK SC', 'WenQuanYi Zen Hei', sans-serif" stroke="#000" stroke-width="0.3">：</text>
<text transform="translate(420.44,1416.70) scale(1.080,1)" font-size="13.0" stroke="#000" stroke-width="0.3">0.833</text>
<text transform="translate(376.93,1436.30) scale(1.080,1)" font-size="13.0" stroke="#000" stroke-width="0.3">95% IC</text>
<text transform="translate(423.02,1436.30) scale(1.080,1)" font-size="13.0" font-family="'Liberation Sans', 'Noto Sans CJK SC', 'WenQuanYi Zen Hei', sans-serif" stroke="#000" stroke-width="0.3">：</text>
<text transform="translate(437.54,1436.30) scale(1.080,1)" font-size="13.0" stroke="#000" stroke-width="0.3">0.679−0.988</text>
<text transform="translate(376.69,1455.40) scale(1.080,1)" font-size="13.0" stroke="#000" stroke-width="0.3">p &lt; 0.001</text>
<text transform="translate(3.52,994.60)" font-size="35.5" font-weight="bold" font-family="'Liberation Serif', 'Times New Roman', serif">G</text>
<path d="M740.8,1006.0 V1480.3 H1280.1" fill="none" stroke="#000" stroke-width="1.2"/>
<g stroke="#333" stroke-width="1.3"><line x1="765.2" y1="1480.3" x2="765.2" y2="1482.9"/><line x1="738.0" y1="1458.7" x2="740.8" y2="1458.7"/><line x1="887.8" y1="1480.3" x2="887.8" y2="1482.9"/><line x1="738.0" y1="1350.9" x2="740.8" y2="1350.9"/><line x1="1010.4" y1="1480.3" x2="1010.4" y2="1482.9"/><line x1="738.0" y1="1243.1" x2="740.8" y2="1243.1"/><line x1="1133.0" y1="1480.3" x2="1133.0" y2="1482.9"/><line x1="738.0" y1="1135.3" x2="740.8" y2="1135.3"/><line x1="1255.6" y1="1480.3" x2="1255.6" y2="1482.9"/><line x1="738.0" y1="1027.5" x2="740.8" y2="1027.5"/></g>
<text transform="translate(754.68,1493.00) scale(1.080,1)" font-size="10.0" fill="#4D4D4D" stroke="#4D4D4D" stroke-width="0.3">0.00</text>
<text transform="translate(714.20,1462.50) scale(1.080,1)" font-size="10.0" fill="#4D4D4D" stroke="#4D4D4D" stroke-width="0.3">0.00</text>
<text transform="translate(877.30,1493.00) scale(1.080,1)" font-size="10.0" fill="#4D4D4D" stroke="#4D4D4D" stroke-width="0.3">0.25</text>
<text transform="translate(714.23,1354.70) scale(1.080,1)" font-size="10.0" fill="#4D4D4D" stroke="#4D4D4D" stroke-width="0.3">0.25</text>
<text transform="translate(999.88,1493.00) scale(1.080,1)" font-size="10.0" fill="#4D4D4D" stroke="#4D4D4D" stroke-width="0.3">0.50</text>
<text transform="translate(714.20,1246.90) scale(1.080,1)" font-size="10.0" fill="#4D4D4D" stroke="#4D4D4D" stroke-width="0.3">0.50</text>
<text transform="translate(1122.50,1493.00) scale(1.080,1)" font-size="10.0" fill="#4D4D4D" stroke="#4D4D4D" stroke-width="0.3">0.75</text>
<text transform="translate(714.23,1139.10) scale(1.080,1)" font-size="10.0" fill="#4D4D4D" stroke="#4D4D4D" stroke-width="0.3">0.75</text>
<text transform="translate(1244.89,1493.00) scale(1.080,1)" font-size="10.0" fill="#4D4D4D" stroke="#4D4D4D" stroke-width="0.3">1.00</text>
<text transform="translate(714.20,1031.30) scale(1.080,1)" font-size="10.0" fill="#4D4D4D" stroke="#4D4D4D" stroke-width="0.3">1.00</text>
<line x1="765.2" y1="1458.7" x2="1255.6" y2="1027.5" stroke="#000" stroke-width="1.2" stroke-dasharray="4.9,4.1" stroke-dashoffset="1.0"/>
<path d="M765.2,1458.7 L765.2,1219.1 L874.2,1219.1 L874.2,1171.2 L983.2,1171.2 L983.2,1075.4 L1037.6,1075.4 L1037.6,1051.5 L1092.1,1051.5 L1092.1,1027.5 L1255.6,1027.5" fill="none" stroke="#FF0000" stroke-width="2.3" stroke-linejoin="round"/>
<text transform="translate(990.54,1002.00) scale(1.080,1)" font-size="16.8" stroke="#000" stroke-width="0.3">FOS</text>
<text transform="translate(975.15,1505.80) scale(1.080,1)" font-size="11.65" stroke="#000" stroke-width="0.3">1−Specificity</text>
<text transform="translate(707.80,1269.57) scale(1.080,1) rotate(-90)" font-size="11.65" stroke="#000" stroke-width="0.3">Sensitivity</text>
<text transform="translate(1050.83,1395.60) scale(1.080,1)" font-size="13.0" stroke="#000" stroke-width="0.3">Optimal Cutoff value:</text>
<text transform="translate(1190.58,1395.60) scale(1.080,1)" font-size="13.0" stroke="#000" stroke-width="0.3">4.414975135</text>
<text transform="translate(1051.46,1415.70) scale(1.080,1)" font-size="13.0" stroke="#000" stroke-width="0.3">AUC</text>
<text transform="translate(1081.16,1415.70) scale(1.080,1)" font-size="13.0" font-family="'Liberation Sans', 'Noto Sans CJK SC', 'WenQuanYi Zen Hei', sans-serif" stroke="#000" stroke-width="0.3">：</text>
<text transform="translate(1094.14,1415.70) scale(1.080,1)" font-size="13.0" stroke="#000" stroke-width="0.3">0.809</text>
<text transform="translate(1050.83,1435.50) scale(1.080,1)" font-size="13.0" stroke="#000" stroke-width="0.3">95% IC</text>
<text transform="translate(1096.92,1435.50) scale(1.080,1)" font-size="13.0" font-family="'Liberation Sans', 'Noto Sans CJK SC', 'WenQuanYi Zen Hei', sans-serif" stroke="#000" stroke-width="0.3">：</text>
<text transform="translate(1111.34,1435.50) scale(1.080,1)" font-size="13.0" stroke="#000" stroke-width="0.3">0.64−0.977</text>
<text transform="translate(1050.59,1455.20) scale(1.080,1)" font-size="13.0" stroke="#000" stroke-width="0.3">p &lt; 0.001</text>
<text transform="translate(648.48,994.70)" font-size="35.5" font-weight="bold" font-family="'Liberation Serif', 'Times New Roman', serif">H</text>
<path d="M1405.5,1008.2 V1480.5 H1944.5" fill="none" stroke="#000" stroke-width="1.2"/>
<g stroke="#333" stroke-width="1.3"><line x1="1430.0" y1="1480.5" x2="1430.0" y2="1483.1"/><line x1="1402.7" y1="1459.1" x2="1405.5" y2="1459.1"/><line x1="1552.5" y1="1480.5" x2="1552.5" y2="1483.1"/><line x1="1402.7" y1="1351.8" x2="1405.5" y2="1351.8"/><line x1="1675.0" y1="1480.5" x2="1675.0" y2="1483.1"/><line x1="1402.7" y1="1244.4" x2="1405.5" y2="1244.4"/><line x1="1797.5" y1="1480.5" x2="1797.5" y2="1483.1"/><line x1="1402.7" y1="1137.0" x2="1405.5" y2="1137.0"/><line x1="1920.0" y1="1480.5" x2="1920.0" y2="1483.1"/><line x1="1402.7" y1="1029.7" x2="1405.5" y2="1029.7"/></g>
<text transform="translate(1419.48,1493.20) scale(1.080,1)" font-size="10.0" fill="#4D4D4D" stroke="#4D4D4D" stroke-width="0.3">0.00</text>
<text transform="translate(1378.90,1462.90) scale(1.080,1)" font-size="10.0" fill="#4D4D4D" stroke="#4D4D4D" stroke-width="0.3">0.00</text>
<text transform="translate(1542.00,1493.20) scale(1.080,1)" font-size="10.0" fill="#4D4D4D" stroke="#4D4D4D" stroke-width="0.3">0.25</text>
<text transform="translate(1378.93,1355.55) scale(1.080,1)" font-size="10.0" fill="#4D4D4D" stroke="#4D4D4D" stroke-width="0.3">0.25</text>
<text transform="translate(1664.48,1493.20) scale(1.080,1)" font-size="10.0" fill="#4D4D4D" stroke="#4D4D4D" stroke-width="0.3">0.50</text>
<text transform="translate(1378.90,1248.20) scale(1.080,1)" font-size="10.0" fill="#4D4D4D" stroke="#4D4D4D" stroke-width="0.3">0.50</text>
<text transform="translate(1787.00,1493.20) scale(1.080,1)" font-size="10.0" fill="#4D4D4D" stroke="#4D4D4D" stroke-width="0.3">0.75</text>
<text transform="translate(1378.93,1140.85) scale(1.080,1)" font-size="10.0" fill="#4D4D4D" stroke="#4D4D4D" stroke-width="0.3">0.75</text>
<text transform="translate(1909.29,1493.20) scale(1.080,1)" font-size="10.0" fill="#4D4D4D" stroke="#4D4D4D" stroke-width="0.3">1.00</text>
<text transform="translate(1378.90,1033.50) scale(1.080,1)" font-size="10.0" fill="#4D4D4D" stroke="#4D4D4D" stroke-width="0.3">1.00</text>
<line x1="1430.0" y1="1459.1" x2="1920.0" y2="1029.7" stroke="#000" stroke-width="1.2" stroke-dasharray="4.9,4.1" stroke-dashoffset="1.0"/>
<path d="M1430.0,1459.1 L1430.0,1220.5 L1484.4,1220.5 L1484.4,1149.0 L1647.8,1149.0 L1647.8,1101.3 L1811.1,1101.3 L1811.1,1029.7 L1920.0,1029.7" fill="none" stroke="#FF0000" stroke-width="2.3" stroke-linejoin="round"/>
<text transform="translate(1634.30,1005.60) scale(1.080,1)" font-size="16.8" stroke="#000" stroke-width="0.3">CXCL8</text>
<text transform="translate(1639.75,1506.00) scale(1.080,1)" font-size="11.65" stroke="#000" stroke-width="0.3">1−Specificity</text>
<text transform="translate(1372.50,1270.87) scale(1.080,1) rotate(-90)" font-size="11.65" stroke="#000" stroke-width="0.3">Sensitivity</text>
<text transform="translate(1715.63,1400.40) scale(1.080,1)" font-size="13.0" stroke="#000" stroke-width="0.3">Optimal Cutoff value:</text>
<text transform="translate(1855.25,1400.40) scale(1.080,1)" font-size="13.0" stroke="#000" stroke-width="0.3">15.18779843</text>
<text transform="translate(1716.26,1418.20) scale(1.080,1)" font-size="13.0" stroke="#000" stroke-width="0.3">AUC</text>
<text transform="translate(1745.96,1418.20) scale(1.080,1)" font-size="13.0" font-family="'Liberation Sans', 'Noto Sans CJK SC', 'WenQuanYi Zen Hei', sans-serif" stroke="#000" stroke-width="0.3">：</text>
<text transform="translate(1762.84,1418.20) scale(1.080,1)" font-size="13.0" stroke="#000" stroke-width="0.3">0.802</text>
<text transform="translate(1715.63,1436.40) scale(1.080,1)" font-size="13.0" stroke="#000" stroke-width="0.3">95% IC</text>
<text transform="translate(1761.72,1436.40) scale(1.080,1)" font-size="13.0" font-family="'Liberation Sans', 'Noto Sans CJK SC', 'WenQuanYi Zen Hei', sans-serif" stroke="#000" stroke-width="0.3">：</text>
<text transform="translate(1775.84,1436.40) scale(1.080,1)" font-size="13.0" stroke="#000" stroke-width="0.3">0.635−0.97</text>
<text transform="translate(1715.39,1454.50) scale(1.080,1)" font-size="13.0" stroke="#000" stroke-width="0.3">p &lt; 0.001</text>
<text transform="translate(1316.35,994.70)" font-size="35.5" font-weight="bold" font-family="'Liberation Serif', 'Times New Roman', serif">I</text></svg>
</body></html>
